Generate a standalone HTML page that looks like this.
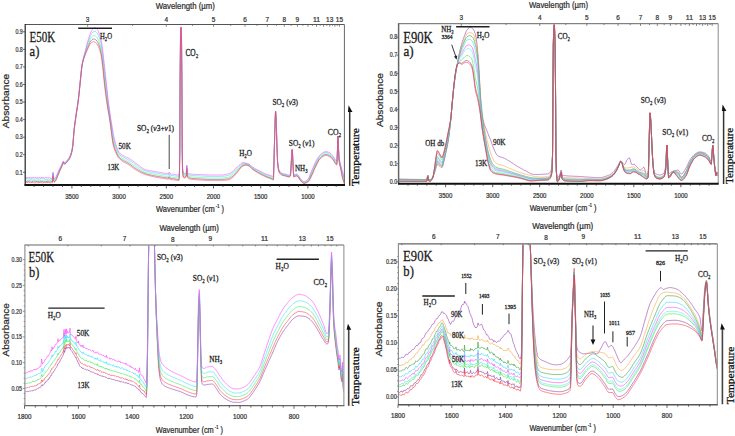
<!DOCTYPE html>
<html><head><meta charset="utf-8"><style>
html,body{margin:0;padding:0;background:#fff;width:735px;height:436px;overflow:hidden}
svg{display:block}
</style></head><body>
<svg width="735" height="436" viewBox="0 0 735 436">
<defs><filter id="soft" x="-5%" y="-5%" width="110%" height="110%"><feGaussianBlur stdDeviation="0.3"/></filter></defs>
<rect width="735" height="436" fill="#fff"/>
<clipPath id="cA"><rect x="25.5" y="25" width="318.5" height="159.5"/></clipPath>
<g clip-path="url(#cA)"><g filter="url(#soft)" fill="none" stroke-linejoin="round" stroke-width="0.75">
<path d="M25 181.4L25.5 181.1 26 181.5 26.5 181.6 27 181.2 27.5 181.3 28 181.3 28.5 181.4 29 181 29.5 181.1 30 181.4 30.5 181.7 31 181.6 31.5 181.9 32 181.7 32.5 181.4 33 181.5 33.5 181 34 181.3 34.5 181.3 35 181.6 35.5 181.7 36 181.4 36.5 181.4 37 181.2 37.5 181.5 38 181.6 38.5 181.7 39 181.4 39.5 182.1 40 181.9 40.5 181.6 41 181.5 41.5 181.5 42 181.7 42.5 181.6 43 181.8 43.5 181.8 44 182 44.5 181.9 45 181.6 45.5 181.7 46 181.5 46.5 181.5 47 182.1 47.5 181.5 48 182.2 48.5 181.6 49 181.7 49.5 181.9 50 181.7 50.5 181.8 51 181.6 51.5 181.6 52 181.6 52.4 181.5 52.5 181.6 53 175.2 53.5 180.1 53.6 180.6 54 181.2 54.5 181.5 55 181.1 55.5 180.3 56 179.5 56.5 178.5 57 177.3 57.5 176.1 58 174.8 58.5 173.6 59 172.4 59.5 171.3 60 170.2 60.5 169 61 167.9 61.5 166.8 62 165.6 62.5 164.4 62.6 164.2 63 163 63.3 162.4 63.5 162.6 64 163.7 64.2 163.9 64.5 163.8 65 163.7 65.5 163.4 66 163.1 66.5 162.5 67 161.8 67.5 161.2 68 160.6 68.5 159.9 69 159.3 69.5 158.4 70 157.4 70.5 156.2 71 154.7 71.2 154.1 71.5 153 72 151 72.5 148.2 72.6 147.6 73 143.9 73.5 137.6 74 131.6 74.1 130.6 74.5 127.1 75 123.3 75.5 119.7 75.7 118.2 76 116.1 76.5 112.7 77 109.5 77.5 106.2 78 102.7 78.4 99.6 78.5 98.8 79 94.3 79.5 89.4 80 84.4 80.5 79.6 81 74.6 81.5 69.7 82 65.8 82.5 63.1 83 60.9 83.5 59.1 84 57.5 84.5 56.1 85 54.8 85.5 53.4 86 52 86.5 50.7 87 49.4 87.5 48.1 88 46.9 88.5 45.7 89 44.5 89.5 43.4 90 42.3 90.5 41.4 91 40.8 91.5 40.3 92 39.8 92.5 39.4 93 39.2 93.5 39 94 39 94.5 39.1 95 39.3 95.3 39.5 95.5 39.6 96 40 96.5 40.5 97 41.1 97.5 41.9 98 42.8 98.5 43.9 99 45 99.5 46.3 100 47.9 100.5 49.8 101 52 101.5 54.7 102 58.2 102.5 62.2 103 66.6 103.5 71.3 104 76.5 104.5 81.3 105 85.6 105.5 89.8 106 93.7 106.4 96.7 106.5 97.5 107 101.1 107.5 104.5 108 107.7 108.2 109 108.5 110.8 109 113.9 109.5 117.1 110 120.3 110.5 123.8 111 127.6 111.5 131.5 112 135.2 112.5 138.7 113 141.7 113.4 143.6 113.5 144 114 145.9 114.5 147.5 115 148.9 115.4 149.9 115.5 150.2 116 151.4 116.5 152.6 117 153.7 117.5 154.8 118 155.7 118.5 156.4 119 157.1 119.5 157.7 119.8 158 120 158.2 120.5 158.6 121 159 121.5 159.4 122 159.8 122.5 160.1 123 160.4 123.5 160.7 124 161 124.5 161.2 125 161.5 125.5 161.7 126 162 126.5 162.2 127 162.5 127.5 162.7 128 163 128.5 163.3 129 163.7 129.5 164 130 164.3 130.5 164.7 131 165.1 131.5 165.4 132 165.8 132.5 166.2 133 166.6 133.5 166.9 134 167.3 134.5 167.7 135 168 135.5 168.3 136 168.7 136.5 169 137 169.3 137.5 169.6 138 169.9 138.5 170.2 139 170.5 139.5 170.8 140 171 140.5 171.3 141 171.6 141.5 171.9 142 172.1 142.5 172.4 143 172.6 143.5 172.8 144 173 144.5 173.2 145 173.4 145.5 173.6 146 173.7 146.5 173.9 147 174 147.5 174.2 148 174.3 148.5 174.5 149 174.6 149.5 174.7 150 174.8 150.5 175 151 175.1 151.5 175.2 152 175.3 152.5 175.4 153 175.5 153.5 175.6 154 175.7 154.5 175.8 155 175.9 155.5 176 156 176.1 156.5 176.2 157 176.3 157.5 176.4 158 176.5 158.5 176.5 159 176.6 159.5 176.7 160 176.8 160.5 176.9 161 176.9 161.5 177 162 177.1 162.5 177.2 163 177.3 163.5 177.3 164 177.4 164.5 177.5 165 177.6 165.5 177.6 166 177.7 166.5 177.8 167 177.9 167.5 178 168 178 168.5 178.1 169 177 169.2 176.8 169.5 177.2 170 178.2 170.5 178.3 171 178.4 171.5 178.5 172 178.6 172.5 178.7 173 178.7 173.5 178.7 174 178.8 174.5 178.8 175 178.9 175.5 179 176 179.1 176.5 179.2 177 179.3 177.5 179.4 178 179.4 178.5 179.5 178.8 179.5 179 178.9 179.4 175 179.5 172.2 179.8 149.6 180 102 180.1 79.6 180.5 37.8 181 27.4 181.5 37.8 181.9 79.6 182 102.3 182.2 149.6 182.5 168.8 182.6 171.2 183 175 183.4 176.5 183.5 176.7 184 177.1 184.5 177.1 185 177 185.5 176.7 186 176.4 186.3 176.1 186.5 173.2 186.8 168.2 187 170.2 187.4 176.1 187.5 176.3 188 176.9 188.5 177.4 189 177.7 189.5 177.9 190 178 190.5 178.1 191 178.2 191.5 178.2 192 178.3 192.5 178.4 193 178.4 193.5 178.5 194 178.5 194.5 178.6 195 178.6 195.5 178.6 196 178.7 196.5 178.7 197 178.7 197.5 178.8 198 178.8 198.5 178.8 199 178.8 199.5 178.9 200 178.9 200.5 178.9 201 179 201.5 179 202 179 202.5 179.1 203 179.1 203.5 179.1 204 179.2 204.5 179.2 205 179.2 205.5 179.3 206 179.3 206.5 179.3 207 179.3 207.5 179.4 208 179.4 208.5 179.4 209 179.4 209.5 179.4 210 179.4 210.5 179.4 211 179.4 211.5 179.4 212 179.4 212.5 179.4 213 179.4 213.5 179.4 214 179.4 214.5 179.4 215 179.4 215.5 179.4 216 179.4 216.5 179.4 217 179.4 217.5 179.4 218 179.4 218.5 179.4 219 179.4 219.5 179.4 220 179.4 220.5 179.4 221 179.4 221.5 179.4 222 179.4 222.5 179.3 223 179.3 223.5 179.3 224 179.2 224.5 179.2 225 179.2 225.5 179.1 226 179.1 226.5 179 227 178.9 227.5 178.9 228 178.8 228.5 178.7 229 178.5 229.5 178.3 230 178.1 230.5 177.8 231 177.5 231.5 177.1 232 176.8 232.5 176.4 233 176 233.5 175.5 234 175 234.5 174.5 235 173.9 235.5 173.3 236 172.8 236.5 172.2 237 171.7 237.5 171 238 170.4 238.5 169.8 239 169.2 239.5 168.6 240 168.1 240.5 167.6 241 167 241.5 166.4 242 165.9 242.5 165.5 243 165.3 243.5 165.1 244 165 244.5 164.9 245 164.8 245.5 164.8 246 164.8 246.1 164.8 246.5 164.8 247 164.9 247.5 165 248 165.2 248.5 165.4 249 165.6 249.5 165.9 250 166.4 250.5 166.9 251 167.5 251.5 168 252 168.5 252.5 168.9 253 169.2 253.5 169.6 254 169.9 254.5 170.2 255 170.5 255.5 170.8 256 171.1 256.5 171.4 257 171.7 257.5 172 258 172.3 258.5 172.6 259 172.9 259.5 173.1 260 173.4 260.5 173.7 261 173.9 261.5 174.2 262 174.5 262.5 174.7 263 175 263.5 175.2 264 175.5 264.5 175.7 265 175.9 265.5 176.2 266 176.4 266.5 176.6 267 176.8 267.5 177 268 177.2 268.5 177.4 269 177.6 269.5 177.8 270 178 270.5 178.1 271 178.3 271.5 178.5 272 178.7 272.5 179 273 179.2 273.4 179.3 273.5 178.6 274 161.5 274.3 149.6 274.5 142.7 275 123.6 275.5 111.8 275.6 111.4 276 117.1 276.5 132 276.6 134.8 277 148.1 277.5 161.6 278 166.5 278.5 169.8 279 171.6 279.5 172.5 280 173.2 280.5 173.7 281 174.1 281.5 174.5 282 174.8 282.5 175 283 175.2 283.5 175.3 284 175.4 284.5 175.5 285 175.6 285.5 175.7 286 175.9 286.5 176 287 176.2 287.5 176.4 288 176.5 288.5 176.6 289 176.6 289.5 176.5 290 176.2 290.5 175.6 291 168.9 291.4 161.2 291.5 159.6 292 151 292.2 149.8 292.5 153.3 293 164.6 293.5 174 293.8 176.6 294 176.6 294.5 176.4 295 176.1 295.5 175.9 296 175.7 296.5 175.6 297 175.8 297.5 176.1 298 176.6 298.5 177.2 299 178 299.5 178.9 300 179.6 300.5 180.2 301 180.8 301.5 181.4 302 181.9 302.5 182.4 303 182.8 303.5 183 304 183.1 304.5 183.1 305 183 305.5 182.8 306 182.6 306.5 182.3 307 182.1 307.5 181.7 308 181.4 308.5 180.9 309 180.2 309.5 179.4 310 178.4 310.5 177.3 311 176.2 311.5 175.1 312 174 312.5 172.9 313 171.8 313.5 170.6 314 169.5 314.5 168.3 315 167.1 315.5 166 316 165 316.5 164 317 163 317.5 162 318 161.1 318.5 160.2 319 159.4 319.5 158.7 320 158.2 320.5 157.7 321 157.3 321.5 156.9 322 156.4 322.5 156.1 323 155.7 323.5 155.4 324 155.1 324.5 154.9 325 154.7 325.5 154.6 325.9 154.6 326 154.6 326.5 154.7 327 154.8 327.5 154.9 328 155.1 328.5 155.4 329 155.6 329.5 155.9 330 156.2 330.5 156.5 331 157 331.5 157.5 332 158 332.5 158.6 333 159.2 333.5 159.9 334 160.7 334.5 161.5 335 162.4 335.5 163.2 336 163.8 336.5 164.1 336.8 164.2 337 162.3 337.5 149.6 338 136 338.5 149.6 339 159 339.2 161.2 339.5 163.1 340 165.2 340.5 167.2 341 169.2 341.5 172 342 174.8 342.5 176.8 343 178.6 343.5 180.2 344 181.7 344.4 182.8" stroke="#8a2a8a" stroke-opacity="0.75"/>
<path d="M25 180.2L25.5 180.1 26 180.4 26.5 180 27 180.3 27.5 180.4 28 180.4 28.5 180 29 180.6 29.5 180.1 30 180.4 30.5 180.1 31 179.8 31.5 180.3 32 180.4 32.5 180.3 33 180.4 33.5 180.1 34 180.1 34.5 180.3 35 180.8 35.5 180.5 36 180.2 36.5 180.5 37 180.2 37.5 180.2 38 180.6 38.5 180.2 39 180 39.5 180.2 40 180.4 40.5 180.4 41 180.7 41.5 180.2 42 180.6 42.5 180.5 43 180.4 43.5 180.6 44 180.6 44.5 180.2 45 180.7 45.5 180.1 46 180.5 46.5 180.5 47 180.6 47.5 180.3 48 180.5 48.5 180.5 49 180.7 49.5 180.3 50 180.5 50.5 180.5 51 180.2 51.5 181.2 52 180.5 52.4 180.2 52.5 180.4 53 174.2 53.5 178.9 53.6 179.5 54 180.2 54.5 180.5 55 180.2 55.5 179.4 56 178.6 56.5 177.6 57 176.5 57.5 175.3 58 174 58.5 172.8 59 171.7 59.5 170.6 60 169.5 60.5 168.4 61 167.3 61.5 166.2 62 165.1 62.5 163.9 62.6 163.7 63 162.5 63.3 162 63.5 162.2 64 163.3 64.2 163.4 64.5 163.4 65 163.2 65.5 163 66 162.6 66.5 162 67 161.4 67.5 160.7 68 160.1 68.5 159.5 69 158.8 69.5 158 70 157 70.5 155.7 71 154.3 71.2 153.6 71.5 152.5 72 150.5 72.5 147.7 72.6 147.1 73 143.4 73.5 137.1 74 131.1 74.1 130.1 74.5 126.6 75 122.8 75.5 119.2 75.7 117.7 76 115.6 76.5 112.2 77 109 77.5 105.7 78 102.2 78.4 99.1 78.5 98.3 79 93.8 79.5 88.9 80 83.9 80.5 79.1 81 74.2 81.5 69.4 82 65.5 82.5 62.8 83 60.5 83.5 58.6 84 56.9 84.5 55.4 85 53.9 85.5 52.4 86 50.8 86.5 49.2 87 47.7 87.5 46.3 88 44.9 88.5 43.6 89 42.3 89.5 41 90 39.8 90.5 38.8 91 38 91.5 37.4 92 36.8 92.5 36.3 93 35.9 93.5 35.7 94 35.6 94.5 35.6 95 35.7 95.3 35.8 95.5 35.9 96 36.2 96.5 36.7 97 37.3 97.5 38.1 98 39 98.5 40.1 99 41.3 99.5 42.6 100 44.2 100.5 46 101 48.2 101.5 50.8 102 54.1 102.5 57.9 103 62.3 103.5 67 104 72 104.5 76.6 105 81 105.5 85.3 106 89.4 106.4 92.7 106.5 93.5 107 97.4 107.5 101.2 108 104.8 108.2 106.2 108.5 108.2 109 111.5 109.5 114.8 110 118.2 110.5 121.6 111 125.2 111.5 128.8 112 132.4 112.5 135.7 113 138.7 113.4 140.7 113.5 141.1 114 143.2 114.5 145 115 146.6 115.4 147.8 115.5 148 116 149.4 116.5 150.7 117 151.9 117.5 153 118 154 118.5 154.8 119 155.6 119.5 156.2 119.8 156.5 120 156.7 120.5 157.2 121 157.6 121.5 157.9 122 158.3 122.5 158.6 123 158.9 123.5 159.2 124 159.4 124.5 159.7 125 159.9 125.5 160.2 126 160.4 126.5 160.7 127 160.9 127.5 161.2 128 161.4 128.5 161.7 129 162 129.5 162.3 130 162.7 130.5 163 131 163.4 131.5 163.7 132 164.1 132.5 164.5 133 164.8 133.5 165.2 134 165.6 134.5 165.9 135 166.3 135.5 166.6 136 167 136.5 167.3 137 167.6 137.5 167.9 138 168.3 138.5 168.6 139 168.9 139.5 169.2 140 169.6 140.5 169.9 141 170.2 141.5 170.5 142 170.8 142.5 171.1 143 171.3 143.5 171.6 144 171.8 144.5 172 145 172.2 145.5 172.4 146 172.5 146.5 172.7 147 172.8 147.5 172.9 148 173.1 148.5 173.2 149 173.3 149.5 173.4 150 173.5 150.5 173.6 151 173.7 151.5 173.8 152 173.9 152.5 174 153 174.1 153.5 174.2 154 174.3 154.5 174.4 155 174.5 155.5 174.6 156 174.7 156.5 174.8 157 174.9 157.5 175 158 175.1 158.5 175.2 159 175.3 159.5 175.3 160 175.4 160.5 175.5 161 175.6 161.5 175.7 162 175.7 162.5 175.8 163 175.9 163.5 176 164 176 164.5 176.1 165 176.2 165.5 176.3 166 176.3 166.5 176.4 167 176.5 167.5 176.6 168 176.6 168.5 176.6 169 175.6 169.2 175.3 169.5 175.7 170 176.7 170.5 176.9 171 177 171.5 177.1 172 177.2 172.5 177.3 173 177.3 173.5 177.4 174 177.4 174.5 177.5 175 177.5 175.5 177.6 176 177.7 176.5 177.8 177 177.9 177.5 178 178 178 178.5 178.1 178.8 178.1 179 177.6 179.4 173.8 179.5 171 179.8 149.1 180 101.5 180.1 79.1 180.5 37.5 181 27.3 181.5 37.5 181.9 79.1 182 101.8 182.2 149.1 182.5 167.9 182.6 170.2 183 173.8 183.4 175.2 183.5 175.4 184 176 184.5 175.9 185 175.8 185.5 175.6 186 175.3 186.3 175 186.5 172.2 186.8 167.2 187 169.1 187.4 175 187.5 175.1 188 175.8 188.5 176.2 189 176.5 189.5 176.6 190 176.8 190.5 176.8 191 176.9 191.5 177 192 177 192.5 177.1 193 177.1 193.5 177.2 194 177.2 194.5 177.2 195 177.3 195.5 177.3 196 177.3 196.5 177.3 197 177.4 197.5 177.4 198 177.4 198.5 177.4 199 177.5 199.5 177.5 200 177.5 200.5 177.6 201 177.6 201.5 177.6 202 177.7 202.5 177.7 203 177.7 203.5 177.8 204 177.8 204.5 177.8 205 177.8 205.5 177.9 206 177.9 206.5 177.9 207 178 207.5 178 208 178 208.5 178 209 178 209.5 178 210 178 210.5 178 211 178 211.5 178 212 178 212.5 178 213 178 213.5 178 214 178 214.5 178 215 178 215.5 178 216 178 216.5 178 217 178 217.5 178 218 178 218.5 178 219 178 219.5 178 220 178 220.5 178 221 178 221.5 178 222 178 222.5 177.9 223 177.9 223.5 177.9 224 177.8 224.5 177.8 225 177.7 225.5 177.7 226 177.6 226.5 177.5 227 177.5 227.5 177.4 228 177.3 228.5 177.2 229 177 229.5 176.8 230 176.6 230.5 176.3 231 176 231.5 175.6 232 175.3 232.5 174.9 233 174.5 233.5 174 234 173.5 234.5 172.9 235 172.4 235.5 171.8 236 171.3 236.5 170.8 237 170.2 237.5 169.7 238 169.1 238.5 168.5 239 168 239.5 167.5 240 167 240.5 166.5 241 165.9 241.5 165.4 242 165 242.5 164.6 243 164.4 243.5 164.3 244 164.2 244.5 164.2 245 164.2 245.5 164.2 246 164.2 246.1 164.2 246.5 164.3 247 164.4 247.5 164.5 248 164.7 248.5 164.9 249 165.1 249.5 165.4 250 165.9 250.5 166.4 251 166.9 251.5 167.4 252 167.9 252.5 168.2 253 168.6 253.5 168.9 254 169.3 254.5 169.6 255 169.9 255.5 170.2 256 170.5 256.5 170.8 257 171 257.5 171.3 258 171.6 258.5 171.9 259 172.1 259.5 172.4 260 172.7 260.5 172.9 261 173.2 261.5 173.4 262 173.7 262.5 174 263 174.2 263.5 174.5 264 174.7 264.5 175 265 175.2 265.5 175.4 266 175.7 266.5 175.9 267 176.1 267.5 176.2 268 176.4 268.5 176.6 269 176.8 269.5 177 270 177.1 270.5 177.3 271 177.5 271.5 177.7 272 177.9 272.5 178.1 273 178.3 273.4 178.4 273.5 177.7 274 160.8 274.3 149.1 274.5 142.3 275 123.4 275.5 111.7 275.6 111.3 276 117 276.5 131.8 276.6 134.6 277 147.7 277.5 161.1 278 166 278.5 169.3 279 171.1 279.5 172 280 172.7 280.5 173.2 281 173.6 281.5 174 282 174.3 282.5 174.5 283 174.7 283.5 174.8 284 174.9 284.5 175 285 175.1 285.5 175.2 286 175.4 286.5 175.5 287 175.7 287.5 175.9 288 176 288.5 176.1 289 176.1 289.5 176 290 175.7 290.5 175.1 291 168.1 291.4 160.2 291.5 158.6 292 150.7 292.2 149.6 292.5 153 293 164.1 293.5 173.5 293.8 176.1 294 176.1 294.5 175.9 295 175.6 295.5 175.4 296 175.2 296.5 175.1 297 175.3 297.5 175.6 298 176.1 298.5 176.7 299 177.5 299.5 178.4 300 179.1 300.5 179.7 301 180.3 301.5 180.9 302 181.4 302.5 181.9 303 182.3 303.5 182.5 304 182.6 304.5 182.6 305 182.4 305.5 182.3 306 182 306.5 181.7 307 181.4 307.5 181 308 180.7 308.5 180.1 309 179.4 309.5 178.4 310 177.4 310.5 176.2 311 175 311.5 173.8 312 172.8 312.5 171.7 313 170.5 313.5 169.3 314 168.1 314.5 167 315 165.8 315.5 164.7 316 163.8 316.5 162.8 317 161.8 317.5 160.9 318 160 318.5 159.1 319 158.4 319.5 157.7 320 157.2 320.5 156.7 321 156.3 321.5 155.9 322 155.5 322.5 155.1 323 154.7 323.5 154.4 324 154.1 324.5 153.9 325 153.8 325.5 153.7 325.9 153.6 326 153.6 326.5 153.7 327 153.8 327.5 154 328 154.2 328.5 154.4 329 154.6 329.5 154.9 330 155.2 330.5 155.5 331 156 331.5 156.5 332 157 332.5 157.6 333 158.2 333.5 158.9 334 159.7 334.5 160.5 335 161.4 335.5 162.2 336 162.8 336.5 163.1 336.8 163.2 337 161.3 337.5 149.1 338 136 338.5 149.1 339 158 339.2 160.2 339.5 162.1 340 164.2 340.5 166.2 341 168.2 341.5 170.8 342 173.3 342.5 175.2 343 176.8 343.5 178.5 344 180.1 344.4 181.3" stroke="#3f5" stroke-opacity="0.75"/>
<path d="M25 178.8L25.5 179 26 178.3 26.5 178.6 27 178.3 27.5 179.1 28 179.1 28.5 178.8 29 179.3 29.5 178.6 30 178.9 30.5 178.9 31 178.6 31.5 178.9 32 179.3 32.5 178.6 33 179.1 33.5 178.8 34 179.3 34.5 179 35 179 35.5 179 36 178.9 36.5 178.5 37 179.2 37.5 178.6 38 179 38.5 179.1 39 178.7 39.5 179 40 179.2 40.5 178.9 41 178.7 41.5 178.2 42 178.7 42.5 178.8 43 178.8 43.5 178.7 44 179.1 44.5 178.9 45 179 45.5 179.2 46 178.8 46.5 179 47 179.6 47.5 179.3 48 178.7 48.5 179.1 49 179.2 49.5 179.4 50 179.2 50.5 179 51 179 51.5 179.3 52 179.2 52.4 179 52.5 178.6 53 173 53.5 177.6 53.6 178.1 54 179 54.5 179.4 55 179.1 55.5 178.4 56 177.6 56.5 176.6 57 175.5 57.5 174.3 58 173.1 58.5 171.9 59 170.8 59.5 169.7 60 168.6 60.5 167.6 61 166.6 61.5 165.5 62 164.4 62.5 163.3 62.6 163.1 63 161.9 63.3 161.4 63.5 161.6 64 162.7 64.2 162.9 64.5 162.9 65 162.7 65.5 162.4 66 162.1 66.5 161.5 67 160.9 67.5 160.2 68 159.6 68.5 159 69 158.3 69.5 157.4 70 156.4 70.5 155.2 71 153.7 71.2 153 71.5 151.9 72 149.8 72.5 147.1 72.6 146.5 73 142.8 73.5 136.5 74 130.5 74.1 129.5 74.5 126 75 122.2 75.5 118.6 75.7 117.1 76 115 76.5 111.6 77 108.4 77.5 105.1 78 101.6 78.4 98.5 78.5 97.7 79 93.2 79.5 88.3 80 83.3 80.5 78.5 81 73.7 81.5 69.1 82 65.2 82.5 62.4 83 60.1 83.5 58 84 56.2 84.5 54.5 85 52.9 85.5 51.1 86 49.3 86.5 47.5 87 45.7 87.5 44.1 88 42.5 88.5 41 89 39.5 89.5 38.1 90 36.8 90.5 35.7 91 34.8 91.5 33.9 92 33.2 92.5 32.5 93 32 93.5 31.7 94 31.5 94.5 31.3 95 31.3 95.3 31.3 95.5 31.4 96 31.7 96.5 32.2 97 32.8 97.5 33.5 98 34.4 98.5 35.5 99 36.8 99.5 38.2 100 39.7 100.5 41.5 101 43.6 101.5 46.1 102 49.1 102.5 52.8 103 57.1 103.5 61.8 104 66.5 104.5 71.1 105 75.5 105.5 79.9 106 84.3 106.4 87.8 106.5 88.6 107 93 107.5 97.2 108 101.3 108.2 102.8 108.5 105 109 108.6 109.5 112.2 110 115.6 110.5 119 111 122.4 111.5 125.7 112 129 112.5 132.1 113 135 113.4 137.1 113.5 137.6 114 139.9 114.5 142 115 143.9 115.4 145.2 115.5 145.5 116 146.9 116.5 148.3 117 149.7 117.5 150.9 118 152 118.5 152.9 119 153.8 119.5 154.4 119.8 154.8 120 155 120.5 155.4 121 155.8 121.5 156.2 122 156.5 122.5 156.8 123 157 123.5 157.3 124 157.5 124.5 157.8 125 158.1 125.5 158.3 126 158.6 126.5 158.8 127 159.1 127.5 159.3 128 159.5 128.5 159.8 129 160.1 129.5 160.4 130 160.7 130.5 161 131 161.3 131.5 161.7 132 162 132.5 162.4 133 162.8 133.5 163.1 134 163.5 134.5 163.9 135 164.2 135.5 164.6 136 165 136.5 165.3 137 165.6 137.5 166 138 166.3 138.5 166.7 139 167.1 139.5 167.4 140 167.8 140.5 168.2 141 168.5 141.5 168.9 142 169.2 142.5 169.5 143 169.8 143.5 170.1 144 170.3 144.5 170.5 145 170.7 145.5 170.9 146 171 146.5 171.2 147 171.3 147.5 171.4 148 171.5 148.5 171.7 149 171.8 149.5 171.9 150 172 150.5 172.1 151 172.2 151.5 172.3 152 172.3 152.5 172.4 153 172.5 153.5 172.6 154 172.7 154.5 172.8 155 172.9 155.5 173 156 173.1 156.5 173.2 157 173.2 157.5 173.3 158 173.4 158.5 173.5 159 173.6 159.5 173.7 160 173.8 160.5 173.9 161 174 161.5 174 162 174.1 162.5 174.2 163 174.3 163.5 174.3 164 174.4 164.5 174.5 165 174.6 165.5 174.6 166 174.7 166.5 174.7 167 174.8 167.5 174.9 168 174.9 168.5 174.9 169 173.8 169.2 173.5 169.5 174 170 175 170.5 175.2 171 175.3 171.5 175.4 172 175.5 172.5 175.6 173 175.7 173.5 175.7 174 175.8 174.5 175.8 175 175.9 175.5 176 176 176 176.5 176.1 177 176.2 177.5 176.3 178 176.4 178.5 176.4 178.8 176.4 179 175.9 179.4 172.2 179.5 169.6 179.8 148.5 180 101 180.1 78.5 180.5 37.2 181 27.1 181.5 37.2 181.9 78.5 182 101.2 182.2 148.5 182.5 166.8 182.6 169 183 172.3 183.4 173.8 183.5 174 184 174.6 184.5 174.6 185 174.5 185.5 174.3 186 173.9 186.3 173.6 186.5 170.9 186.8 166 187 167.9 187.4 173.6 187.5 173.8 188 174.4 188.5 174.8 189 175 189.5 175.2 190 175.2 190.5 175.3 191 175.4 191.5 175.4 192 175.5 192.5 175.5 193 175.5 193.5 175.6 194 175.6 194.5 175.6 195 175.7 195.5 175.7 196 175.7 196.5 175.7 197 175.7 197.5 175.8 198 175.8 198.5 175.8 199 175.8 199.5 175.8 200 175.9 200.5 175.9 201 175.9 201.5 176 202 176 202.5 176 203 176.1 203.5 176.1 204 176.1 204.5 176.2 205 176.2 205.5 176.2 206 176.3 206.5 176.3 207 176.3 207.5 176.3 208 176.3 208.5 176.4 209 176.4 209.5 176.4 210 176.4 210.5 176.4 211 176.4 211.5 176.4 212 176.4 212.5 176.4 213 176.4 213.5 176.4 214 176.4 214.5 176.4 215 176.4 215.5 176.4 216 176.4 216.5 176.4 217 176.4 217.5 176.4 218 176.4 218.5 176.4 219 176.4 219.5 176.4 220 176.4 220.5 176.4 221 176.4 221.5 176.3 222 176.3 222.5 176.3 223 176.2 223.5 176.2 224 176.1 224.5 176.1 225 176 225.5 175.9 226 175.9 226.5 175.8 227 175.7 227.5 175.6 228 175.5 228.5 175.4 229 175.2 229.5 175 230 174.7 230.5 174.5 231 174.2 231.5 173.8 232 173.5 232.5 173.1 233 172.7 233.5 172.2 234 171.7 234.5 171.1 235 170.6 235.5 170 236 169.5 236.5 169 237 168.5 237.5 168 238 167.5 238.5 167 239 166.5 239.5 166.1 240 165.6 240.5 165.2 241 164.7 241.5 164.2 242 163.8 242.5 163.5 243 163.4 243.5 163.3 244 163.3 244.5 163.4 245 163.4 245.5 163.5 246 163.5 246.1 163.6 246.5 163.6 247 163.7 247.5 163.9 248 164.1 248.5 164.3 249 164.5 249.5 164.8 250 165.2 250.5 165.7 251 166.2 251.5 166.7 252 167.1 252.5 167.5 253 167.8 253.5 168.2 254 168.5 254.5 168.8 255 169.1 255.5 169.4 256 169.7 256.5 170 257 170.2 257.5 170.5 258 170.7 258.5 171 259 171.2 259.5 171.5 260 171.8 260.5 172 261 172.3 261.5 172.5 262 172.8 262.5 173.1 263 173.3 263.5 173.6 264 173.8 264.5 174.1 265 174.3 265.5 174.5 266 174.8 266.5 175 267 175.1 267.5 175.3 268 175.5 268.5 175.7 269 175.8 269.5 176 270 176.2 270.5 176.3 271 176.5 271.5 176.7 272 176.8 272.5 177.1 273 177.3 273.4 177.4 273.5 176.7 274 160 274.3 148.5 274.5 141.8 275 123.1 275.5 111.5 275.6 111.1 276 116.8 276.5 131.5 276.6 134.2 277 147.3 277.5 160.5 278 165.4 278.5 168.7 279 170.5 279.5 171.4 280 172.1 280.5 172.6 281 173 281.5 173.4 282 173.7 282.5 173.9 283 174.1 283.5 174.2 284 174.3 284.5 174.4 285 174.5 285.5 174.6 286 174.8 286.5 174.9 287 175.1 287.5 175.3 288 175.4 288.5 175.5 289 175.5 289.5 175.4 290 175.1 290.5 174.5 291 167.1 291.4 159 291.5 157.5 292 150.2 292.2 149.2 292.5 152.6 293 163.5 293.5 172.8 293.8 175.5 294 175.5 294.5 175.3 295 175 295.5 174.8 296 174.6 296.5 174.5 297 174.7 297.5 175 298 175.5 298.5 176.1 299 176.9 299.5 177.8 300 178.5 300.5 179.1 301 179.7 301.5 180.3 302 180.8 302.5 181.3 303 181.7 303.5 181.9 304 182 304.5 182 305 181.8 305.5 181.6 306 181.3 306.5 181 307 180.6 307.5 180.2 308 179.8 308.5 179.2 309 178.3 309.5 177.3 310 176.1 310.5 174.9 311 173.6 311.5 172.4 312 171.2 312.5 170.1 313 169 313.5 167.8 314 166.6 314.5 165.4 315 164.3 315.5 163.2 316 162.2 316.5 161.3 317 160.4 317.5 159.5 318 158.6 318.5 157.9 319 157.1 319.5 156.5 320 156 320.5 155.6 321 155.1 321.5 154.7 322 154.3 322.5 153.9 323 153.5 323.5 153.2 324 153 324.5 152.8 325 152.6 325.5 152.5 325.9 152.5 326 152.5 326.5 152.5 327 152.6 327.5 152.8 328 153 328.5 153.2 329 153.5 329.5 153.7 330 154 330.5 154.3 331 154.8 331.5 155.3 332 155.8 332.5 156.4 333 157 333.5 157.7 334 158.5 334.5 159.3 335 160.2 335.5 161 336 161.6 336.5 161.9 336.8 162 337 160.2 337.5 148.5 338 136 338.5 148.5 339 156.9 339.2 159 339.5 160.8 340 163 340.5 165 341 167 341.5 169.3 342 171.5 342.5 173.2 343 174.8 343.5 176.4 344 178.1 344.4 179.5" stroke="#3cf" stroke-opacity="0.75"/>
<path d="M25 177.6L25.5 178 26 177.7 26.5 177.6 27 177.1 27.5 177.5 28 177.5 28.5 177.6 29 177.5 29.5 177.6 30 177.5 30.5 177.3 31 177.8 31.5 177.8 32 178.1 32.5 177.6 33 177.5 33.5 177.5 34 177.3 34.5 177.9 35 177.4 35.5 177.4 36 177.6 36.5 178 37 177.7 37.5 177.4 38 177.5 38.5 177.9 39 177.7 39.5 177.5 40 177.7 40.5 177.9 41 178.2 41.5 177.4 42 177.6 42.5 177.6 43 177.2 43.5 177.5 44 177.5 44.5 178.1 45 177.8 45.5 177.4 46 178 46.5 177.7 47 177.4 47.5 177.7 48 177.7 48.5 177.7 49 177.9 49.5 177.4 50 177.9 50.5 178.2 51 178.2 51.5 178.3 52 178.3 52.4 178.4 52.5 177.3 53 172 53.5 176.4 53.6 177 54 178 54.5 178.5 55 178.2 55.5 177.5 56 176.7 56.5 175.8 57 174.7 57.5 173.5 58 172.3 58.5 171.1 59 170 59.5 169 60 167.9 60.5 166.9 61 165.9 61.5 164.9 62 163.9 62.5 162.8 62.6 162.6 63 161.5 63.3 161 63.5 161.2 64 162.3 64.2 162.5 64.5 162.5 65 162.3 65.5 162 66 161.6 66.5 161.1 67 160.4 67.5 159.8 68 159.2 68.5 158.6 69 157.8 69.5 157 70 156 70.5 154.7 71 153.2 71.2 152.5 71.5 151.4 72 149.3 72.5 146.6 72.6 146 73 142.3 73.5 136 74 130 74.1 129 74.5 125.5 75 121.7 75.5 118.1 75.7 116.6 76 114.5 76.5 111.1 77 107.9 77.5 104.6 78 101.1 78.4 98 78.5 97.2 79 92.7 79.5 87.8 80 82.8 80.5 78 81 73.3 81.5 68.8 82 65 82.5 62.1 83 59.7 83.5 57.5 84 55.5 84.5 53.8 85 52 85.5 50.1 86 48.1 86.5 46.1 87 44.1 87.5 42.2 88 40.5 88.5 38.9 89 37.3 89.5 35.8 90 34.3 90.5 33.1 91 32 91.5 31 92 30.1 92.5 29.4 93 28.7 93.5 28.3 94 28 94.5 27.8 95 27.6 95.3 27.6 95.5 27.6 96 27.9 96.5 28.4 97 29 97.5 29.7 98 30.6 98.5 31.8 99 33 99.5 34.5 100 36 100.5 37.7 101 39.8 101.5 42.2 102 45 102.5 48.5 103 52.8 103.5 57.4 104 62 104.5 66.4 105 70.9 105.5 75.5 106 80 106.4 83.7 106.5 84.6 107 89.3 107.5 94 108 98.4 108.2 100 108.5 102.4 109 106.2 109.5 110 110 113.5 110.5 116.8 111 120 111.5 123.1 112 126.1 112.5 129.1 113 132 113.4 134.2 113.5 134.7 114 137.2 114.5 139.6 115 141.6 115.4 143 115.5 143.3 116 144.9 116.5 146.4 117 147.8 117.5 149.1 118 150.3 118.5 151.4 119 152.3 119.5 153 119.8 153.3 120 153.5 120.5 153.9 121 154.3 121.5 154.7 122 155 122.5 155.2 123 155.5 123.5 155.7 124 156 124.5 156.2 125 156.5 125.5 156.8 126 157 126.5 157.3 127 157.5 127.5 157.7 128 158 128.5 158.2 129 158.5 129.5 158.7 130 159 130.5 159.3 131 159.6 131.5 160 132 160.3 132.5 160.7 133 161 133.5 161.4 134 161.8 134.5 162.2 135 162.5 135.5 162.9 136 163.3 136.5 163.6 137 164 137.5 164.4 138 164.7 138.5 165.1 139 165.5 139.5 165.9 140 166.3 140.5 166.7 141 167.1 141.5 167.5 142 167.9 142.5 168.2 143 168.5 143.5 168.8 144 169.1 144.5 169.3 145 169.5 145.5 169.7 146 169.8 146.5 169.9 147 170.1 147.5 170.2 148 170.3 148.5 170.4 149 170.5 149.5 170.6 150 170.7 150.5 170.8 151 170.8 151.5 170.9 152 171 152.5 171.1 153 171.2 153.5 171.2 154 171.3 154.5 171.4 155 171.5 155.5 171.6 156 171.7 156.5 171.8 157 171.9 157.5 172 158 172.1 158.5 172.1 159 172.2 159.5 172.3 160 172.4 160.5 172.5 161 172.6 161.5 172.7 162 172.8 162.5 172.8 163 172.9 163.5 173 164 173.1 164.5 173.1 165 173.2 165.5 173.2 166 173.3 166.5 173.4 167 173.4 167.5 173.5 168 173.5 168.5 173.5 169 172.3 169.2 172 169.5 172.5 170 173.6 170.5 173.8 171 173.9 171.5 174.1 172 174.1 172.5 174.2 173 174.3 173.5 174.3 174 174.4 174.5 174.4 175 174.5 175.5 174.6 176 174.7 176.5 174.8 177 174.8 177.5 174.9 178 175 178.5 175 178.8 175 179 174.5 179.4 171 179.5 168.5 179.8 148 180 100.5 180.1 78 180.5 37 181 27 181.5 37 181.9 78 182 100.7 182.2 148 182.5 165.8 182.6 168 183 171.1 183.4 172.5 183.5 172.7 184 173.5 184.5 173.5 185 173.4 185.5 173.1 186 172.8 186.3 172.5 186.5 169.8 186.8 165 187 166.9 187.4 172.5 187.5 172.6 188 173.2 188.5 173.5 189 173.8 189.5 173.9 190 174 190.5 174.1 191 174.1 191.5 174.1 192 174.2 192.5 174.2 193 174.2 193.5 174.3 194 174.3 194.5 174.3 195 174.3 195.5 174.3 196 174.4 196.5 174.4 197 174.4 197.5 174.4 198 174.4 198.5 174.4 199 174.5 199.5 174.5 200 174.5 200.5 174.5 201 174.6 201.5 174.6 202 174.6 202.5 174.6 203 174.7 203.5 174.7 204 174.7 204.5 174.8 205 174.8 205.5 174.8 206 174.9 206.5 174.9 207 174.9 207.5 174.9 208 175 208.5 175 209 175 209.5 175 210 175 210.5 175 211 175 211.5 175 212 175 212.5 175 213 175 213.5 175 214 175 214.5 175 215 175 215.5 175 216 175 216.5 175 217 175 217.5 175 218 175 218.5 175 219 175 219.5 175 220 175 220.5 175 221 175 221.5 175 222 174.9 222.5 174.9 223 174.8 223.5 174.8 224 174.7 224.5 174.6 225 174.6 225.5 174.5 226 174.4 226.5 174.3 227 174.2 227.5 174.1 228 174 228.5 173.9 229 173.7 229.5 173.5 230 173.2 230.5 172.9 231 172.6 231.5 172.3 232 172 232.5 171.6 233 171.2 233.5 170.7 234 170.1 234.5 169.6 235 169 235.5 168.5 236 168 236.5 167.5 237 167.1 237.5 166.6 238 166.2 238.5 165.7 239 165.3 239.5 164.9 240 164.5 240.5 164.1 241 163.6 241.5 163.2 242 162.9 242.5 162.6 243 162.5 243.5 162.5 244 162.6 244.5 162.7 245 162.8 245.5 162.9 246 163 246.1 163 246.5 163.1 247 163.2 247.5 163.4 248 163.6 248.5 163.8 249 164 249.5 164.3 250 164.7 250.5 165.2 251 165.6 251.5 166.1 252 166.5 252.5 166.9 253 167.2 253.5 167.6 254 167.9 254.5 168.2 255 168.5 255.5 168.8 256 169.1 256.5 169.3 257 169.6 257.5 169.8 258 170 258.5 170.3 259 170.5 259.5 170.8 260 171 260.5 171.3 261 171.5 261.5 171.8 262 172 262.5 172.3 263 172.6 263.5 172.8 264 173.1 264.5 173.3 265 173.6 265.5 173.8 266 174 266.5 174.2 267 174.4 267.5 174.6 268 174.7 268.5 174.9 269 175 269.5 175.2 270 175.4 270.5 175.5 271 175.7 271.5 175.8 272 176 272.5 176.2 273 176.4 273.4 176.5 273.5 175.8 274 159.4 274.3 148 274.5 141.3 275 122.9 275.5 111.4 275.6 111 276 116.6 276.5 131.3 276.6 134 277 146.9 277.5 160 278 164.9 278.5 168.2 279 170 279.5 170.9 280 171.6 280.5 172.1 281 172.5 281.5 172.9 282 173.2 282.5 173.4 283 173.6 283.5 173.7 284 173.8 284.5 173.9 285 174 285.5 174.1 286 174.3 286.5 174.4 287 174.6 287.5 174.8 288 174.9 288.5 175 289 175 289.5 174.9 290 174.6 290.5 174 291 166.2 291.4 158 291.5 156.6 292 149.9 292.2 149 292.5 152.3 293 163 293.5 172.3 293.8 175 294 175 294.5 174.8 295 174.5 295.5 174.3 296 174.1 296.5 174 297 174.2 297.5 174.5 298 175 298.5 175.6 299 176.4 299.5 177.3 300 178 300.5 178.6 301 179.2 301.5 179.8 302 180.3 302.5 180.8 303 181.2 303.5 181.4 304 181.5 304.5 181.4 305 181.3 305.5 181.1 306 180.7 306.5 180.4 307 179.9 307.5 179.5 308 179 308.5 178.4 309 177.5 309.5 176.4 310 175.1 310.5 173.8 311 172.5 311.5 171.2 312 170 312.5 168.9 313 167.7 313.5 166.5 314 165.3 314.5 164.1 315 163 315.5 162 316 161 316.5 160.1 317 159.2 317.5 158.4 318 157.5 318.5 156.8 319 156.1 319.5 155.5 320 155 320.5 154.6 321 154.1 321.5 153.7 322 153.3 322.5 152.9 323 152.6 323.5 152.3 324 152 324.5 151.8 325 151.6 325.5 151.5 325.9 151.5 326 151.5 326.5 151.5 327 151.6 327.5 151.8 328 152 328.5 152.2 329 152.5 329.5 152.7 330 153 330.5 153.3 331 153.8 331.5 154.3 332 154.8 332.5 155.4 333 156 333.5 156.7 334 157.5 334.5 158.3 335 159.2 335.5 160 336 160.6 336.5 160.9 336.8 161 337 159.3 337.5 148 338 136 338.5 148 339 156 339.2 158 339.5 159.8 340 162 340.5 164.1 341 166 341.5 168.1 342 170 342.5 171.5 343 173 343.5 174.7 344 176.5 344.4 178" stroke="#f4f" stroke-opacity="0.75"/>
<path d="M25 182.3L25.5 182.3 26 182.8 26.5 181.7 27 182.4 27.5 182.5 28 182.3 28.5 182.7 29 182.6 29.5 182.3 30 182.5 30.5 183.1 31 182.5 31.5 182.5 32 182.4 32.5 182.5 33 182.2 33.5 182.4 34 183.1 34.5 182.8 35 182.7 35.5 182.8 36 183 36.5 182.7 37 183.1 37.5 182.8 38 182.6 38.5 183 39 182 39.5 182.4 40 182.6 40.5 182.4 41 182.5 41.5 182.4 42 182.4 42.5 183.3 43 182.8 43.5 182.6 44 182.9 44.5 182.5 45 182.8 45.5 182.7 46 183 46.5 182.2 47 182.8 47.5 182.6 48 182.3 48.5 182.9 49 182.4 49.5 183 50 182.7 50.5 182.8 51 182.6 51.5 182.8 52 182.1 52.4 182.6 52.5 182 53 176 53.5 181 53.6 181.5 54 182 54.5 182.2 55 181.8 55.5 181 56 180.2 56.5 179.1 57 178 57.5 176.7 58 175.5 58.5 174.2 59 173 59.5 171.9 60 170.7 60.5 169.6 61 168.4 61.5 167.2 62 166.1 62.5 164.8 62.6 164.6 63 163.3 63.3 162.8 63.5 163 64 164 64.2 164.2 64.5 164.2 65 164 65.5 163.8 66 163.4 66.5 162.8 67 162.2 67.5 161.5 68 160.9 68.5 160.3 69 159.6 69.5 158.8 70 157.8 70.5 156.6 71 155.1 71.2 154.5 71.5 153.5 72 151.4 72.5 148.6 72.6 148 73 144.3 73.5 138 74 132 74.1 131 74.5 127.5 75 123.7 75.5 120.1 75.7 118.6 76 116.5 76.5 113.1 77 109.9 77.5 106.6 78 103.1 78.4 100 78.5 99.2 79 94.7 79.5 89.9 80 84.9 80.5 80 81 74.9 81.5 69.9 82 66 82.5 63.4 83 61.3 83.5 59.5 84 58 84.5 56.7 85 55.5 85.5 54.3 86 53 86.5 51.8 87 50.7 87.5 49.6 88 48.5 88.5 47.4 89 46.3 89.5 45.3 90 44.3 90.5 43.5 91 43 91.5 42.6 92 42.3 92.5 42 93 41.8 93.5 41.7 94 41.8 94.5 42 95 42.3 95.3 42.5 95.5 42.6 96 43 96.5 43.5 97 44.1 97.5 44.9 98 45.8 98.5 46.9 99 48 99.5 49.3 100 50.9 100.5 52.8 101 55 101.5 57.9 102 61.5 102.5 65.7 103 70 103.5 74.8 104 80.1 104.5 85 105 89.3 105.5 93.3 106 97.1 106.4 100 106.5 100.7 107 104 107.5 107.1 108 110 108.2 111.2 108.5 112.9 109 115.8 109.5 118.8 110 122 110.5 125.5 111 129.5 111.5 133.5 112 137.5 112.5 141.1 113 144.2 113.4 146 113.5 146.4 114 148.1 114.5 149.5 115 150.7 115.4 151.6 115.5 151.9 116 153 116.5 154.1 117 155.2 117.5 156.2 118 157 118.5 157.7 119 158.3 119.5 158.8 119.8 159.1 120 159.3 120.5 159.8 121 160.2 121.5 160.6 122 161 122.5 161.3 123 161.7 123.5 162 124 162.2 124.5 162.5 125 162.7 125.5 163 126 163.2 126.5 163.5 127 163.7 127.5 164 128 164.3 128.5 164.6 129 165 129.5 165.3 130 165.7 130.5 166 131 166.4 131.5 166.8 132 167.2 132.5 167.6 133 167.9 133.5 168.3 134 168.7 134.5 169 135 169.4 135.5 169.7 136 170 136.5 170.3 137 170.6 137.5 170.9 138 171.1 138.5 171.4 139 171.7 139.5 172 140 172.2 140.5 172.5 141 172.7 141.5 173 142 173.2 142.5 173.4 143 173.6 143.5 173.8 144 174 144.5 174.2 145 174.4 145.5 174.6 146 174.7 146.5 174.9 147 175 147.5 175.2 148 175.3 148.5 175.5 149 175.6 149.5 175.7 150 175.9 150.5 176 151 176.1 151.5 176.2 152 176.4 152.5 176.5 153 176.6 153.5 176.7 154 176.8 154.5 176.9 155 177 155.5 177.1 156 177.2 156.5 177.3 157 177.4 157.5 177.5 158 177.6 158.5 177.6 159 177.7 159.5 177.8 160 177.9 160.5 178 161 178 161.5 178.1 162 178.2 162.5 178.3 163 178.3 163.5 178.4 164 178.5 164.5 178.6 165 178.6 165.5 178.7 166 178.8 166.5 178.9 167 179 167.5 179.1 168 179.2 168.5 179.2 169 178.2 169.2 178 169.5 178.4 170 179.3 170.5 179.4 171 179.6 171.5 179.6 172 179.7 172.5 179.8 173 179.8 173.5 179.8 174 179.9 174.5 179.9 175 180 175.5 180.1 176 180.2 176.5 180.3 177 180.4 177.5 180.5 178 180.6 178.5 180.6 178.8 180.6 179 180.1 179.4 176 179.5 173.1 179.8 150 180 102.4 180.1 80 180.5 38 181 27.5 181.5 38 181.9 80 182 102.7 182.2 150 182.5 169.5 182.6 172 183 175.9 183.4 177.5 183.5 177.6 184 178 184.5 178 185 177.9 185.5 177.6 186 177.3 186.3 177 186.5 174.1 186.8 169 187 171 187.4 177 187.5 177.2 188 177.9 188.5 178.4 189 178.7 189.5 178.9 190 179 190.5 179.1 191 179.2 191.5 179.3 192 179.3 192.5 179.4 193 179.5 193.5 179.5 194 179.6 194.5 179.6 195 179.7 195.5 179.7 196 179.8 196.5 179.8 197 179.8 197.5 179.8 198 179.9 198.5 179.9 199 179.9 199.5 180 200 180 200.5 180 201 180.1 201.5 180.1 202 180.1 202.5 180.2 203 180.2 203.5 180.2 204 180.3 204.5 180.3 205 180.3 205.5 180.4 206 180.4 206.5 180.4 207 180.4 207.5 180.5 208 180.5 208.5 180.5 209 180.5 209.5 180.5 210 180.5 210.5 180.5 211 180.5 211.5 180.5 212 180.5 212.5 180.5 213 180.5 213.5 180.5 214 180.5 214.5 180.5 215 180.5 215.5 180.5 216 180.5 216.5 180.5 217 180.5 217.5 180.5 218 180.5 218.5 180.5 219 180.5 219.5 180.5 220 180.5 220.5 180.5 221 180.5 221.5 180.5 222 180.5 222.5 180.4 223 180.4 223.5 180.4 224 180.4 224.5 180.3 225 180.3 225.5 180.3 226 180.2 226.5 180.2 227 180.1 227.5 180.1 228 180 228.5 179.9 229 179.7 229.5 179.5 230 179.3 230.5 179 231 178.7 231.5 178.3 232 178 232.5 177.6 233 177.2 233.5 176.7 234 176.2 234.5 175.7 235 175.1 235.5 174.6 236 174 236.5 173.4 237 172.8 237.5 172.2 238 171.5 238.5 170.8 239 170.2 239.5 169.6 240 169 240.5 168.4 241 167.8 241.5 167.2 242 166.7 242.5 166.3 243 166 243.5 165.8 244 165.6 244.5 165.5 245 165.3 245.5 165.2 246 165.2 246.1 165.2 246.5 165.2 247 165.3 247.5 165.4 248 165.6 248.5 165.8 249 166 249.5 166.3 250 166.8 250.5 167.4 251 168 251.5 168.5 252 169 252.5 169.4 253 169.7 253.5 170.1 254 170.4 254.5 170.7 255 171 255.5 171.3 256 171.6 256.5 171.9 257 172.3 257.5 172.6 258 172.9 258.5 173.1 259 173.4 259.5 173.7 260 174 260.5 174.3 261 174.5 261.5 174.8 262 175.1 262.5 175.3 263 175.6 263.5 175.8 264 176.1 264.5 176.3 265 176.5 265.5 176.8 266 177 266.5 177.2 267 177.4 267.5 177.6 268 177.8 268.5 178 269 178.2 269.5 178.4 270 178.6 270.5 178.8 271 179 271.5 179.2 272 179.4 272.5 179.7 273 179.9 273.4 180 273.5 179.3 274 162 274.3 150 274.5 143 275 123.8 275.5 111.9 275.6 111.5 276 117.2 276.5 132.2 276.6 135 277 148.4 277.5 162 278 166.9 278.5 170.2 279 172 279.5 172.9 280 173.6 280.5 174.1 281 174.5 281.5 174.9 282 175.2 282.5 175.4 283 175.6 283.5 175.7 284 175.8 284.5 175.9 285 176 285.5 176.1 286 176.3 286.5 176.4 287 176.6 287.5 176.8 288 176.9 288.5 177 289 177 289.5 176.9 290 176.6 290.5 176 291 169.6 291.4 162 291.5 160.3 292 151.3 292.2 150 292.5 153.6 293 165 293.5 174.4 293.8 177 294 177 294.5 176.8 295 176.5 295.5 176.3 296 176.1 296.5 176 297 176.2 297.5 176.5 298 177 298.5 177.6 299 178.4 299.5 179.3 300 180 300.5 180.6 301 181.2 301.5 181.8 302 182.3 302.5 182.8 303 183.2 303.5 183.4 304 183.5 304.5 183.5 305 183.4 305.5 183.2 306 183.1 306.5 182.8 307 182.6 307.5 182.3 308 182 308.5 181.6 309 180.9 309.5 180.1 310 179.2 310.5 178.2 311 177.1 311.5 176 312 175 312.5 174 313 172.9 313.5 171.7 314 170.5 314.5 169.3 315 168.1 315.5 167 316 166 316.5 165 317 164 317.5 163 318 162 318.5 161.1 319 160.2 319.5 159.6 320 159 320.5 158.5 321 158.1 321.5 157.6 322 157.2 322.5 156.8 323 156.5 323.5 156.2 324 155.9 324.5 155.7 325 155.5 325.5 155.4 325.9 155.4 326 155.4 326.5 155.4 327 155.6 327.5 155.7 328 155.9 328.5 156.2 329 156.4 329.5 156.7 330 157 330.5 157.3 331 157.8 331.5 158.3 332 158.8 332.5 159.4 333 160 333.5 160.7 334 161.5 334.5 162.3 335 163.2 335.5 164 336 164.6 336.5 164.9 336.8 165 337 163 337.5 150 338 136 338.5 150 339 159.7 339.2 162 339.5 163.9 340 166 340.5 168 341 170 341.5 173 342 176 342.5 178.2 343 180 343.5 181.6 344 183 344.4 184" stroke="#ff3a4a" stroke-opacity="0.75"/>
</g></g>
<line x1="25" y1="24.5" x2="344.4" y2="24.5" stroke="#555" stroke-width="1"/>
<line x1="344.4" y1="24.5" x2="344.4" y2="185" stroke="#666" stroke-width="1"/>
<line x1="25.2" y1="24" x2="25.2" y2="185.5" stroke="#222" stroke-width="1.2"/>
<line x1="24.5" y1="185" x2="345" y2="185" stroke="#111" stroke-width="2"/>
<line x1="23" y1="172.3" x2="25" y2="172.3" stroke="#444" stroke-width="0.8"/>
<line x1="23" y1="154.7" x2="25" y2="154.7" stroke="#444" stroke-width="0.8"/>
<line x1="23" y1="137.2" x2="25" y2="137.2" stroke="#444" stroke-width="0.8"/>
<line x1="23" y1="119.6" x2="25" y2="119.6" stroke="#444" stroke-width="0.8"/>
<line x1="23" y1="102.1" x2="25" y2="102.1" stroke="#444" stroke-width="0.8"/>
<line x1="23" y1="84.5" x2="25" y2="84.5" stroke="#444" stroke-width="0.8"/>
<line x1="23" y1="66.9" x2="25" y2="66.9" stroke="#444" stroke-width="0.8"/>
<line x1="23" y1="49.4" x2="25" y2="49.4" stroke="#444" stroke-width="0.8"/>
<line x1="23" y1="31.8" x2="25" y2="31.8" stroke="#444" stroke-width="0.8"/>
<line x1="34.1" y1="185" x2="34.1" y2="187" stroke="#333" stroke-width="0.8"/>
<line x1="43.6" y1="185" x2="43.6" y2="187" stroke="#333" stroke-width="0.8"/>
<line x1="53" y1="185" x2="53" y2="187" stroke="#333" stroke-width="0.8"/>
<line x1="62.5" y1="185" x2="62.5" y2="187" stroke="#333" stroke-width="0.8"/>
<line x1="71.9" y1="185" x2="71.9" y2="188.5" stroke="#333" stroke-width="0.8"/>
<line x1="81.3" y1="185" x2="81.3" y2="187" stroke="#333" stroke-width="0.8"/>
<line x1="90.8" y1="185" x2="90.8" y2="187" stroke="#333" stroke-width="0.8"/>
<line x1="100.2" y1="185" x2="100.2" y2="187" stroke="#333" stroke-width="0.8"/>
<line x1="109.7" y1="185" x2="109.7" y2="187" stroke="#333" stroke-width="0.8"/>
<line x1="119.1" y1="185" x2="119.1" y2="188.5" stroke="#333" stroke-width="0.8"/>
<line x1="128.5" y1="185" x2="128.5" y2="187" stroke="#333" stroke-width="0.8"/>
<line x1="138" y1="185" x2="138" y2="187" stroke="#333" stroke-width="0.8"/>
<line x1="147.4" y1="185" x2="147.4" y2="187" stroke="#333" stroke-width="0.8"/>
<line x1="156.9" y1="185" x2="156.9" y2="187" stroke="#333" stroke-width="0.8"/>
<line x1="166.3" y1="185" x2="166.3" y2="188.5" stroke="#333" stroke-width="0.8"/>
<line x1="175.7" y1="185" x2="175.7" y2="187" stroke="#333" stroke-width="0.8"/>
<line x1="185.2" y1="185" x2="185.2" y2="187" stroke="#333" stroke-width="0.8"/>
<line x1="194.6" y1="185" x2="194.6" y2="187" stroke="#333" stroke-width="0.8"/>
<line x1="204.1" y1="185" x2="204.1" y2="187" stroke="#333" stroke-width="0.8"/>
<line x1="213.5" y1="185" x2="213.5" y2="188.5" stroke="#333" stroke-width="0.8"/>
<line x1="222.9" y1="185" x2="222.9" y2="187" stroke="#333" stroke-width="0.8"/>
<line x1="232.4" y1="185" x2="232.4" y2="187" stroke="#333" stroke-width="0.8"/>
<line x1="241.8" y1="185" x2="241.8" y2="187" stroke="#333" stroke-width="0.8"/>
<line x1="251.3" y1="185" x2="251.3" y2="187" stroke="#333" stroke-width="0.8"/>
<line x1="260.7" y1="185" x2="260.7" y2="188.5" stroke="#333" stroke-width="0.8"/>
<line x1="270.1" y1="185" x2="270.1" y2="187" stroke="#333" stroke-width="0.8"/>
<line x1="279.6" y1="185" x2="279.6" y2="187" stroke="#333" stroke-width="0.8"/>
<line x1="289" y1="185" x2="289" y2="187" stroke="#333" stroke-width="0.8"/>
<line x1="298.5" y1="185" x2="298.5" y2="187" stroke="#333" stroke-width="0.8"/>
<line x1="307.9" y1="185" x2="307.9" y2="188.5" stroke="#333" stroke-width="0.8"/>
<line x1="317.3" y1="185" x2="317.3" y2="187" stroke="#333" stroke-width="0.8"/>
<line x1="326.8" y1="185" x2="326.8" y2="187" stroke="#333" stroke-width="0.8"/>
<line x1="336.2" y1="185" x2="336.2" y2="187" stroke="#333" stroke-width="0.8"/>
<line x1="87.6" y1="24.5" x2="87.6" y2="26.7" stroke="#666" stroke-width="0.8"/>
<line x1="132.6" y1="24.5" x2="132.6" y2="25.9" stroke="#666" stroke-width="0.8"/>
<line x1="166.3" y1="24.5" x2="166.3" y2="26.7" stroke="#666" stroke-width="0.8"/>
<line x1="192.5" y1="24.5" x2="192.5" y2="25.9" stroke="#666" stroke-width="0.8"/>
<line x1="213.5" y1="24.5" x2="213.5" y2="26.7" stroke="#666" stroke-width="0.8"/>
<line x1="230.7" y1="24.5" x2="230.7" y2="25.9" stroke="#666" stroke-width="0.8"/>
<line x1="245" y1="24.5" x2="245" y2="26.7" stroke="#666" stroke-width="0.8"/>
<line x1="257.1" y1="24.5" x2="257.1" y2="25.9" stroke="#666" stroke-width="0.8"/>
<line x1="267.4" y1="24.5" x2="267.4" y2="26.7" stroke="#666" stroke-width="0.8"/>
<line x1="276.4" y1="24.5" x2="276.4" y2="25.9" stroke="#666" stroke-width="0.8"/>
<line x1="284.3" y1="24.5" x2="284.3" y2="26.7" stroke="#666" stroke-width="0.8"/>
<line x1="291.2" y1="24.5" x2="291.2" y2="25.9" stroke="#666" stroke-width="0.8"/>
<line x1="297.4" y1="24.5" x2="297.4" y2="26.7" stroke="#666" stroke-width="0.8"/>
<line x1="302.9" y1="24.5" x2="302.9" y2="25.9" stroke="#666" stroke-width="0.8"/>
<line x1="307.9" y1="24.5" x2="307.9" y2="26.7" stroke="#666" stroke-width="0.8"/>
<line x1="312.4" y1="24.5" x2="312.4" y2="25.9" stroke="#666" stroke-width="0.8"/>
<line x1="316.5" y1="24.5" x2="316.5" y2="26.7" stroke="#666" stroke-width="0.8"/>
<line x1="320.2" y1="24.5" x2="320.2" y2="25.9" stroke="#666" stroke-width="0.8"/>
<line x1="323.6" y1="24.5" x2="323.6" y2="26.7" stroke="#666" stroke-width="0.8"/>
<line x1="326.8" y1="24.5" x2="326.8" y2="25.9" stroke="#666" stroke-width="0.8"/>
<line x1="329.7" y1="24.5" x2="329.7" y2="26.7" stroke="#666" stroke-width="0.8"/>
<line x1="332.4" y1="24.5" x2="332.4" y2="25.9" stroke="#666" stroke-width="0.8"/>
<line x1="334.9" y1="24.5" x2="334.9" y2="26.7" stroke="#666" stroke-width="0.8"/>
<line x1="337.2" y1="24.5" x2="337.2" y2="25.9" stroke="#666" stroke-width="0.8"/>
<line x1="339.4" y1="24.5" x2="339.4" y2="26.7" stroke="#666" stroke-width="0.8"/>
<text x="22.8" y="174.6" font-family='"Liberation Sans", sans-serif' font-size="6.3" text-anchor="end" fill="#3a3a3a" stroke="#3a3a3a" stroke-width="0.22" textLength="7.4" lengthAdjust="spacingAndGlyphs">0.1</text>
<text x="22.8" y="157" font-family='"Liberation Sans", sans-serif' font-size="6.3" text-anchor="end" fill="#3a3a3a" stroke="#3a3a3a" stroke-width="0.22" textLength="7.4" lengthAdjust="spacingAndGlyphs">0.2</text>
<text x="22.8" y="139.4" font-family='"Liberation Sans", sans-serif' font-size="6.3" text-anchor="end" fill="#3a3a3a" stroke="#3a3a3a" stroke-width="0.22" textLength="7.4" lengthAdjust="spacingAndGlyphs">0.3</text>
<text x="22.8" y="121.9" font-family='"Liberation Sans", sans-serif' font-size="6.3" text-anchor="end" fill="#3a3a3a" stroke="#3a3a3a" stroke-width="0.22" textLength="7.4" lengthAdjust="spacingAndGlyphs">0.4</text>
<text x="22.8" y="104.3" font-family='"Liberation Sans", sans-serif' font-size="6.3" text-anchor="end" fill="#3a3a3a" stroke="#3a3a3a" stroke-width="0.22" textLength="7.4" lengthAdjust="spacingAndGlyphs">0.5</text>
<text x="22.8" y="86.8" font-family='"Liberation Sans", sans-serif' font-size="6.3" text-anchor="end" fill="#3a3a3a" stroke="#3a3a3a" stroke-width="0.22" textLength="7.4" lengthAdjust="spacingAndGlyphs">0.6</text>
<text x="22.8" y="69.2" font-family='"Liberation Sans", sans-serif' font-size="6.3" text-anchor="end" fill="#3a3a3a" stroke="#3a3a3a" stroke-width="0.22" textLength="7.4" lengthAdjust="spacingAndGlyphs">0.7</text>
<text x="22.8" y="51.6" font-family='"Liberation Sans", sans-serif' font-size="6.3" text-anchor="end" fill="#3a3a3a" stroke="#3a3a3a" stroke-width="0.22" textLength="7.4" lengthAdjust="spacingAndGlyphs">0.8</text>
<text x="22.8" y="34.1" font-family='"Liberation Sans", sans-serif' font-size="6.3" text-anchor="end" fill="#3a3a3a" stroke="#3a3a3a" stroke-width="0.22" textLength="7.4" lengthAdjust="spacingAndGlyphs">0.9</text>
<text x="71.9" y="198.8" font-family='"Liberation Sans", sans-serif' font-size="6.6" text-anchor="middle" fill="#333" stroke="#333" stroke-width="0.22" textLength="13.5" lengthAdjust="spacingAndGlyphs">3500</text>
<text x="119.1" y="198.8" font-family='"Liberation Sans", sans-serif' font-size="6.6" text-anchor="middle" fill="#333" stroke="#333" stroke-width="0.22" textLength="13.5" lengthAdjust="spacingAndGlyphs">3000</text>
<text x="166.3" y="198.8" font-family='"Liberation Sans", sans-serif' font-size="6.6" text-anchor="middle" fill="#333" stroke="#333" stroke-width="0.22" textLength="13.5" lengthAdjust="spacingAndGlyphs">2500</text>
<text x="213.5" y="198.8" font-family='"Liberation Sans", sans-serif' font-size="6.6" text-anchor="middle" fill="#333" stroke="#333" stroke-width="0.22" textLength="13.5" lengthAdjust="spacingAndGlyphs">2000</text>
<text x="260.7" y="198.8" font-family='"Liberation Sans", sans-serif' font-size="6.6" text-anchor="middle" fill="#333" stroke="#333" stroke-width="0.22" textLength="13.5" lengthAdjust="spacingAndGlyphs">1500</text>
<text x="307.9" y="198.8" font-family='"Liberation Sans", sans-serif' font-size="6.6" text-anchor="middle" fill="#333" stroke="#333" stroke-width="0.22" textLength="13.5" lengthAdjust="spacingAndGlyphs">1000</text>
<text x="87.6" y="21.8" font-family='"Liberation Sans", sans-serif' font-size="6.6" text-anchor="middle" fill="#333" stroke="#333" stroke-width="0.22" textLength="3.6" lengthAdjust="spacingAndGlyphs">3</text>
<text x="166.3" y="21.8" font-family='"Liberation Sans", sans-serif' font-size="6.6" text-anchor="middle" fill="#333" stroke="#333" stroke-width="0.22" textLength="3.6" lengthAdjust="spacingAndGlyphs">4</text>
<text x="213.5" y="21.8" font-family='"Liberation Sans", sans-serif' font-size="6.6" text-anchor="middle" fill="#333" stroke="#333" stroke-width="0.22" textLength="3.6" lengthAdjust="spacingAndGlyphs">5</text>
<text x="245" y="21.8" font-family='"Liberation Sans", sans-serif' font-size="6.6" text-anchor="middle" fill="#333" stroke="#333" stroke-width="0.22" textLength="3.6" lengthAdjust="spacingAndGlyphs">6</text>
<text x="267.4" y="21.8" font-family='"Liberation Sans", sans-serif' font-size="6.6" text-anchor="middle" fill="#333" stroke="#333" stroke-width="0.22" textLength="3.6" lengthAdjust="spacingAndGlyphs">7</text>
<text x="284.3" y="21.8" font-family='"Liberation Sans", sans-serif' font-size="6.6" text-anchor="middle" fill="#333" stroke="#333" stroke-width="0.22" textLength="3.6" lengthAdjust="spacingAndGlyphs">8</text>
<text x="297.4" y="21.8" font-family='"Liberation Sans", sans-serif' font-size="6.6" text-anchor="middle" fill="#333" stroke="#333" stroke-width="0.22" textLength="3.6" lengthAdjust="spacingAndGlyphs">9</text>
<text x="316.5" y="21.8" font-family='"Liberation Sans", sans-serif' font-size="6.6" text-anchor="middle" fill="#333" stroke="#333" stroke-width="0.22" textLength="7.2" lengthAdjust="spacingAndGlyphs">11</text>
<text x="329.7" y="21.8" font-family='"Liberation Sans", sans-serif' font-size="6.6" text-anchor="middle" fill="#333" stroke="#333" stroke-width="0.22" textLength="7.2" lengthAdjust="spacingAndGlyphs">13</text>
<text x="339.4" y="21.8" font-family='"Liberation Sans", sans-serif' font-size="6.6" text-anchor="middle" fill="#333" stroke="#333" stroke-width="0.22" textLength="7.2" lengthAdjust="spacingAndGlyphs">15</text>
<text x="155.7" y="8.8" font-family='"Liberation Sans", sans-serif' font-size="8.6" text-anchor="start" fill="#2a2a2a" stroke="#2a2a2a" stroke-width="0.22" textLength="59.2" lengthAdjust="spacingAndGlyphs">Wavelength (<tspan>µ</tspan>m)</text>
<text x="156.1" y="211.6" font-family='"Liberation Sans", sans-serif' font-size="8.6" text-anchor="start" fill="#2a2a2a" stroke="#2a2a2a" stroke-width="0.22" textLength="67.9" lengthAdjust="spacingAndGlyphs">Wavenumber (cm<tspan dy="-3.6" font-size="4.6"> -1</tspan><tspan dy="3.6"> )</tspan></text>
<text transform="translate(5.8 101) rotate(-90)" x="0" y="0" font-family='"Liberation Sans", sans-serif' font-size="8.8" text-anchor="middle" dominant-baseline="central" fill="#2a2a2a" stroke="#2a2a2a" stroke-width="0.22" textLength="54.5" lengthAdjust="spacingAndGlyphs">Absorbance</text>
<text x="29.5" y="42" font-family='"Liberation Serif", serif' font-size="14" text-anchor="start" fill="#1a1a1a" stroke="#1a1a1a" stroke-width="0.28" textLength="25.7" lengthAdjust="spacingAndGlyphs">E50K</text>
<text x="29.6" y="55.6" font-family='"Liberation Serif", serif' font-size="14.5" text-anchor="start" fill="#1a1a1a" stroke="#1a1a1a" stroke-width="0.28" textLength="9.8" lengthAdjust="spacingAndGlyphs">a)</text>
<line x1="78.2" y1="28.2" x2="112" y2="28.2" stroke="#222" stroke-width="1.5"/>
<text x="100" y="38.6" font-family='"Liberation Serif", serif' font-size="9" text-anchor="start" fill="#222" stroke="#222" stroke-width="0.28" textLength="12.1" lengthAdjust="spacingAndGlyphs">H₂O</text>
<text x="185.4" y="56.1" font-family='"Liberation Serif", serif' font-size="10" text-anchor="start" fill="#222" stroke="#222" stroke-width="0.28" textLength="12.9" lengthAdjust="spacingAndGlyphs">CO₂</text>
<text x="136.9" y="131" font-family='"Liberation Serif", serif' font-size="9" text-anchor="start" fill="#222" stroke="#222" stroke-width="0.28" textLength="37.2" lengthAdjust="spacingAndGlyphs">SO₂ (<tspan font-style="italic">v</tspan>3+<tspan font-style="italic">v</tspan>1)</text>
<line x1="169.2" y1="134.8" x2="169.2" y2="169" stroke="#333" stroke-width="0.9"/>
<text x="118.5" y="148.6" font-family='"Liberation Serif", serif' font-size="9" text-anchor="start" fill="#222" stroke="#222" stroke-width="0.28" textLength="12.3" lengthAdjust="spacingAndGlyphs">50K</text>
<text x="107.5" y="169.5" font-family='"Liberation Serif", serif' font-size="9" text-anchor="start" fill="#222" stroke="#222" stroke-width="0.28" textLength="11.8" lengthAdjust="spacingAndGlyphs">13K</text>
<text x="239.2" y="156" font-family='"Liberation Serif", serif' font-size="9" text-anchor="start" fill="#222" stroke="#222" stroke-width="0.28" textLength="12.8" lengthAdjust="spacingAndGlyphs">H₂O</text>
<text x="272.5" y="104.5" font-family='"Liberation Serif", serif' font-size="9" text-anchor="start" fill="#222" stroke="#222" stroke-width="0.28" textLength="25.5" lengthAdjust="spacingAndGlyphs">SO₂ (<tspan font-style="italic">v</tspan>3)</text>
<text x="288.8" y="145.8" font-family='"Liberation Serif", serif' font-size="9" text-anchor="start" fill="#222" stroke="#222" stroke-width="0.28" textLength="25.6" lengthAdjust="spacingAndGlyphs">SO₂ (<tspan font-style="italic">v</tspan>1)</text>
<text x="295" y="170.5" font-family='"Liberation Serif", serif' font-size="9" text-anchor="start" fill="#222" stroke="#222" stroke-width="0.28" textLength="12.6" lengthAdjust="spacingAndGlyphs">NH₃</text>
<text x="327.8" y="135" font-family='"Liberation Serif", serif' font-size="9" text-anchor="start" fill="#222" stroke="#222" stroke-width="0.28" textLength="13.5" lengthAdjust="spacingAndGlyphs">CO₂</text>
<line x1="349.7" y1="111" x2="349.7" y2="185.8" stroke="#333" stroke-width="1.5"/>
<path d="M348.6 105.3 L352.5 112 L347.9 112 Z" fill="#111"/>
<text transform="translate(356.2 157) rotate(-90)" x="0" y="0" font-family='"Liberation Serif", serif' font-size="9.5" text-anchor="middle" dominant-baseline="central" fill="#111" stroke="#111" stroke-width="0.28" textLength="57.8" lengthAdjust="spacingAndGlyphs">Temperature</text>
<clipPath id="cB"><rect x="399.1" y="24.2" width="318.6" height="159"/></clipPath>
<g clip-path="url(#cB)"><g filter="url(#soft)" fill="none" stroke-linejoin="round" stroke-width="0.75">
<path d="M399 179L399.5 179 400 179 400.5 179 401 179.1 401.5 179.1 402 179.1 402.5 179.1 403 179.1 403.5 179.1 404 179.2 404.5 179.2 405 179.2 405.5 179.2 406 179.2 406.5 179.2 407 179.2 407.5 179.2 408 179.3 408.5 179.3 409 179.3 409.5 179.3 410 179.3 410.5 179.3 411 179.3 411.5 179.3 412 179.3 412.5 179.3 413 179.4 413.5 179.4 414 179.4 414.5 179.4 415 179.4 415.5 179.4 416 179.4 416.5 179.4 417 179.4 417.5 179.4 418 179.4 418.5 179.4 419 179.4 419.5 179.5 420 179.5 420.5 179.5 421 179.5 421.5 179.5 422 179.5 422.5 179.5 423 179.5 423.5 179.5 424 179.5 424.5 179.5 425 179.5 425.5 179.5 426 179.5 426.5 179.5 426.8 179.5 427 179 427.5 176 427.8 175 428 175.6 428.5 178.7 428.6 179 429 179.5 429.5 179.9 430 180 430.5 179.8 431 179.4 431.5 178.8 432 178.1 432.5 177.3 432.7 177 433 176.5 433.5 175.5 434 174.3 434.5 173 435 171.4 435.5 169.7 435.7 169 436 167.9 436.5 166 437 164.5 437.4 164 437.5 164 438 164.3 438.5 164.9 439 165.5 439.5 166 440 166.4 440.5 166.9 441 167.3 441.5 167.6 442 167.7 442.5 166.9 443 165 443.5 163 444 161.1 444.5 159 445 156.8 445.4 155 445.5 154.5 446 152.3 446.5 150.1 447 147.7 447.5 145.2 448 142.4 448.4 140 448.5 139.3 449 135.7 449.5 131.4 450 126.8 450.5 122 450.6 121 451 116.8 451.5 111.1 452 105.4 452.5 100 453 95.1 453.5 90.5 454 86.1 454.5 82 455 78.2 455.5 74.6 456 71.2 456.5 68 457 65 457.5 62.2 458 59.4 458.5 56.8 459 54.4 459.5 52.1 460 50 460.5 48.1 461 46.2 461.5 44.5 462 42.9 462.5 41.3 463 39.8 463.5 38.4 464 37 464.5 35.6 465 34.3 465.5 33 466 31.8 466.5 30.8 467 30 467.5 29.4 468 28.8 468.5 28.2 469 27.8 469.5 27.5 470 27.3 470.2 27.3 470.5 27.3 471 27.5 471.5 27.7 472 28.1 472.5 28.5 473 29 473.5 29.6 474 30.6 474.5 31.8 475 33.2 475.5 35 476 37 476.5 39.9 477 44.2 477.5 49.3 478 55 478.5 61.7 479 69.8 479.3 75 479.5 78.8 480 89.6 480.5 100 481 108.9 481.1 110 481.5 113.1 482 116.1 482.5 118.4 483 120.3 483.5 122 484 123.6 484.5 125 485 126.2 485.5 127.4 486 128.5 486.5 129.7 486.6 130 487 131 487.5 132.3 488 133.6 488.5 134.9 489 136.1 489.5 137.4 490 138.7 490.5 140 491 141.3 491.5 142.7 492 144.1 492.5 145.5 493 146.8 493.5 148.1 494 149.3 494.3 150 494.5 150.4 495 151.6 495.5 152.7 496 153.7 496.5 154.5 496.9 155 497 155.1 497.5 155.5 498 155.8 498.5 156.1 499 156.4 499.5 156.6 500 156.8 500.5 157 501 157.2 501.5 157.3 502 157.4 502.5 157.6 503 157.7 503.5 157.9 503.8 158 504 158.1 504.5 158.3 505 158.5 505.5 158.8 506 159.1 506.5 159.4 507 159.6 507.5 160 508 160.3 508.5 160.6 509 160.9 509.5 161.2 510 161.5 510.5 161.8 511 162.1 511.5 162.4 512 162.8 512.5 163.1 513 163.4 513.5 163.8 514 164.1 514.5 164.5 515 164.8 515.5 165.1 516 165.4 516.5 165.8 517 166.1 517.5 166.4 518 166.7 518.5 167 519 167.3 519.5 167.6 520 167.9 520.5 168.1 521 168.4 521.5 168.7 522 169 522.5 169.2 523 169.5 523.5 169.8 524 170 524.5 170.3 525 170.5 525.5 170.7 526 171 526.5 171.3 527 171.6 527.5 171.8 528 172.1 528.5 172.4 529 172.7 529.5 173 530 173.2 530.5 173.5 531 173.7 531.5 173.9 532 174.1 532.5 174.2 533 174.3 533.5 174.4 534 174.5 534.4 174.5 534.5 174.5 535 174.5 535.5 174.5 536 174.5 536.5 174.5 537 174.5 537.5 174.5 538 174.5 538.5 174.5 539 174.4 539.5 174.4 540 174.4 540.5 174.4 541 174.4 541.5 174.3 542 174.3 542.5 174.3 543 174.3 543.5 174.2 544 174.2 544.5 174.1 545 174.1 545.5 174.1 546 174 546.5 174 547 173.9 547.5 173.9 548 173.8 548.5 173.7 549 173.4 549.5 173 550 172.5 550.5 171.8 551 170.7 551.5 168.8 552 166 552.5 154.6 552.6 150 552.9 100 553 83.6 553.3 45 553.5 38.1 554 27.9 554.2 27 554.5 29.3 555 41.5 555.1 45 555.5 86.2 555.6 100 555.9 150 556 157.3 556.3 170 556.5 172.8 557 177.2 557.3 178 557.5 178 558 177.5 558.5 176.8 559 176 559.5 175.1 560 174 560.4 173 560.5 172.7 561 170.4 561.2 170 561.5 171.5 562 175 562.5 175.2 563 175.4 563.5 175.5 564 175.6 564.5 175.7 565 175.7 565.5 175.7 566 175.8 566.5 175.8 567 175.9 567.5 175.9 568 175.9 568.5 176 569 176 569.5 176 570 176.1 570.5 176.1 571 176.1 571.5 176.1 572 176.2 572.5 176.2 573 176.2 573.5 176.2 574 176.2 574.5 176.3 575 176.3 575.5 176.3 576 176.3 576.5 176.3 577 176.3 577.5 176.4 578 176.4 578.5 176.4 579 176.4 579.5 176.5 580 176.5 580.5 176.5 581 176.6 581.5 176.6 582 176.6 582.5 176.7 583 176.7 583.5 176.7 584 176.8 584.5 176.8 585 176.9 585.5 176.9 586 176.9 586.5 177 587 177 587.5 177 588 177.1 588.5 177.1 589 177.1 589.5 177.2 590 177.2 590.5 177.2 591 177.3 591.5 177.3 592 177.3 592.5 177.4 593 177.4 593.5 177.4 594 177.5 594.5 177.5 595 177.5 595.5 177.6 596 177.6 596.5 177.6 597 177.6 597.5 177.6 598 177.7 598.5 177.7 599 177.7 599.5 177.7 600 177.7 600.5 177.7 601 177.6 601.5 177.5 602 177.4 602.5 177.3 603 177.1 603.5 177 604 176.8 604.5 176.7 605 176.5 605.5 176.4 606 176.2 606.5 176 607 175.9 607.5 175.7 608 175.5 608.5 175.3 609 175.1 609.5 174.8 610 174.6 610.5 174.3 611 174 611.5 173.7 612 173.3 612.5 172.9 613 172.5 613.5 172 614 171.4 614.5 170.7 615 170 615.5 169.2 616 168.5 616.5 167.7 617 167 617.5 166.1 618 165.3 618.5 164.5 619 163.5 619.5 162.5 620 161.5 620.5 161 620.7 160.9 621 161 621.5 161.4 622 161.9 622.5 162.5 623 163.1 623.5 163.9 624 164.4 624.4 164.6 624.5 164.6 625 164.1 625.5 163.2 626 162 626.5 160.8 627 160 627.5 159.4 628 158.7 628.5 158.2 629 157.9 629.3 157.8 629.5 157.9 630 159.1 630.5 161 631 163 631.5 164.3 631.8 164.6 632 164.6 632.5 164.5 633 164.4 633.5 164.4 634 164.3 634.1 164.3 634.5 164.4 635 164.8 635.5 165.3 636 165.9 636.5 166.5 637 167 637.5 167.5 638 168 638.5 168.6 639 169.1 639.5 169.5 640 169.7 640.4 169.8 640.5 169.8 641 169.6 641.5 169.2 642 168.7 642.5 168.2 643 167.7 643.5 167.4 643.9 167.3 644 167.3 644.5 168.3 645 170.2 645.5 172.3 646 173.9 646.4 174.4 646.5 174.4 647 174.2 647.5 173.5 648 172.5 648.2 172 648.5 166.8 649 147.5 649.2 140 649.5 127.6 650 112.9 650.5 117 651 125 651.5 135.9 651.9 145 652 146.9 652.5 156 653 163 653.5 167.9 654 171.3 654.2 172 654.5 172.6 655 173.2 655.5 173.7 656 174 656.5 174.2 657 174.4 657.5 174.6 658 174.7 658.5 174.8 659 174.9 659.5 175 660 175 660.5 175 661 174.9 661.5 174.7 662 174.5 662.5 174.2 663 173.9 663.5 173.5 664 173 664.5 171.9 665 169.6 665.5 166.5 665.7 165 666 160.6 666.5 149.5 666.9 145 667 145.5 667.5 156.2 667.8 163 668 166.5 668.5 173.7 668.6 174 669 173.9 669.5 173.4 670 173 670.5 172.7 671 172.3 671.5 171.9 672 171.6 672.5 171.3 673 171.1 673.3 171 673.5 170.9 674 170.8 674.5 170.7 675 170.6 675.5 170.5 676 170.4 676.5 170.3 677 170.2 677.5 170.2 678 170.2 678.5 170.4 679 171 679.5 171.8 680 172.6 680.5 173.3 681 173.9 681.4 174 681.5 174 682 173.8 682.5 173.5 683 172.9 683.5 172.2 684 171.4 684.5 170.6 685 169.7 685.5 168.8 686 168 686.5 167.1 687 166.1 687.5 165.1 688 164 688.5 162.9 689 161.8 689.5 160.8 690 160 690.5 159.2 691 158.5 691.5 157.8 692 157.1 692.5 156.5 693 155.9 693.5 155.3 694 154.8 694.5 154.4 695 154 695.5 153.7 696 153.4 696.5 153 697 152.8 697.5 152.5 698 152.3 698.5 152.1 699 152 699.5 151.9 699.7 151.9 700 151.9 700.5 151.9 701 152 701.5 152.1 702 152.1 702.5 152.2 703 152.4 703.5 152.5 704 152.7 704.5 152.8 705 153 705.5 153.2 706 153.6 706.5 154 707 154.5 707.5 155 708 155.6 708.5 156.3 709 157 709.5 158.1 710 159.6 710.5 161 711 161.9 711.2 162 711.5 159.5 712 152 712.5 146.9 712.8 145.5 713 146.3 713.5 152.2 713.8 156 714 158.2 714.5 163.8 715 168 715.5 170.4 716 172 716.5 173 717 173.8 717.5 174.4 718 174.8 718.2 174.8" stroke="#9e45b8" stroke-opacity="0.85"/>
<path d="M399 179.5L399.5 179.5 400 179.5 400.5 179.5 401 179.5 401.5 179.5 402 179.5 402.5 179.5 403 179.5 403.5 179.5 404 179.5 404.5 179.5 405 179.6 405.5 179.6 406 179.6 406.5 179.6 407 179.6 407.5 179.6 408 179.6 408.5 179.6 409 179.6 409.5 179.6 410 179.6 410.5 179.6 411 179.6 411.5 179.6 412 179.6 412.5 179.6 413 179.6 413.5 179.6 414 179.7 414.5 179.7 415 179.7 415.5 179.7 416 179.7 416.5 179.7 417 179.7 417.5 179.7 418 179.7 418.5 179.7 419 179.7 419.5 179.7 420 179.7 420.5 179.8 421 179.8 421.5 179.8 422 179.8 422.5 179.8 423 179.8 423.5 179.8 424 179.8 424.5 179.8 425 179.8 425.5 179.8 426 179.8 426.5 179.8 426.8 179.8 427 179.4 427.5 176.4 427.8 175.5 428 176.1 428.5 179.3 428.6 179.5 429 179.7 429.5 179.9 430 180 430.5 179.9 431 179.5 431.5 179 432 178.3 432.5 177.6 432.7 177.3 433 176.7 433.5 175.3 434 173.7 434.5 172 435 170.4 435.5 168.7 435.7 168 436 166.9 436.5 164.8 437 163 437.4 162.5 437.5 162.5 438 162.9 438.5 163.6 439 164.4 439.5 165 440 165.5 440.5 166.1 441 166.5 441.5 166.9 442 167 442.5 166.1 443 164.1 443.5 162 444 160.1 444.5 158 445 155.8 445.4 154 445.5 153.5 446 151.3 446.5 149 447 146.7 447.5 144.2 448 141.4 448.4 139 448.5 138.4 449 134.8 449.5 130.9 450 126.5 450.5 121.9 450.6 121 451 116.9 451.5 111.3 452 105.5 452.5 100 453 94.9 453.5 89.8 454 85.1 454.5 81 455 77.5 455.5 74.3 456 71.4 456.5 68.7 457 66 457.5 63.4 458 60.8 458.5 58.4 459 56.1 459.5 54 460 52 460.5 50.2 461 48.5 461.5 46.9 462 45.3 462.5 43.9 463 42.5 463.5 41.2 464 40 464.5 38.8 465 37.6 465.5 36.4 466 35.4 466.5 34.6 467 34 467.5 33.6 468 33.2 468.5 32.9 469 32.7 469.5 32.5 469.8 32.5 470 32.5 470.5 32.6 471 32.7 471.5 33 472 33.3 472.5 33.6 473 34 473.5 34.6 474 35.5 474.5 36.7 475 38.3 475.5 40 476 42 476.5 44.7 477 48.4 477.5 52.9 478 58 478.5 64.5 479 72.4 479.5 80 480 87.1 480.5 94 481 100 481.5 105.2 482 109.9 482.5 114.1 483 118 483.5 121.5 484 124.8 484.5 127.8 484.9 130 485 130.5 485.5 133.1 486 135.5 486.5 137.8 487 139.9 487.5 142 488 144 488.5 145.9 489 147.7 489.5 149.3 489.7 150 490 151 490.5 152.6 491 154.1 491.5 155.5 492 156.9 492.5 158 493 159 493.5 160 494 160.9 494.5 161.6 495 162.2 495.2 162.4 495.5 162.6 496 163 496.5 163.3 497 163.6 497.5 163.9 498 164.1 498.5 164.3 499 164.5 499.5 164.7 500 164.8 500.5 165 501 165.1 501.5 165.2 502 165.3 502.5 165.4 503 165.6 503.5 165.7 503.8 165.8 504 165.9 504.5 166 505 166.2 505.5 166.5 506 166.7 506.5 166.9 507 167.1 507.5 167.4 508 167.6 508.5 167.8 509 168.1 509.5 168.3 510 168.5 510.5 168.7 511 168.9 511.5 169.1 512 169.4 512.5 169.6 513 169.8 513.5 170 514 170.2 514.5 170.4 515 170.6 515.5 170.8 516 171 516.5 171.2 517 171.4 517.5 171.6 518 171.8 518.5 172 519 172.2 519.5 172.3 520 172.5 520.5 172.7 521 172.8 521.5 173 522 173.1 522.5 173.3 523 173.5 523.5 173.6 524 173.7 524.5 173.9 525 174 525.5 174.1 526 174.3 526.5 174.4 527 174.5 527.5 174.7 528 174.8 528.5 174.9 529 175.1 529.5 175.2 530 175.3 530.5 175.5 531 175.6 531.5 175.7 532 175.9 532.5 176 533 176.1 533.5 176.2 534 176.3 534.5 176.4 535 176.5 535.5 176.6 536 176.7 536.5 176.7 537 176.8 537.5 176.9 538 176.9 538.5 176.9 539 177 539.5 177 540 177 540.5 177 541 177 541.5 177 542 177 542.5 177 543 176.9 543.5 176.9 544 176.9 544.5 176.9 545 176.8 545.5 176.8 546 176.7 546.5 176.7 547 176.6 547.5 176.6 548 176.5 548.5 176.3 549 176 549.5 175.6 550 175 550.5 174.2 551 173 551.5 171 552 168 552.5 155.1 552.6 150 552.9 100 553 83.7 553.3 45 553.5 37.5 554 26.5 554.2 25.5 554.5 28 555 41.3 555.1 45 555.5 86.3 555.6 100 555.9 150 556 157.2 556.3 170 556.5 173.1 557 178.1 557.3 179 557.5 179 558 178.7 558.5 178.1 559 177.5 559.5 176.6 560 175.2 560.4 174 560.5 173.6 561 171.4 561.2 171 561.5 172.7 562 176.5 562.5 176.8 563 177.1 563.5 177.3 564 177.4 564.5 177.5 565 177.5 565.5 177.5 566 177.6 566.5 177.6 567 177.6 567.5 177.7 568 177.7 568.5 177.7 569 177.7 569.5 177.7 570 177.7 570.5 177.8 571 177.8 571.5 177.8 572 177.8 572.5 177.8 573 177.8 573.5 177.8 574 177.8 574.5 177.9 575 177.9 575.5 177.9 576 177.9 576.5 177.9 577 177.9 577.5 177.9 578 177.9 578.5 177.9 579 178 579.5 178 580 178 580.5 178 581 178 581.5 178.1 582 178.1 582.5 178.1 583 178.1 583.5 178.2 584 178.2 584.5 178.2 585 178.3 585.5 178.3 586 178.3 586.5 178.3 587 178.4 587.5 178.4 588 178.4 588.5 178.4 589 178.5 589.5 178.5 590 178.5 590.5 178.5 591 178.5 591.5 178.6 592 178.6 592.5 178.6 593 178.6 593.5 178.6 594 178.7 594.5 178.7 595 178.7 595.5 178.7 596 178.7 596.5 178.7 597 178.8 597.5 178.8 598 178.8 598.5 178.8 599 178.8 599.5 178.8 600 178.8 600.5 178.8 601 178.7 601.5 178.7 602 178.6 602.5 178.5 603 178.3 603.5 178.2 604 178.1 604.5 177.9 605 177.8 605.5 177.7 606 177.5 606.5 177.4 607 177.2 607.5 177 608 176.9 608.5 176.7 609 176.5 609.5 176.2 610 176 610.5 175.7 611 175.5 611.5 175.2 612 174.8 612.5 174.4 613 174 613.5 173.5 614 172.9 614.5 172.2 615 171.5 615.5 170.8 616 170 616.5 169.2 617 168.3 617.5 167.4 618 166.4 618.5 165.5 619 164.4 619.5 163.1 620 161.9 620.5 161.3 620.7 161.2 621 161.3 621.5 161.8 622 162.5 622.5 163.5 623 164.9 623.5 166 624 166.9 624.5 167.7 625 168 625.5 168 626 168 626.5 167.9 627 167.9 627.5 167.9 628 167.8 628.5 167.8 629 167.7 629.5 167.6 630 167.6 630.5 167.5 631 167.4 631.5 167.3 632 167.2 632.5 167.1 633 167 633.5 167 633.6 167 634 167 634.5 167.2 635 167.5 635.5 167.8 636 168.3 636.5 168.7 637 169.2 637.5 169.6 638 170.1 638.5 170.4 639 170.7 639.5 170.9 640 171 640.5 171 641 170.9 641.5 170.8 642 170.7 642.5 170.6 643 170.6 643.5 170.5 643.9 170.5 644 170.5 644.5 171 645 172.1 645.5 173.4 646 174.7 646.5 175.6 647 176 647.5 175.6 648 174.6 648.2 174 648.5 168.3 649 147.8 649.2 140 649.5 127.4 650 112.9 650.5 117 651 125 651.5 135.9 651.9 145 652 146.9 652.5 155.9 653 163 653.5 168.3 654 172.2 654.2 173 654.5 173.8 655 174.9 655.5 175.6 656 176 656.5 176.2 657 176.4 657.5 176.6 658 176.7 658.5 176.9 659 176.9 659.5 177 660 177 660.5 177 661 176.9 661.5 176.7 662 176.5 662.5 176.2 663 175.9 663.5 175.5 664 175 664.5 173.9 665 171.7 665.5 168.5 665.7 167 666 162.3 666.5 150 666.9 145 667 145.4 667.5 155.9 667.8 163 668 167 668.5 175.6 668.6 176 669 175.9 669.5 175.5 670 175 670.5 174.5 671 173.8 671.5 173.1 672 172.4 672.5 171.9 673 171.6 673.3 171.5 673.5 171.5 674 171.5 674.5 171.5 675 171.6 675.5 171.6 676 171.7 676.5 171.7 677 171.8 677.5 171.9 678 172 678.5 172.4 679 173.1 679.5 174.2 680 175.2 680.5 176.2 681 176.8 681.4 177 681.5 177 682 176.8 682.5 176.5 683 175.9 683.5 175.3 684 174.5 684.5 173.6 685 172.7 685.5 171.9 686 171 686.5 170.1 687 169 687.5 167.8 688 166.5 688.5 165.3 689 164.1 689.5 163 690 162 690.5 161.1 691 160.3 691.5 159.5 692 158.7 692.5 157.9 693 157.2 693.5 156.5 694 155.9 694.5 155.4 695 155 695.5 154.6 696 154.2 696.5 153.9 697 153.5 697.5 153.2 698 152.9 698.5 152.7 699 152.6 699.5 152.5 699.7 152.5 700 152.5 700.5 152.5 701 152.6 701.5 152.7 702 152.8 702.5 153 703 153.2 703.5 153.4 704 153.6 704.5 153.8 705 154 705.5 154.3 706 154.6 706.5 155 707 155.5 707.5 156 708 156.6 708.5 157.3 709 158 709.5 159.1 710 160.6 710.5 162 711 162.9 711.2 163 711.5 160.6 712 153 712.5 147.1 712.8 145.5 713 146.4 713.5 152.9 713.8 157 714 159.2 714.5 164.7 715 169 715.5 172.2 716 174 716.5 174.6 717 175 717.5 175.3 718 175.5 718.2 175.5" stroke="#f7a845" stroke-opacity="0.85"/>
<path d="M399 179.7L399.5 179.7 400 179.7 400.5 179.7 401 179.7 401.5 179.7 402 179.7 402.5 179.7 403 179.7 403.5 179.7 404 179.7 404.5 179.7 405 179.7 405.5 179.8 406 179.8 406.5 179.8 407 179.8 407.5 179.8 408 179.8 408.5 179.8 409 179.8 409.5 179.8 410 179.8 410.5 179.8 411 179.8 411.5 179.8 412 179.8 412.5 179.8 413 179.8 413.5 179.8 414 179.8 414.5 179.8 415 179.9 415.5 179.9 416 179.9 416.5 179.9 417 179.9 417.5 179.9 418 179.9 418.5 179.9 419 179.9 419.5 179.9 420 179.9 420.5 179.9 421 179.9 421.5 179.9 422 179.9 422.5 179.9 423 180 423.5 180 424 180 424.5 180 425 180 425.5 180 426 180 426.5 180 426.8 180 427 179.5 427.5 176.5 427.8 175.6 428 176.2 428.5 179.4 428.6 179.7 429 179.9 429.5 180.1 430 180.2 430.5 180 431 179.7 431.5 179.1 432 178.5 432.5 177.7 432.7 177.4 433 176.8 433.5 175.3 434 173.4 434.5 171.6 435 169.8 435.5 167.8 435.7 167.1 436 165.9 436.5 163.7 437 161.8 437.4 161.3 437.5 161.3 438 161.7 438.5 162.4 439 163.2 439.5 163.8 440 164.4 440.5 165 441 165.5 441.5 165.9 442 166 442.5 165.2 443 163.2 443.5 161.2 444 159.2 444.5 157.2 445 155 445.4 153.2 445.5 152.7 446 150.5 446.5 148.2 447 145.8 447.5 143.3 448 140.6 448.4 138.2 448.5 137.6 449 134.2 449.5 130.4 450 126.2 450.5 121.8 450.6 120.9 451 116.9 451.5 111.3 452 105.5 452.5 100 453 94.8 453.5 89.8 454 85 454.5 80.9 455 77.3 455.5 74.1 456 71.2 456.5 68.5 457 66 457.5 63.5 458 61.1 458.5 58.9 459 56.8 459.5 54.9 459.9 53.5 460 53.1 460.5 51.5 461 50.1 461.5 48.6 461.6 48.4 462 47.2 462.5 45.9 463 44.6 463.5 43.4 464 42.3 464.5 41.2 465 40.1 465.5 39 466 38.1 466.5 37.3 467 36.8 467.5 36.5 468 36.2 468.5 35.9 469 35.7 469.5 35.7 469.8 35.7 470 35.7 470.5 35.8 471 36.1 471.5 36.4 472 36.7 472.5 37.2 473 37.9 473.5 38.8 474 40 474.5 41.5 475 43.2 475.3 44.4 475.5 45.1 476 47.1 476.5 49.7 477 53.3 477.5 57.6 477.8 60.5 478 62.5 478.5 68.8 479 76.4 479.5 83.8 479.7 86.5 480 90.7 480.5 97.4 481 103.4 481.5 108.7 482 113.6 482.3 116.2 482.5 117.9 483 122 483.5 125.7 484 129.1 484.5 132.3 484.9 134.7 485 135.3 485.5 138.2 485.7 139.3 486 141 486.5 143.7 487 146.3 487.5 148.7 488 150.9 488.5 152.9 489 154.7 489.5 156.4 489.7 157.1 490 158 490.5 159.4 490.9 160.4 491 160.6 491.5 161.7 492 162.7 492.5 163.6 493 164.3 493.5 165 494 165.6 494.5 166.2 495 166.6 495.2 166.8 495.5 166.9 496 167.2 496.5 167.4 497 167.7 497.5 167.9 498 168 498.5 168.2 499 168.3 499.5 168.5 500 168.6 500.5 168.7 501 168.8 501.5 168.9 502 169 502.5 169.1 503 169.2 503.5 169.3 503.8 169.4 504 169.4 504.5 169.6 505 169.7 505.5 169.9 506 170.1 506.5 170.2 507 170.4 507.5 170.6 508 170.8 508.5 170.9 509 171.1 509.5 171.3 510 171.5 510.5 171.6 511 171.8 511.5 172 512 172.1 512.5 172.3 513 172.5 513.5 172.6 514 172.8 514.5 173 515 173.1 515.5 173.3 516 173.5 516.5 173.6 517 173.8 517.5 173.9 518 174.1 518.5 174.2 519 174.4 519.5 174.5 520 174.7 520.5 174.9 521 175 521.5 175.2 522 175.3 522.5 175.4 522.7 175.5 523 175.6 523.5 175.7 524 175.9 524.5 176 525 176.2 525.5 176.3 526 176.4 526.5 176.6 527 176.7 527.5 176.9 528 177 528.5 177.1 529 177.2 529.5 177.4 530 177.5 530.5 177.6 531 177.7 531.5 177.7 532 177.8 532.5 177.9 533 177.9 533.5 178 534 178 534.5 178.1 535 178.1 535.5 178.2 536 178.2 536.5 178.2 537 178.3 537.5 178.3 538 178.3 538.5 178.3 539 178.3 539.5 178.3 540 178.3 540.5 178.3 541 178.3 541.5 178.3 542 178.2 542.5 178.2 543 178.2 543.5 178.2 544 178.2 544.5 178.1 545 178.1 545.5 178.1 546 178 546.5 178 547 177.9 547.5 177.9 548 177.8 548.5 177.7 549 177.4 549.5 176.9 550 176.3 550.5 175.6 551 174.4 551.5 172.5 552 169.5 552.5 155.4 552.6 150 552.9 100 553 83.7 553.3 45 553.5 37.4 554 26.1 554.2 25 554.5 27.6 555 41.2 555.1 45 555.5 86.3 555.6 100 555.9 150 556 157.2 556.3 170 556.5 173.4 557 179.1 557.3 180.1 557.5 180.1 558 179.7 558.5 179.2 559 178.4 559.5 177.3 560 175.7 560.4 174.4 560.5 174 561 171.9 561.2 171.5 561.5 173.3 562 177.4 562.5 177.9 563 178.3 563.5 178.5 564 178.7 564.5 178.8 565 178.8 565.5 178.9 566 178.9 566.5 178.9 567 179 567.5 179 568 179 568.5 179 569 179.1 569.5 179.1 570 179.1 570.5 179.1 571 179.1 571.5 179.1 572 179.2 572.5 179.2 573 179.2 573.5 179.2 574 179.2 574.5 179.2 575 179.2 575.5 179.2 576 179.2 576.5 179.3 577 179.3 577.5 179.3 578 179.3 578.5 179.3 579 179.3 579.5 179.3 580 179.3 580.5 179.3 581 179.3 581.5 179.4 582 179.4 582.5 179.4 583 179.4 583.5 179.4 584 179.3 584.5 179.3 585 179.3 585.5 179.3 586 179.3 586.5 179.3 587 179.3 587.5 179.3 588 179.3 588.5 179.3 589 179.3 589.5 179.3 590 179.3 590.5 179.3 591 179.4 591.5 179.4 592 179.4 592.5 179.4 593 179.4 593.5 179.4 594 179.4 594.5 179.5 595 179.5 595.5 179.5 596 179.5 596.5 179.5 597 179.5 597.5 179.5 598 179.5 598.5 179.6 599 179.6 599.5 179.6 600 179.6 600.5 179.5 601 179.5 601.5 179.4 602 179.3 602.5 179.2 603 179.1 603.5 179 604 178.8 604.5 178.7 605 178.6 605.5 178.4 606 178.3 606.5 178.1 607 177.9 607.5 177.7 608 177.5 608.5 177.3 609 177.1 609.5 176.8 610 176.6 610.5 176.3 611 176 611.5 175.7 612 175.4 612.5 175 613 174.6 613.5 174.1 614 173.5 614.5 172.8 615 172.1 615.5 171.3 616 170.6 616.5 169.7 617 168.8 617.5 167.9 618 166.9 618.5 165.9 619 164.7 619.5 163.3 620 162.1 620.5 161.4 620.7 161.3 621 161.4 621.5 162 622 162.9 622.5 164.1 623 165.8 623.5 167.1 624 168.2 624.5 169.2 625 169.6 625.5 169.7 626 169.8 626.5 169.9 627 169.9 627.5 170 628 170 628.5 170 629 170 629.5 170 630 169.9 630.5 169.8 631 169.7 631.5 169.5 632 169.3 632.5 169.1 633 168.9 633.5 168.9 633.6 168.9 634 168.9 634.5 169 635 169.3 635.5 169.6 636 169.9 636.5 170.3 637 170.7 637.5 171.1 638 171.5 638.5 171.8 639 172.1 639.5 172.4 640 172.5 640.5 172.6 641 172.7 641.5 172.8 642 172.9 642.5 172.9 643 173 643.5 173.2 643.9 173.3 644 173.3 644.5 173.7 645 174.5 645.5 175.4 646 176.2 646.5 176.9 647 177.1 647.5 176.8 648 175.7 648.2 175.1 648.5 169.2 649 148 649.2 140 649.5 127.4 650 112.9 650.5 117 651 125 651.5 135.8 651.9 145 652 146.9 652.5 156.4 653 163.8 653.5 168.9 654 172.7 654.2 173.5 654.5 174.4 655 175.5 655.5 176.3 656 176.8 656.5 177 657 177.2 657.5 177.3 658 177.5 658.5 177.6 659 177.6 659.5 177.7 660 177.7 660.5 177.6 661 177.5 661.5 177.3 662 177.1 662.5 176.8 663 176.4 663.5 176 664 175.5 664.5 174.4 665 172.3 665.5 169.2 665.7 167.7 666 162.8 666.5 150.2 666.9 145 667 145.5 667.5 156.2 667.8 163.4 668 167.4 668.5 176 668.6 176.3 669 176.2 669.5 175.8 670 175.3 670.5 174.7 671 174 671.5 173.3 672 172.6 672.5 172 673 171.6 673.3 171.6 673.5 171.6 674 171.6 674.5 171.7 675 171.8 675.5 171.9 676 172 676.5 172.1 677 172.3 677.5 172.4 678 172.6 678.5 173 679 173.7 679.5 174.7 680 175.7 680.5 176.6 681 177.2 681.4 177.3 681.5 177.3 682 177.2 682.5 176.8 683 176.3 683.5 175.7 684 174.9 684.5 174.1 685 173.2 685.5 172.3 686 171.5 686.5 170.6 687 169.5 687.5 168.3 688 167 688.5 165.7 689 164.5 689.5 163.4 690 162.4 690.5 161.5 691 160.7 691.5 159.8 692 159 692.5 158.2 693 157.5 693.5 156.8 694 156.3 694.5 155.7 695 155.3 695.5 154.9 696 154.5 696.5 154.2 697 153.8 697.5 153.5 698 153.2 698.5 153 699 152.9 699.5 152.8 699.7 152.8 700 152.8 700.5 152.8 701 152.9 701.5 153 702 153.1 702.5 153.3 703 153.5 703.5 153.7 704 153.9 704.5 154.1 705 154.3 705.5 154.6 706 154.9 706.5 155.3 707 155.8 707.5 156.4 708 157 708.5 157.6 709 158.3 709.5 159.4 710 160.8 710.5 162.2 711 163.1 711.2 163.2 711.5 160.8 712 153.2 712.5 147.2 712.8 145.5 713 146.4 713.5 153 713.8 157.1 714 159.3 714.5 164.8 715 169.1 715.5 172.3 716 174.2 716.5 174.5 717 174.7 717.5 175.1 718 175.4 718.2 175.6" stroke="#40a040" stroke-opacity="0.85"/>
<path d="M399 179.9L399.5 179.9 400 179.9 400.5 179.9 401 180 401.5 180 402 180 402.5 180 403 180 403.5 180 404 180 404.5 180 405 180 405.5 180 406 180 406.5 180 407 180 407.5 180 408 180 408.5 180 409 180 409.5 180 410 180 410.5 180 411 180 411.5 180 412 180 412.5 180 413 180 413.5 180.1 414 180.1 414.5 180.1 415 180.1 415.5 180.1 416 180.1 416.5 180.1 417 180.1 417.5 180.1 418 180.1 418.5 180.1 419 180.1 419.5 180.1 420 180.1 420.5 180.1 421 180.1 421.5 180.1 422 180.2 422.5 180.2 423 180.2 423.5 180.2 424 180.2 424.5 180.2 425 180.2 425.5 180.2 426 180.2 426.5 180.2 426.8 180.2 427 179.7 427.5 176.7 427.8 175.7 428 176.3 428.5 179.6 428.6 179.8 429 180.1 429.5 180.3 430 180.3 430.5 180.2 431 179.8 431.5 179.3 432 178.6 432.5 177.8 432.7 177.5 433 176.8 433.5 175.2 434 173.2 434.5 171.1 435 169 435.5 166.8 435.7 166 436 164.7 436.5 162.3 437 160.4 437.4 159.8 437.5 159.9 438 160.2 438.5 161 439 161.8 439.5 162.5 440 163.1 440.5 163.7 441 164.3 441.5 164.7 442 164.9 442.5 164 443 162.1 443.5 160.1 444 158.2 444.5 156.2 445 154 445.4 152.2 445.5 151.8 446 149.5 446.5 147.2 447 144.8 447.5 142.3 448 139.6 448.4 137.2 448.5 136.6 449 133.4 449.5 129.8 450 125.9 450.5 121.7 450.6 120.8 451 116.9 451.5 111.3 452 105.5 452.5 100 453 94.8 453.5 89.7 454 84.9 454.5 80.8 455 77.2 455.5 73.9 456 70.9 456.5 68.3 457 65.9 457.5 63.6 458 61.5 458.5 59.5 459 57.7 459.5 56 459.9 54.8 460 54.5 460.5 53.2 461 51.9 461.5 50.7 461.6 50.5 462 49.5 462.5 48.3 463 47.2 463.5 46.1 464 45.1 464.5 44.1 465 43.1 465.5 42.1 466 41.3 466.5 40.6 467 40.2 467.5 39.9 468 39.7 468.5 39.5 469 39.4 469.5 39.4 469.8 39.5 470 39.5 470.5 39.7 471 40 471.5 40.4 472 40.9 472.5 41.6 473 42.6 473.5 43.8 474 45.3 474.5 47.1 475 49.2 475.3 50.5 475.5 51.2 476 53.3 476.5 55.8 477 59.1 477.5 63.1 477.8 65.8 478 67.7 478.5 73.5 479 80.4 479.5 87.2 479.7 89.8 480 93.7 480.5 100 481 105.8 481.5 111 482 115.7 482.3 118.3 482.5 120 483 123.9 483.5 127.6 484 131 484.5 134.2 484.9 136.6 485 137.2 485.5 140.1 485.7 141.2 486 142.9 486.5 145.7 487 148.4 487.5 150.9 488 153.1 488.5 155.1 489 157 489.5 158.7 489.7 159.3 490 160.2 490.5 161.6 490.9 162.5 491 162.7 491.5 163.7 492 164.6 492.5 165.3 493 166 493.5 166.6 494 167.2 494.5 167.6 495 168 495.2 168.1 495.5 168.3 496 168.5 496.5 168.7 497 168.9 497.5 169.1 498 169.3 498.5 169.4 499 169.5 499.5 169.7 500 169.8 500.5 169.9 501 169.9 501.5 170 502 170.1 502.5 170.2 503 170.3 503.5 170.4 503.8 170.5 504 170.6 504.5 170.7 505 170.8 505.5 171 506 171.1 506.5 171.3 507 171.4 507.5 171.6 508 171.8 508.5 171.9 509 172.1 509.5 172.2 510 172.4 510.5 172.6 511 172.7 511.5 172.9 512 173 512.5 173.2 513 173.3 513.5 173.5 514 173.6 514.5 173.8 515 173.9 515.5 174.1 516 174.2 516.5 174.4 517 174.5 517.5 174.7 518 174.8 518.5 174.9 519 175.1 519.5 175.2 520 175.4 520.5 175.5 521 175.7 521.5 175.8 522 176 522.5 176.1 522.7 176.2 523 176.3 523.5 176.4 524 176.5 524.5 176.7 525 176.8 525.5 177 526 177.1 526.5 177.3 527 177.4 527.5 177.6 528 177.7 528.5 177.8 529 177.9 529.5 178 530 178.1 530.5 178.2 531 178.3 531.5 178.4 532 178.4 532.5 178.5 533 178.5 533.5 178.6 534 178.6 534.5 178.6 535 178.7 535.5 178.7 536 178.7 536.5 178.7 537 178.7 537.5 178.7 538 178.7 538.5 178.7 539 178.7 539.5 178.7 540 178.7 540.5 178.7 541 178.7 541.5 178.7 542 178.6 542.5 178.6 543 178.6 543.5 178.6 544 178.6 544.5 178.5 545 178.5 545.5 178.5 546 178.5 546.5 178.4 547 178.4 547.5 178.3 548 178.2 548.5 178.1 549 177.8 549.5 177.3 550 176.8 550.5 176 551 174.9 551.5 173 552 170 552.5 155.5 552.6 150 552.9 100 553 83.7 553.3 45 553.5 37.3 554 26 554.2 24.9 554.5 27.5 555 41.2 555.1 45 555.5 86.3 555.6 100 555.9 150 556 157.2 556.3 170 556.5 173.5 557 179.4 557.3 180.4 557.5 180.4 558 180.1 558.5 179.5 559 178.8 559.5 177.6 560 175.9 560.4 174.5 560.5 174.1 561 172 561.2 171.7 561.5 173.5 562 177.8 562.5 178.2 563 178.6 563.5 178.9 564 179.1 564.5 179.2 565 179.2 565.5 179.3 566 179.3 566.5 179.4 567 179.4 567.5 179.4 568 179.4 568.5 179.5 569 179.5 569.5 179.5 570 179.5 570.5 179.5 571 179.6 571.5 179.6 572 179.6 572.5 179.6 573 179.6 573.5 179.6 574 179.6 574.5 179.7 575 179.7 575.5 179.7 576 179.7 576.5 179.7 577 179.7 577.5 179.7 578 179.7 578.5 179.7 579 179.7 579.5 179.7 580 179.8 580.5 179.8 581 179.8 581.5 179.8 582 179.8 582.5 179.7 583 179.7 583.5 179.7 584 179.7 584.5 179.7 585 179.7 585.5 179.7 586 179.6 586.5 179.6 587 179.6 587.5 179.6 588 179.6 588.5 179.6 589 179.6 589.5 179.6 590 179.6 590.5 179.6 591 179.6 591.5 179.6 592 179.6 592.5 179.7 593 179.7 593.5 179.7 594 179.7 594.5 179.7 595 179.7 595.5 179.7 596 179.7 596.5 179.8 597 179.8 597.5 179.8 598 179.8 598.5 179.8 599 179.8 599.5 179.8 600 179.8 600.5 179.8 601 179.7 601.5 179.7 602 179.6 602.5 179.5 603 179.3 603.5 179.2 604 179.1 604.5 178.9 605 178.8 605.5 178.7 606 178.5 606.5 178.3 607 178.1 607.5 177.9 608 177.7 608.5 177.5 609 177.3 609.5 177 610 176.8 610.5 176.5 611 176.2 611.5 175.9 612 175.5 612.5 175.2 613 174.8 613.5 174.3 614 173.7 614.5 173 615 172.3 615.5 171.5 616 170.8 616.5 169.9 617 169 617.5 168 618 167 618.5 166 619 164.8 619.5 163.4 620 162.2 620.5 161.4 620.7 161.3 621 161.5 621.5 162.1 622 163 622.5 164.3 623 166 623.5 167.5 624 168.6 624.5 169.6 625 170.2 625.5 170.3 626 170.4 626.5 170.5 627 170.6 627.5 170.6 628 170.7 628.5 170.7 629 170.7 629.5 170.7 630 170.7 630.5 170.6 631 170.4 631.5 170.2 632 169.9 632.5 169.7 633 169.5 633.5 169.5 633.6 169.4 634 169.5 634.5 169.6 635 169.8 635.5 170.1 636 170.4 636.5 170.8 637 171.2 637.5 171.6 638 171.9 638.5 172.3 639 172.6 639.5 172.8 640 173 640.5 173.1 641 173.3 641.5 173.4 642 173.5 642.5 173.7 643 173.8 643.5 174 643.9 174.1 644 174.2 644.5 174.6 645 175.3 645.5 176 646 176.7 646.5 177.3 647 177.5 647.5 177.1 648 176.1 648.2 175.5 648.5 169.5 649 148 649.2 140 649.5 127.4 650 112.9 650.5 117 651 125 651.5 135.8 651.9 145 652 147 652.5 156.6 653 164 653.5 169.2 654 172.9 654.2 173.7 654.5 174.6 655 175.7 655.5 176.6 656 177 656.5 177.2 657 177.4 657.5 177.6 658 177.7 658.5 177.8 659 177.9 659.5 177.9 660 177.9 660.5 177.9 661 177.8 661.5 177.6 662 177.3 662.5 177 663 176.7 663.5 176.3 664 175.8 664.5 174.7 665 172.6 665.5 169.5 665.7 168 666 163.1 666.5 150.3 666.9 145 667 145.5 667.5 156.4 667.8 163.6 668 167.7 668.5 176.2 668.6 176.6 669 176.4 669.5 176 670 175.5 670.5 175 671 174.2 671.5 173.4 672 172.7 672.5 172.1 673 171.7 673.3 171.6 673.5 171.6 674 171.7 674.5 171.8 675 172 675.5 172.2 676 172.4 676.5 172.6 677 172.8 677.5 173 678 173.2 678.5 173.7 679 174.4 679.5 175.3 680 176.2 680.5 177.1 681 177.6 681.4 177.8 681.5 177.8 682 177.6 682.5 177.3 683 176.8 683.5 176.1 684 175.4 684.5 174.6 685 173.8 685.5 172.9 686 172.1 686.5 171.2 687 170.1 687.5 168.9 688 167.6 688.5 166.3 689 165 689.5 163.9 690 162.9 690.5 162 691 161.1 691.5 160.3 692 159.4 692.5 158.6 693 157.9 693.5 157.2 694 156.6 694.5 156.1 695 155.7 695.5 155.3 696 154.9 696.5 154.5 697 154.2 697.5 153.8 698 153.6 698.5 153.4 699 153.2 699.5 153.1 699.7 153.1 700 153.1 700.5 153.2 701 153.2 701.5 153.3 702 153.5 702.5 153.6 703 153.8 703.5 154 704 154.2 704.5 154.4 705 154.7 705.5 154.9 706 155.3 706.5 155.7 707 156.2 707.5 156.7 708 157.3 708.5 158 709 158.7 709.5 159.7 710 161.1 710.5 162.4 711 163.2 711.2 163.3 711.5 161 712 153.4 712.5 147.2 712.8 145.5 713 146.4 713.5 153.1 713.8 157.2 714 159.4 714.5 164.9 715 169.2 715.5 172.5 716 174.4 716.5 174.5 717 174.4 717.5 174.7 718 175.3 718.2 175.6" stroke="#3ad8f8" stroke-opacity="0.85"/>
<path d="M399 180.3L399.5 180.3 400 180.3 400.5 180.3 401 180.3 401.5 180.3 402 180.3 402.5 180.3 403 180.3 403.5 180.3 404 180.3 404.5 180.3 405 180.3 405.5 180.3 406 180.3 406.5 180.3 407 180.3 407.5 180.3 408 180.3 408.5 180.4 409 180.4 409.5 180.4 410 180.4 410.5 180.4 411 180.4 411.5 180.4 412 180.4 412.5 180.4 413 180.4 413.5 180.4 414 180.4 414.5 180.4 415 180.4 415.5 180.4 416 180.4 416.5 180.4 417 180.4 417.5 180.4 418 180.4 418.5 180.4 419 180.4 419.5 180.4 420 180.4 420.5 180.5 421 180.5 421.5 180.5 422 180.5 422.5 180.5 423 180.5 423.5 180.5 424 180.5 424.5 180.5 425 180.5 425.5 180.5 426 180.5 426.5 180.5 426.8 180.5 427 180 427.5 176.9 427.8 175.9 428 176.5 428.5 179.9 428.6 180.1 429 180.3 429.5 180.5 430 180.6 430.5 180.5 431 180.1 431.5 179.5 432 178.8 432.5 177.9 432.7 177.6 433 176.9 433.5 175 434 172.7 434.5 170.4 435 167.9 435.5 165.3 435.7 164.4 436 162.9 436.5 160.3 437 158.3 437.4 157.7 437.5 157.7 438 158.1 438.5 158.8 439 159.7 439.5 160.4 440 161.1 440.5 161.8 441 162.4 441.5 162.9 442 163.1 442.5 162.3 443 160.5 443.5 158.6 444 156.8 444.5 154.7 445 152.6 445.4 150.8 445.5 150.4 446 148.1 446.5 145.7 447 143.3 447.5 140.7 448 138.1 448.4 135.8 448.5 135.2 449 132.2 449.5 128.9 450 125.4 450.5 121.4 450.6 120.6 451 116.8 451.5 111.3 452 105.5 452.5 100 453 94.8 453.5 89.6 454 84.8 454.5 80.6 455 76.9 455.5 73.5 456 70.5 456.5 68 457 65.8 457.5 63.8 458 62 458.5 60.5 459 59 459.5 57.7 459.9 56.8 460 56.5 460.5 55.6 461 54.7 461.5 53.9 461.6 53.7 462 52.9 462.5 52 463 51 463.5 50 464 49.2 464.5 48.4 465 47.6 465.5 46.8 466 46.1 466.5 45.6 467 45.3 467.5 45.1 468 45 468.5 45 469 45 469.5 45.1 469.8 45.2 470 45.3 470.5 45.6 471 46 471.5 46.5 472 47.2 472.5 48.1 473 49.6 473.5 51.3 474 53.3 474.5 55.6 475 58.2 475.3 59.6 475.5 60.4 476 62.5 476.5 64.8 477 67.8 477.5 71.3 477.8 73.7 478 75.3 478.5 80.4 479 86.3 479.5 92.2 479.7 94.4 480 97.8 480.5 103.6 481 109 481.5 113.9 482 118.4 482.3 120.9 482.5 122.5 483 126.3 483.5 129.7 484 133 484.5 136.1 484.9 138.5 485 139.1 485.5 141.9 485.7 143 486 144.7 486.5 147.5 487 150.3 487.5 152.8 488 155 488.5 157 489 158.9 489.5 160.6 489.7 161.2 490 162.1 490.5 163.4 490.9 164.2 491 164.4 491.5 165.3 492 166.1 492.5 166.8 493 167.4 493.5 167.9 494 168.4 494.5 168.8 495 169.2 495.2 169.3 495.5 169.4 496 169.6 496.5 169.8 497 170 497.5 170.2 498 170.3 498.5 170.4 499 170.5 499.5 170.6 500 170.7 500.5 170.8 501 170.9 501.5 171 502 171.1 502.5 171.2 503 171.3 503.5 171.4 503.8 171.4 504 171.5 504.5 171.6 505 171.7 505.5 171.9 506 172 506.5 172.2 507 172.3 507.5 172.5 508 172.6 508.5 172.7 509 172.9 509.5 173 510 173.2 510.5 173.3 511 173.5 511.5 173.6 512 173.7 512.5 173.9 513 174 513.5 174.2 514 174.3 514.5 174.4 515 174.6 515.5 174.7 516 174.8 516.5 175 517 175.1 517.5 175.3 518 175.4 518.5 175.5 519 175.7 519.5 175.8 520 176 520.5 176.1 521 176.3 521.5 176.4 522 176.6 522.5 176.7 522.7 176.7 523 176.8 523.5 177 524 177.1 524.5 177.3 525 177.4 525.5 177.6 526 177.7 526.5 177.8 527 178 527.5 178.1 528 178.3 528.5 178.4 529 178.5 529.5 178.6 530 178.7 530.5 178.8 531 178.8 531.5 178.9 532 178.9 532.5 179 533 179 533.5 179 534 179.1 534.5 179.1 535 179.1 535.5 179.1 536 179.1 536.5 179.1 537 179.1 537.5 179.1 538 179.1 538.5 179.1 539 179.1 539.5 179.1 540 179 540.5 179 541 179 541.5 179 542 179 542.5 179 543 178.9 543.5 178.9 544 178.9 544.5 178.9 545 178.9 545.5 178.8 546 178.8 546.5 178.8 547 178.7 547.5 178.7 548 178.6 548.5 178.4 549 178.1 549.5 177.7 550 177.1 550.5 176.4 551 175.2 551.5 173.3 552 170.4 552.5 155.6 552.6 150 552.9 100 553 83.7 553.3 45 553.5 37.3 554 25.9 554.2 24.8 554.5 27.4 555 41.2 555.1 45 555.5 86.3 555.6 100 555.9 150 556 157.2 556.3 170 556.5 173.6 557 179.6 557.3 180.7 557.5 180.7 558 180.4 558.5 179.8 559 179 559.5 177.8 560 176 560.4 174.6 560.5 174.2 561 172.1 561.2 171.8 561.5 173.7 562 178 562.5 178.5 563 178.9 563.5 179.2 564 179.4 564.5 179.5 565 179.6 565.5 179.6 566 179.7 566.5 179.7 567 179.7 567.5 179.8 568 179.8 568.5 179.8 569 179.8 569.5 179.9 570 179.9 570.5 179.9 571 179.9 571.5 179.9 572 180 572.5 180 573 180 573.5 180 574 180 574.5 180 575 180 575.5 180 576 180 576.5 180 577 180.1 577.5 180.1 578 180.1 578.5 180.1 579 180.1 579.5 180.1 580 180.1 580.5 180.1 581 180.1 581.5 180.1 582 180.1 582.5 180.1 583 180.1 583.5 180 584 180 584.5 180 585 180 585.5 179.9 586 179.9 586.5 179.9 587 179.9 587.5 179.9 588 179.8 588.5 179.8 589 179.8 589.5 179.8 590 179.8 590.5 179.8 591 179.8 591.5 179.8 592 179.9 592.5 179.9 593 179.9 593.5 179.9 594 179.9 594.5 179.9 595 179.9 595.5 179.9 596 180 596.5 180 597 180 597.5 180 598 180 598.5 180 599 180 599.5 180 600 180 600.5 180 601 179.9 601.5 179.9 602 179.8 602.5 179.7 603 179.5 603.5 179.4 604 179.3 604.5 179.1 605 179 605.5 178.9 606 178.7 606.5 178.5 607 178.3 607.5 178.1 608 177.9 608.5 177.7 609 177.4 609.5 177.2 610 176.9 610.5 176.6 611 176.3 611.5 176 612 175.7 612.5 175.3 613 174.9 613.5 174.4 614 173.8 614.5 173.2 615 172.4 615.5 171.7 616 170.9 616.5 170.1 617 169.1 617.5 168.1 618 167.1 618.5 166.1 619 164.9 619.5 163.5 620 162.2 620.5 161.5 620.7 161.4 621 161.5 621.5 162.2 622 163.1 622.5 164.5 623 166.3 623.5 167.8 624 169 624.5 170 625 170.6 625.5 170.8 626 170.9 626.5 171 627 171.1 627.5 171.2 628 171.3 628.5 171.3 629 171.3 629.5 171.3 630 171.3 630.5 171.2 631 171 631.5 170.8 632 170.5 632.5 170.2 633 170 633.5 169.9 633.6 169.9 634 170 634.5 170.1 635 170.3 635.5 170.5 636 170.9 636.5 171.2 637 171.6 637.5 171.9 638 172.3 638.5 172.6 639 172.9 639.5 173.2 640 173.4 640.5 173.6 641 173.7 641.5 173.9 642 174.1 642.5 174.3 643 174.5 643.5 174.7 643.9 174.8 644 174.9 644.5 175.3 645 175.9 645.5 176.5 646 177.2 646.5 177.6 647 177.8 647.5 177.4 648 176.4 648.2 175.8 648.5 169.8 649 148.1 649.2 140 649.5 127.4 650 112.9 650.5 117 651 125 651.5 135.8 651.9 145 652 147 652.5 156.7 653 164.2 653.5 169.3 654 173 654.2 173.8 654.5 174.7 655 175.9 655.5 176.8 656 177.2 656.5 177.4 657 177.6 657.5 177.8 658 177.9 658.5 178 659 178.1 659.5 178.1 660 178.1 660.5 178.1 661 178 661.5 177.8 662 177.6 662.5 177.3 663 176.9 663.5 176.5 664 176 664.5 175 665 172.9 665.5 169.9 665.7 168.5 666 163.5 666.5 150.4 666.9 145 667 145.5 667.5 156.6 667.8 163.9 668 168 668.5 176.5 668.6 176.9 669 176.8 669.5 176.3 670 175.9 670.5 175.3 671 174.5 671.5 173.7 672 172.8 672.5 172.2 673 171.8 673.3 171.7 673.5 171.7 674 171.9 674.5 172.1 675 172.4 675.5 172.7 676 173 676.5 173.3 677 173.6 677.5 173.9 678 174.2 678.5 174.7 679 175.4 679.5 176.3 680 177.1 680.5 177.8 681 178.3 681.4 178.4 681.5 178.4 682 178.3 682.5 177.9 683 177.5 683.5 176.9 684 176.2 684.5 175.4 685 174.6 685.5 173.8 686 173 686.5 172.1 687 171 687.5 169.8 688 168.4 688.5 167.1 689 165.8 689.5 164.6 690 163.6 690.5 162.7 691 161.8 691.5 160.9 692 160.1 692.5 159.3 693 158.5 693.5 157.8 694 157.2 694.5 156.6 695 156.2 695.5 155.8 696 155.4 696.5 155 697 154.7 697.5 154.4 698 154.1 698.5 153.9 699 153.7 699.5 153.6 699.7 153.6 700 153.6 700.5 153.7 701 153.7 701.5 153.9 702 154 702.5 154.1 703 154.3 703.5 154.5 704 154.7 704.5 155 705 155.2 705.5 155.5 706 155.8 706.5 156.3 707 156.8 707.5 157.3 708 157.9 708.5 158.5 709 159.2 709.5 160.2 710 161.5 710.5 162.8 711 163.5 711.2 163.6 711.5 161.3 712 153.8 712.5 147.3 712.8 145.5 713 146.4 713.5 153.2 713.8 157.4 714 159.6 714.5 165 715 169.4 715.5 172.9 716 174.8 716.5 174.4 717 173.8 717.5 174.3 718 175.2 718.2 175.7" stroke="#f84cf4" stroke-opacity="0.85"/>
<path d="M399 180.5L399.5 180.5 400 180.5 400.5 180.5 401 180.5 401.5 180.5 402 180.6 402.5 180.6 403 180.6 403.5 180.6 404 180.6 404.5 180.6 405 180.6 405.5 180.6 406 180.6 406.5 180.6 407 180.6 407.5 180.6 408 180.6 408.5 180.6 409 180.6 409.5 180.6 410 180.6 410.5 180.6 411 180.6 411.5 180.6 412 180.6 412.5 180.6 413 180.6 413.5 180.6 414 180.6 414.5 180.6 415 180.6 415.5 180.6 416 180.6 416.5 180.6 417 180.6 417.5 180.6 418 180.6 418.5 180.6 419 180.7 419.5 180.7 420 180.7 420.5 180.7 421 180.7 421.5 180.7 422 180.7 422.5 180.7 423 180.7 423.5 180.7 424 180.7 424.5 180.7 425 180.7 425.5 180.7 426 180.7 426.5 180.7 426.8 180.7 427 180.2 427.5 177 427.8 176 428 176.7 428.5 180 428.6 180.3 429 180.5 429.5 180.7 430 180.8 430.5 180.6 431 180.3 431.5 179.7 432 178.9 432.5 178 432.7 177.7 433 176.9 433.5 174.9 434 172.5 434.5 169.9 435 167.2 435.5 164.3 435.7 163.3 436 161.8 436.5 159 437 156.9 437.4 156.2 437.5 156.2 438 156.6 438.5 157.4 439 158.3 439.5 159 440 159.7 440.5 160.5 441 161.2 441.5 161.7 442 162 442.5 161.2 443 159.5 443.5 157.6 444 155.8 444.5 153.8 445 151.6 445.4 149.8 445.5 149.4 446 147.1 446.5 144.7 447 142.3 447.5 139.7 448 137.1 448.4 134.8 448.5 134.3 449 131.4 449.5 128.3 450 125 450.5 121.3 450.6 120.5 451 116.8 451.5 111.3 452 105.5 452.5 100 453 94.8 453.5 89.6 454 84.7 454.5 80.5 455 76.7 455.5 73.3 456 70.2 456.5 67.8 457 65.8 457.5 63.9 458 62.4 458.5 61.1 459 59.9 459.5 58.8 459.9 58.1 460 57.9 460.5 57.2 461 56.6 461.5 56 461.6 55.8 462 55.2 462.5 54.4 463 53.5 463.5 52.7 464 52 464.5 51.3 465 50.6 465.5 49.9 466 49.4 466.5 48.9 467 48.7 467.5 48.6 468 48.6 468.5 48.6 469 48.7 469.5 48.9 469.8 49 470 49.1 470.5 49.5 471 50 471.5 50.6 472 51.3 472.5 52.5 473 54.2 473.5 56.4 474 58.6 474.5 61.3 475 64.2 475.3 65.7 475.5 66.6 476 68.6 476.5 70.9 477 73.6 477.5 76.8 477.8 79 478 80.5 478.5 85 479 90.3 479.5 95.5 479.7 97.6 480 100.7 480.5 106.1 481 111.2 481.5 116 482 120.4 482.3 122.9 482.5 124.4 483 128.1 483.5 131.5 484 134.7 484.5 137.8 484.9 140.1 485 140.7 485.5 143.6 485.7 144.7 486 146.4 486.5 149.3 487 152.1 487.5 154.6 488 156.9 488.5 158.9 489 160.7 489.5 162.4 489.7 163 490 163.9 490.5 165.2 490.9 166 491 166.1 491.5 166.9 492 167.6 492.5 168.2 493 168.8 493.5 169.3 494 169.7 494.5 170 495 170.3 495.2 170.4 495.5 170.5 496 170.7 496.5 170.9 497 171.1 497.5 171.2 498 171.3 498.5 171.4 499 171.5 499.5 171.6 500 171.7 500.5 171.8 501 171.9 501.5 172 502 172 502.5 172.1 503 172.2 503.5 172.3 503.8 172.4 504 172.4 504.5 172.5 505 172.7 505.5 172.8 506 172.9 506.5 173 507 173.2 507.5 173.3 508 173.4 508.5 173.6 509 173.7 509.5 173.8 510 174 510.5 174.1 511 174.2 511.5 174.3 512 174.5 512.5 174.6 513 174.7 513.5 174.8 514 175 514.5 175.1 515 175.2 515.5 175.4 516 175.5 516.5 175.6 517 175.7 517.5 175.9 518 176 518.5 176.1 519 176.3 519.5 176.4 520 176.6 520.5 176.7 521 176.8 521.5 177 522 177.1 522.5 177.3 522.7 177.3 523 177.4 523.5 177.5 524 177.7 524.5 177.8 525 178 525.5 178.1 526 178.3 526.5 178.4 527 178.6 527.5 178.7 528 178.8 528.5 179 529 179.1 529.5 179.2 530 179.3 530.5 179.3 531 179.4 531.5 179.4 532 179.4 532.5 179.5 533 179.5 533.5 179.5 534 179.5 534.5 179.5 535 179.5 535.5 179.5 536 179.5 536.5 179.5 537 179.5 537.5 179.5 538 179.5 538.5 179.4 539 179.4 539.5 179.4 540 179.4 540.5 179.4 541 179.3 541.5 179.3 542 179.3 542.5 179.3 543 179.3 543.5 179.3 544 179.2 544.5 179.2 545 179.2 545.5 179.2 546 179.1 546.5 179.1 547 179.1 547.5 179 548 178.9 548.5 178.8 549 178.5 549.5 178 550 177.4 550.5 176.7 551 175.6 551.5 173.7 552 170.8 552.5 155.7 552.6 150 552.9 100 553 83.7 553.3 45 553.5 37.3 554 25.7 554.2 24.7 554.5 27.3 555 41.1 555.1 45 555.5 86.3 555.6 100 555.9 150 556 157.2 556.3 170 556.5 173.7 557 179.9 557.3 181 557.5 181 558 180.6 558.5 180 559 179.2 559.5 178 560 176.1 560.4 174.7 560.5 174.3 561 172.3 561.2 172 561.5 173.9 562 178.2 562.5 178.8 563 179.2 563.5 179.5 564 179.8 564.5 179.9 565 179.9 565.5 180 566 180 566.5 180.1 567 180.1 567.5 180.1 568 180.1 568.5 180.2 569 180.2 569.5 180.2 570 180.2 570.5 180.3 571 180.3 571.5 180.3 572 180.3 572.5 180.3 573 180.3 573.5 180.3 574 180.4 574.5 180.4 575 180.4 575.5 180.4 576 180.4 576.5 180.4 577 180.4 577.5 180.4 578 180.4 578.5 180.4 579 180.4 579.5 180.4 580 180.4 580.5 180.5 581 180.4 581.5 180.4 582 180.4 582.5 180.4 583 180.4 583.5 180.3 584 180.3 584.5 180.3 585 180.2 585.5 180.2 586 180.2 586.5 180.1 587 180.1 587.5 180.1 588 180.1 588.5 180.1 589 180 589.5 180 590 180 590.5 180 591 180.1 591.5 180.1 592 180.1 592.5 180.1 593 180.1 593.5 180.1 594 180.1 594.5 180.1 595 180.1 595.5 180.1 596 180.2 596.5 180.2 597 180.2 597.5 180.2 598 180.2 598.5 180.2 599 180.2 599.5 180.2 600 180.2 600.5 180.2 601 180.1 601.5 180.1 602 180 602.5 179.9 603 179.7 603.5 179.6 604 179.5 604.5 179.3 605 179.2 605.5 179.1 606 178.9 606.5 178.7 607 178.5 607.5 178.3 608 178.1 608.5 177.8 609 177.6 609.5 177.3 610 177.1 610.5 176.8 611 176.5 611.5 176.2 612 175.8 612.5 175.5 613 175.1 613.5 174.6 614 174 614.5 173.3 615 172.6 615.5 171.8 616 171.1 616.5 170.2 617 169.3 617.5 168.3 618 167.2 618.5 166.2 619 165 619.5 163.5 620 162.2 620.5 161.5 620.7 161.4 621 161.5 621.5 162.2 622 163.2 622.5 164.6 623 166.5 623.5 168.1 624 169.3 624.5 170.4 625 171 625.5 171.2 626 171.4 626.5 171.5 627 171.7 627.5 171.8 628 171.8 628.5 171.9 629 171.9 629.5 171.9 630 171.9 630.5 171.8 631 171.6 631.5 171.3 632 171 632.5 170.8 633 170.5 633.5 170.4 633.6 170.4 634 170.5 634.5 170.6 635 170.8 635.5 171 636 171.3 636.5 171.6 637 172 637.5 172.3 638 172.7 638.5 173 639 173.3 639.5 173.6 640 173.8 640.5 174 641 174.2 641.5 174.4 642 174.7 642.5 174.9 643 175.1 643.5 175.4 643.9 175.6 644 175.6 644.5 176 645 176.5 645.5 177.1 646 177.6 646.5 178 647 178.1 647.5 177.7 648 176.7 648.2 176.1 648.5 170 649 148.1 649.2 140 649.5 127.3 650 112.9 650.5 117 651 125 651.5 135.8 651.9 145 652 147 652.5 156.8 653 164.4 653.5 169.5 654 173.1 654.2 174 654.5 174.9 655 176.1 655.5 176.9 656 177.4 656.5 177.6 657 177.8 657.5 178 658 178.1 658.5 178.2 659 178.3 659.5 178.3 660 178.3 660.5 178.3 661 178.2 661.5 178 662 177.8 662.5 177.5 663 177.2 663.5 176.7 664 176.2 664.5 175.2 665 173.2 665.5 170.2 665.7 168.8 666 163.8 666.5 150.5 666.9 145 667 145.5 667.5 156.7 667.8 164.1 668 168.2 668.5 176.8 668.6 177.1 669 177 669.5 176.6 670 176.1 670.5 175.5 671 174.7 671.5 173.8 672 173 672.5 172.3 673 171.8 673.3 171.8 673.5 171.8 674 172 674.5 172.3 675 172.6 675.5 173 676 173.4 676.5 173.7 677 174.1 677.5 174.5 678 174.9 678.5 175.4 679 176.1 679.5 176.9 680 177.6 680.5 178.3 681 178.7 681.4 178.8 681.5 178.8 682 178.7 682.5 178.4 683 177.9 683.5 177.4 684 176.7 684.5 175.9 685 175.2 685.5 174.4 686 173.6 686.5 172.7 687 171.6 687.5 170.3 688 169 688.5 167.6 689 166.3 689.5 165.1 690 164.1 690.5 163.2 691 162.2 691.5 161.3 692 160.5 692.5 159.7 693 158.9 693.5 158.2 694 157.6 694.5 157 695 156.6 695.5 156.2 696 155.8 696.5 155.4 697 155 697.5 154.7 698 154.4 698.5 154.2 699 154 699.5 154 699.7 154 700 154 700.5 154 701 154.1 701.5 154.2 702 154.3 702.5 154.5 703 154.7 703.5 154.9 704 155.1 704.5 155.3 705 155.6 705.5 155.8 706 156.2 706.5 156.6 707 157.1 707.5 157.7 708 158.3 708.5 158.9 709 159.6 709.5 160.5 710 161.8 710.5 163 711 163.7 711.2 163.8 711.5 161.5 712 154 712.5 147.4 712.8 145.5 713 146.4 713.5 153.3 713.8 157.5 714 159.7 714.5 165.1 715 169.5 715.5 173.1 716 175 716.5 174.3 717 173.5 717.5 173.9 718 175.1 718.2 175.8" stroke="#4cf0ea" stroke-opacity="0.85"/>
<path d="M399 181L399.5 181 400 181 400.5 181 401 181 401.5 181 402 181 402.5 181 403 181 403.5 181 404 181 404.5 181 405 181 405.5 181 406 181 406.5 181 407 181 407.5 181 408 181 408.5 181 409 181 409.5 181 410 181 410.5 181 411 181 411.5 181 412 181 412.5 181.1 413 181.1 413.5 181.1 414 181.1 414.5 181.1 415 181.1 415.5 181.1 416 181.1 416.5 181.1 417 181.1 417.5 181.1 418 181.1 418.5 181.1 419 181.1 419.5 181.1 420 181.1 420.5 181.1 421 181.1 421.5 181.1 422 181.1 422.5 181.1 423 181.1 423.5 181.1 424 181.1 424.5 181.1 425 181.1 425.5 181.1 426 181.1 426.5 181.1 426.8 181.1 427 180.6 427.5 177.3 427.8 176.3 428 176.9 428.5 180.4 428.6 180.6 429 180.9 429.5 181.1 430 181.1 430.5 181 431 180.6 431.5 180 432 179.2 432.5 178.2 432.7 177.8 433 177 433.5 174.7 434 171.9 434.5 169 435 165.7 435.5 162.3 435.7 161.2 436 159.4 436.5 156.4 437 154 437.4 153.3 437.5 153.3 438 153.7 438.5 154.5 439 155.4 439.5 156.3 440 157 440.5 157.9 441 158.8 441.5 159.4 442 159.6 442.5 158.9 443 157.3 443.5 155.5 444 153.8 444.5 151.8 445 149.7 445.4 147.9 445.5 147.5 446 145.2 446.5 142.8 447 140.2 447.5 137.7 448 135 448.4 132.9 448.5 132.4 449 129.8 449.5 127.2 450 124.3 450.5 121 450.6 120.2 451 116.7 451.5 111.4 452 105.5 452.5 100 453 94.8 453.5 89.5 454 84.6 454.5 80.2 455 76.4 455.5 72.8 456 69.7 456.5 67.4 457 65.6 457.5 64.1 458 63.1 458.5 62.3 459 61.7 459.5 61.1 459.9 60.7 460 60.6 460.5 60.4 461 60.3 461.5 60.2 461.6 60.1 462 59.8 462.5 59.2 463 58.6 463.5 58 464 57.5 464.5 57 465 56.6 465.5 56.2 466 55.8 466.5 55.6 467 55.5 467.5 55.5 468 55.7 468.5 55.9 469 56.1 469.5 56.4 469.8 56.6 470 56.8 470.5 57.3 471 57.9 471.5 58.7 472 59.7 472.5 61.2 473 63.6 473.5 66.4 474 69.3 474.5 72.6 475 76.1 475.3 77.8 475.5 78.8 476 80.9 476.5 83 477 85.2 477.5 87.7 477.8 89.5 478 90.7 478.5 94.2 479 98.1 479.5 102.2 479.7 103.8 480 106.4 480.5 110.9 481 115.5 481.5 120 482 124.2 482.3 126.4 482.5 127.9 483 131.3 483.5 134.5 484 137.6 484.5 140.5 484.9 142.8 485 143.4 485.5 146.2 485.7 147.3 486 149.1 486.5 152 487 154.8 487.5 157.5 488 159.7 488.5 161.7 489 163.5 489.5 165.2 489.7 165.8 490 166.7 490.5 167.9 490.9 168.6 491 168.7 491.5 169.4 492 169.9 492.5 170.4 493 170.9 493.5 171.2 494 171.6 494.5 171.8 495 172.1 495.2 172.1 495.5 172.2 496 172.4 496.5 172.5 497 172.7 497.5 172.8 498 172.9 498.5 173 499 173.1 499.5 173.1 500 173.2 500.5 173.3 501 173.4 501.5 173.4 502 173.5 502.5 173.6 503 173.6 503.5 173.7 503.8 173.8 504 173.8 504.5 173.9 505 174 505.5 174.1 506 174.2 506.5 174.4 507 174.5 507.5 174.6 508 174.7 508.5 174.8 509 174.9 509.5 175 510 175.1 510.5 175.2 511 175.3 511.5 175.5 512 175.6 512.5 175.7 513 175.8 513.5 175.9 514 176 514.5 176.1 515 176.2 515.5 176.3 516 176.4 516.5 176.5 517 176.7 517.5 176.8 518 176.9 518.5 177 519 177.2 519.5 177.3 520 177.4 520.5 177.6 521 177.7 521.5 177.8 522 178 522.5 178.1 522.7 178.2 523 178.2 523.5 178.4 524 178.5 524.5 178.7 525 178.8 525.5 179 526 179.1 526.5 179.3 527 179.4 527.5 179.6 528 179.7 528.5 179.8 529 179.9 529.5 180 530 180.1 530.5 180.2 531 180.2 531.5 180.2 532 180.2 532.5 180.2 533 180.2 533.5 180.2 534 180.2 534.5 180.2 535 180.2 535.5 180.1 536 180.1 536.5 180.1 537 180.1 537.5 180 538 180 538.5 180 539 179.9 539.5 179.9 540 179.9 540.5 179.9 541 179.8 541.5 179.8 542 179.8 542.5 179.8 543 179.8 543.5 179.8 544 179.8 544.5 179.7 545 179.7 545.5 179.7 546 179.7 546.5 179.6 547 179.6 547.5 179.5 548 179.5 548.5 179.3 549 179 549.5 178.5 550 178 550.5 177.3 551 176.1 551.5 174.3 552 171.4 552.5 155.9 552.6 150 552.9 100 553 83.7 553.3 45 553.5 37.2 554 25.6 554.2 24.5 554.5 27.1 555 41.1 555.1 45 555.5 86.3 555.6 100 555.9 150 556 157.2 556.3 170 556.5 173.8 557 180.3 557.3 181.5 557.5 181.4 558 181.1 558.5 180.4 559 179.6 559.5 178.3 560 176.3 560.4 174.8 560.5 174.5 561 172.5 561.2 172.2 561.5 174.1 562 178.6 562.5 179.2 563 179.7 563.5 180 564 180.3 564.5 180.4 565 180.5 565.5 180.5 566 180.5 566.5 180.6 567 180.6 567.5 180.6 568 180.7 568.5 180.7 569 180.7 569.5 180.8 570 180.8 570.5 180.8 571 180.8 571.5 180.8 572 180.8 572.5 180.9 573 180.9 573.5 180.9 574 180.9 574.5 180.9 575 180.9 575.5 180.9 576 180.9 576.5 180.9 577 180.9 577.5 181 578 181 578.5 181 579 181 579.5 181 580 181 580.5 181 581 181 581.5 180.9 582 180.9 582.5 180.9 583 180.8 583.5 180.8 584 180.8 584.5 180.7 585 180.7 585.5 180.6 586 180.6 586.5 180.5 587 180.5 587.5 180.5 588 180.4 588.5 180.4 589 180.4 589.5 180.4 590 180.4 590.5 180.4 591 180.4 591.5 180.4 592 180.4 592.5 180.4 593 180.4 593.5 180.4 594 180.4 594.5 180.4 595 180.4 595.5 180.5 596 180.5 596.5 180.5 597 180.5 597.5 180.5 598 180.5 598.5 180.5 599 180.5 599.5 180.5 600 180.5 600.5 180.5 601 180.4 601.5 180.4 602 180.3 602.5 180.2 603 180.1 603.5 179.9 604 179.8 604.5 179.6 605 179.5 605.5 179.4 606 179.2 606.5 179 607 178.8 607.5 178.6 608 178.3 608.5 178.1 609 177.8 609.5 177.5 610 177.3 610.5 177 611 176.7 611.5 176.4 612 176.1 612.5 175.7 613 175.3 613.5 174.8 614 174.2 614.5 173.5 615 172.8 615.5 172.1 616 171.3 616.5 170.4 617 169.5 617.5 168.5 618 167.4 618.5 166.3 619 165.1 619.5 163.6 620 162.3 620.5 161.5 620.7 161.5 621 161.6 621.5 162.3 622 163.3 622.5 164.9 623 166.9 623.5 168.6 624 169.9 624.5 171 625 171.7 625.5 171.9 626 172.1 626.5 172.3 627 172.5 627.5 172.6 628 172.7 628.5 172.8 629 172.8 629.5 172.9 630 172.9 630.5 172.8 631 172.5 631.5 172.2 632 171.9 632.5 171.5 633 171.3 633.5 171.2 633.6 171.2 634 171.2 634.5 171.3 635 171.5 635.5 171.7 636 171.9 636.5 172.2 637 172.6 637.5 172.9 638 173.2 638.5 173.6 639 173.9 639.5 174.2 640 174.4 640.5 174.6 641 174.9 641.5 175.2 642 175.5 642.5 175.8 643 176.1 643.5 176.4 643.9 176.7 644 176.7 644.5 177.1 645 177.5 645.5 177.9 646 178.2 646.5 178.5 647 178.6 647.5 178.2 648 177.2 648.2 176.6 648.5 170.4 649 148.2 649.2 140 649.5 127.3 650 112.9 650.5 117 651 125 651.5 135.8 651.9 145 652 147 652.5 157 653 164.7 653.5 169.7 654 173.3 654.2 174.2 654.5 175.1 655 176.4 655.5 177.2 656 177.7 656.5 177.9 657 178.1 657.5 178.3 658 178.4 658.5 178.5 659 178.6 659.5 178.7 660 178.7 660.5 178.6 661 178.5 661.5 178.4 662 178.1 662.5 177.9 663 177.5 663.5 177.1 664 176.6 664.5 175.6 665 173.7 665.5 170.8 665.7 169.4 666 164.4 666.5 150.7 666.9 145 667 145.5 667.5 157 667.8 164.6 668 168.7 668.5 177.2 668.6 177.6 669 177.4 669.5 177 670 176.5 670.5 175.9 671 175.1 671.5 174.1 672 173.2 672.5 172.4 673 172 673.3 171.9 673.5 171.9 674 172.2 674.5 172.6 675 173.1 675.5 173.7 676 174.2 676.5 174.7 677 175.2 677.5 175.7 678 176.2 678.5 176.8 679 177.5 679.5 178.1 680 178.8 680.5 179.3 681 179.6 681.4 179.7 681.5 179.7 682 179.5 682.5 179.3 683 178.8 683.5 178.3 684 177.7 684.5 177 685 176.3 685.5 175.5 686 174.8 686.5 173.9 687 172.8 687.5 171.5 688 170.1 688.5 168.7 689 167.4 689.5 166.1 690 165 690.5 164.1 691 163.1 691.5 162.2 692 161.3 692.5 160.5 693 159.7 693.5 159 694 158.3 694.5 157.7 695 157.3 695.5 156.9 696 156.5 696.5 156.1 697 155.7 697.5 155.4 698 155.1 698.5 154.9 699 154.7 699.5 154.6 699.7 154.6 700 154.6 700.5 154.7 701 154.8 701.5 154.9 702 155 702.5 155.2 703 155.4 703.5 155.6 704 155.8 704.5 156 705 156.3 705.5 156.6 706 156.9 706.5 157.4 707 157.9 707.5 158.4 708 159 708.5 159.6 709 160.3 709.5 161.2 710 162.3 710.5 163.4 711 164.1 711.2 164.1 711.5 161.9 712 154.5 712.5 147.5 712.8 145.5 713 146.4 713.5 153.5 713.8 157.8 714 160 714.5 165.4 715 169.8 715.5 173.5 716 175.5 716.5 174.1 717 172.7 717.5 173.3 718 174.9 718.2 175.9" stroke="#48e448" stroke-opacity="0.85"/>
<path d="M399 181.4L399.5 181.4 400 181.4 400.5 181.4 401 181.4 401.5 181.4 402 181.4 402.5 181.4 403 181.4 403.5 181.4 404 181.4 404.5 181.4 405 181.4 405.5 181.4 406 181.4 406.5 181.4 407 181.4 407.5 181.4 408 181.4 408.5 181.4 409 181.4 409.5 181.4 410 181.4 410.5 181.4 411 181.4 411.5 181.4 412 181.4 412.5 181.4 413 181.4 413.5 181.4 414 181.4 414.5 181.4 415 181.4 415.5 181.4 416 181.4 416.5 181.4 417 181.4 417.5 181.4 418 181.4 418.5 181.4 419 181.4 419.5 181.4 420 181.4 420.5 181.4 421 181.4 421.5 181.4 422 181.4 422.5 181.4 423 181.4 423.5 181.4 424 181.4 424.5 181.4 425 181.4 425.5 181.4 426 181.4 426.5 181.4 426.8 181.4 427 180.9 427.5 177.5 427.8 176.4 428 177.1 428.5 180.7 428.6 180.9 429 181.2 429.5 181.3 430 181.4 430.5 181.3 431 180.8 431.5 180.2 432 179.4 432.5 178.4 432.7 178 433 177 433.5 174.6 434 171.5 434.5 168.2 435 164.6 435.5 160.8 435.7 159.5 436 157.6 436.5 154.4 437 151.9 437.4 151.1 437.5 151.1 438 151.6 438.5 152.4 439 153.3 439.5 154.2 440 155 440.5 156 441 156.9 441.5 157.6 442 157.9 442.5 157.2 443 155.7 443.5 154 444 152.3 444.5 150.3 445 148.2 445.4 146.5 445.5 146 446 143.7 446.5 141.3 447 138.7 447.5 136.1 448 133.5 448.4 131.5 448.5 131 449 128.6 449.5 126.3 450 123.8 450.5 120.7 450.6 120.1 451 116.7 451.5 111.4 452 105.5 452.5 100 453 94.7 453.5 89.4 454 84.4 454.5 80.1 455 76.1 455.5 72.4 456 69.3 456.5 67.1 457 65.6 457.5 64.3 458 63.6 458.5 63.3 459 63 459.5 62.8 459.9 62.6 460 62.6 460.5 62.8 461 63.2 461.5 63.3 461.6 63.3 462 63.2 462.5 62.8 463 62.4 463.5 62 464 61.6 464.5 61.3 465 61.1 465.5 60.8 466 60.6 466.5 60.5 467 60.6 467.5 60.7 468 61 468.5 61.3 469 61.6 469.5 62 469.8 62.3 470 62.5 470.5 63.1 471 63.9 471.5 64.8 472 65.9 472.5 67.8 473 70.6 473.5 73.9 474 77.3 474.5 81.1 475 85.1 475.3 87 475.5 88 476 90.2 476.5 92.1 477 93.9 477.5 96 477.8 97.4 478 98.4 478.5 101 479 104 479.5 107.1 479.7 108.4 480 110.5 480.5 114.5 481 118.7 481.5 122.9 482 126.9 482.3 129 482.5 130.4 483 133.6 483.5 136.7 484 139.6 484.5 142.5 484.9 144.7 485 145.3 485.5 148.1 485.7 149.2 486 150.9 486.5 153.8 487 156.7 487.5 159.3 488 161.6 488.5 163.5 489 165.4 489.5 167.1 489.7 167.7 490 168.6 490.5 169.7 490.9 170.3 491 170.4 491.5 171 492 171.5 492.5 171.9 493 172.3 493.5 172.6 494 172.8 494.5 173 495 173.2 495.2 173.3 495.5 173.4 496 173.5 496.5 173.6 497 173.7 497.5 173.8 498 173.9 498.5 174 499 174.1 499.5 174.1 500 174.2 500.5 174.3 501 174.3 501.5 174.4 502 174.5 502.5 174.5 503 174.6 503.5 174.7 503.8 174.7 504 174.8 504.5 174.9 505 174.9 505.5 175 506 175.1 506.5 175.2 507 175.3 507.5 175.4 508 175.5 508.5 175.6 509 175.7 509.5 175.8 510 175.9 510.5 176 511 176.1 511.5 176.2 512 176.3 512.5 176.4 513 176.5 513.5 176.6 514 176.7 514.5 176.8 515 176.9 515.5 177 516 177.1 516.5 177.2 517 177.3 517.5 177.4 518 177.5 518.5 177.6 519 177.7 519.5 177.9 520 178 520.5 178.1 521 178.3 521.5 178.4 522 178.5 522.5 178.7 522.7 178.7 523 178.8 523.5 178.9 524 179.1 524.5 179.2 525 179.4 525.5 179.5 526 179.7 526.5 179.9 527 180 527.5 180.2 528 180.3 528.5 180.4 529 180.5 529.5 180.6 530 180.7 530.5 180.7 531 180.7 531.5 180.7 532 180.7 532.5 180.7 533 180.7 533.5 180.7 534 180.7 534.5 180.6 535 180.6 535.5 180.6 536 180.5 536.5 180.5 537 180.4 537.5 180.4 538 180.4 538.5 180.3 539 180.3 539.5 180.3 540 180.2 540.5 180.2 541 180.2 541.5 180.2 542 180.1 542.5 180.1 543 180.1 543.5 180.1 544 180.1 544.5 180.1 545 180 545.5 180 546 180 546.5 180 547 179.9 547.5 179.9 548 179.8 548.5 179.7 549 179.4 549.5 178.9 550 178.3 550.5 177.6 551 176.5 551.5 174.7 552 171.8 552.5 156 552.6 150 552.9 100 553 83.7 553.3 45 553.5 37.2 554 25.5 554.2 24.4 554.5 27 555 41.1 555.1 45 555.5 86.3 555.6 100 555.9 150 556 157.2 556.3 170 556.5 173.9 557 180.5 557.3 181.8 557.5 181.7 558 181.4 558.5 180.7 559 179.9 559.5 178.5 560 176.5 560.4 174.9 560.5 174.6 561 172.6 561.2 172.3 561.5 174.3 562 178.9 562.5 179.5 563 180 563.5 180.4 564 180.6 564.5 180.8 565 180.8 565.5 180.9 566 180.9 566.5 180.9 567 181 567.5 181 568 181 568.5 181.1 569 181.1 569.5 181.1 570 181.1 570.5 181.1 571 181.2 571.5 181.2 572 181.2 572.5 181.2 573 181.2 573.5 181.2 574 181.3 574.5 181.3 575 181.3 575.5 181.3 576 181.3 576.5 181.3 577 181.3 577.5 181.3 578 181.3 578.5 181.3 579 181.3 579.5 181.3 580 181.3 580.5 181.3 581 181.3 581.5 181.3 582 181.3 582.5 181.2 583 181.2 583.5 181.1 584 181.1 584.5 181 585 181 585.5 180.9 586 180.8 586.5 180.8 587 180.7 587.5 180.7 588 180.7 588.5 180.6 589 180.6 589.5 180.6 590 180.6 590.5 180.6 591 180.6 591.5 180.6 592 180.6 592.5 180.6 593 180.6 593.5 180.6 594 180.6 594.5 180.6 595 180.6 595.5 180.7 596 180.7 596.5 180.7 597 180.7 597.5 180.7 598 180.7 598.5 180.7 599 180.7 599.5 180.7 600 180.7 600.5 180.7 601 180.6 601.5 180.6 602 180.5 602.5 180.4 603 180.3 603.5 180.1 604 180 604.5 179.8 605 179.7 605.5 179.5 606 179.4 606.5 179.2 607 179 607.5 178.7 608 178.5 608.5 178.2 609 178 609.5 177.7 610 177.4 610.5 177.1 611 176.9 611.5 176.6 612 176.2 612.5 175.8 613 175.4 613.5 174.9 614 174.3 614.5 173.7 615 173 615.5 172.2 616 171.4 616.5 170.6 617 169.6 617.5 168.6 618 167.5 618.5 166.4 619 165.2 619.5 163.7 620 162.4 620.5 161.6 620.7 161.5 621 161.6 621.5 162.4 622 163.4 622.5 165 623 167.1 623.5 168.8 624 170.2 624.5 171.4 625 172.1 625.5 172.4 626 172.6 626.5 172.8 627 173 627.5 173.2 628 173.3 628.5 173.4 629 173.4 629.5 173.5 630 173.5 630.5 173.4 631 173.1 631.5 172.8 632 172.4 632.5 172.1 633 171.8 633.5 171.7 633.6 171.7 634 171.7 634.5 171.8 635 171.9 635.5 172.1 636 172.4 636.5 172.6 637 173 637.5 173.3 638 173.6 638.5 173.9 639 174.2 639.5 174.5 640 174.8 640.5 175.1 641 175.4 641.5 175.7 642 176 642.5 176.4 643 176.8 643.5 177.1 643.9 177.4 644 177.4 644.5 177.8 645 178.1 645.5 178.4 646 178.6 646.5 178.8 647 178.8 647.5 178.5 648 177.5 648.2 176.8 648.5 170.6 649 148.2 649.2 140 649.5 127.3 650 112.9 650.5 117 651 125 651.5 135.7 651.9 145 652 147 652.5 157.1 653 164.9 653.5 169.9 654 173.5 654.2 174.3 654.5 175.3 655 176.5 655.5 177.4 656 177.9 656.5 178.1 657 178.3 657.5 178.5 658 178.6 658.5 178.8 659 178.8 659.5 178.9 660 178.9 660.5 178.9 661 178.8 661.5 178.6 662 178.4 662.5 178.1 663 177.8 663.5 177.4 664 176.9 664.5 175.9 665 174 665.5 171.2 665.7 169.8 666 164.7 666.5 150.8 666.9 145 667 145.5 667.5 157.2 667.8 164.9 668 169 668.5 177.5 668.6 177.9 669 177.8 669.5 177.4 670 176.9 670.5 176.2 671 175.4 671.5 174.3 672 173.4 672.5 172.6 673 172.1 673.3 172 673.5 172 674 172.3 674.5 172.9 675 173.5 675.5 174.2 676 174.8 676.5 175.3 677 175.9 677.5 176.6 678 177.2 678.5 177.9 679 178.5 679.5 179.1 680 179.6 680.5 180 681 180.2 681.4 180.3 681.5 180.3 682 180.2 682.5 179.9 683 179.5 683.5 179 684 178.5 684.5 177.8 685 177.1 685.5 176.4 686 175.7 686.5 174.8 687 173.7 687.5 172.4 688 171 688.5 169.5 689 168.1 689.5 166.9 690 165.8 690.5 164.8 691 163.8 691.5 162.9 692 162 692.5 161.1 693 160.3 693.5 159.5 694 158.9 694.5 158.3 695 157.8 695.5 157.4 696 157 696.5 156.6 697 156.2 697.5 155.9 698 155.6 698.5 155.4 699 155.2 699.5 155.1 699.7 155.1 700 155.1 700.5 155.2 701 155.3 701.5 155.4 702 155.5 702.5 155.7 703 155.9 703.5 156.1 704 156.3 704.5 156.6 705 156.8 705.5 157.1 706 157.5 706.5 157.9 707 158.4 707.5 159 708 159.6 708.5 160.2 709 160.8 709.5 161.7 710 162.7 710.5 163.7 711 164.3 711.2 164.4 711.5 162.2 712 154.9 712.5 147.6 712.8 145.5 713 146.4 713.5 153.6 713.8 157.9 714 160.2 714.5 165.5 715 169.9 715.5 173.8 716 175.9 716.5 174 717 172.2 717.5 172.8 718 174.7 718.2 176" stroke="#9040a0" stroke-opacity="0.85"/>
<path d="M399 181.5L399.5 181.5 400 181.5 400.5 181.5 401 181.5 401.5 181.5 402 181.5 402.5 181.5 403 181.5 403.5 181.5 404 181.5 404.5 181.5 405 181.5 405.5 181.5 406 181.5 406.5 181.5 407 181.5 407.5 181.5 408 181.5 408.5 181.5 409 181.5 409.5 181.5 410 181.5 410.5 181.5 411 181.5 411.5 181.5 412 181.5 412.5 181.5 413 181.5 413.5 181.5 414 181.5 414.5 181.5 415 181.5 415.5 181.5 416 181.5 416.5 181.5 417 181.5 417.5 181.5 418 181.5 418.5 181.5 419 181.5 419.5 181.5 420 181.5 420.5 181.5 421 181.5 421.5 181.5 422 181.5 422.5 181.5 423 181.5 423.5 181.5 424 181.5 424.5 181.5 425 181.5 425.5 181.5 426 181.5 426.5 181.5 426.8 181.5 427 181 427.5 177.6 427.8 176.5 428 177.2 428.5 180.8 428.6 181 429 181.2 429.5 181.4 430 181.5 430.5 181.3 431 180.9 431.5 180.3 432 179.4 432.5 178.4 432.7 178 433 177.1 433.5 174.6 434 171.3 434.5 168 435 164.3 435.5 160.3 435.7 159 436 157 436.5 153.7 437 151.2 437.4 150.4 437.5 150.4 438 150.8 438.5 151.6 439 152.6 439.5 153.5 440 154.4 440.5 155.4 441 156.3 441.5 157 442 157.3 442.5 156.7 443 155.2 443.5 153.5 444 151.8 444.5 149.9 445 147.7 445.4 146 445.5 145.6 446 143.2 446.5 140.8 447 138.2 447.5 135.6 448 133 448.4 131 448.5 130.5 449 128.2 449.5 126 450 123.6 450.5 120.7 450.6 120 451 116.7 451.5 111.4 452 105.5 452.5 100 453 94.7 453.5 89.4 454 84.4 454.5 80 455 76 455.5 72.3 456 69.2 456.5 67 457 65.5 457.5 64.4 458 63.8 458.5 63.6 459 63.4 459.5 63.3 459.9 63.3 460 63.3 460.5 63.6 461 64.1 461.5 64.4 461.6 64.4 462 64.3 462.5 64 463 63.7 463.5 63.3 464 63 464.5 62.8 465 62.6 465.5 62.4 466 62.3 466.5 62.2 467 62.3 467.5 62.5 468 62.8 468.5 63.1 469 63.5 469.5 63.9 469.8 64.2 470 64.4 470.5 65.1 471 65.9 471.5 66.9 472 68 472.5 69.9 473 72.9 473.5 76.4 474 80 474.5 83.9 475 88 475.3 90 475.5 91 476 93.2 476.5 95.1 477 96.8 477.5 98.7 477.8 100 478 100.9 478.5 103.3 479 105.9 479.5 108.8 479.7 110 480 112 480.5 115.7 481 119.8 481.5 124 482 127.9 482.3 130 482.5 131.3 483 134.5 483.5 137.5 484 140.5 484.5 143.3 484.9 145.5 485 146.1 485.5 148.9 485.7 150 486 151.7 486.5 154.7 487 157.6 487.5 160.3 488 162.5 488.5 164.4 489 166.3 489.5 168 489.7 168.6 490 169.5 490.5 170.6 490.9 171.2 491 171.3 491.5 171.8 492 172.2 492.5 172.6 493 172.9 493.5 173.2 494 173.5 494.5 173.6 495 173.8 495.2 173.9 495.5 173.9 496 174 496.5 174.2 497 174.3 497.5 174.3 498 174.4 498.5 174.5 499 174.6 499.5 174.6 500 174.7 500.5 174.8 501 174.8 501.5 174.9 502 174.9 502.5 175 503 175.1 503.5 175.2 503.8 175.2 504 175.2 504.5 175.3 505 175.4 505.5 175.5 506 175.6 506.5 175.7 507 175.8 507.5 175.8 508 175.9 508.5 176 509 176.1 509.5 176.2 510 176.3 510.5 176.4 511 176.5 511.5 176.6 512 176.7 512.5 176.7 513 176.8 513.5 176.9 514 177 514.5 177.1 515 177.2 515.5 177.3 516 177.4 516.5 177.5 517 177.6 517.5 177.7 518 177.8 518.5 177.9 519 178 519.5 178.2 520 178.3 520.5 178.4 521 178.6 521.5 178.7 522 178.8 522.5 178.9 522.7 179 523 179.1 523.5 179.2 524 179.4 524.5 179.5 525 179.7 525.5 179.8 526 180 526.5 180.2 527 180.3 527.5 180.4 528 180.6 528.5 180.7 529 180.8 529.5 180.9 530 180.9 530.5 181 531 181 531.5 181 532 181 532.5 181 533 180.9 533.5 180.9 534 180.9 534.5 180.8 535 180.8 535.5 180.8 536 180.7 536.5 180.7 537 180.6 537.5 180.6 538 180.5 538.5 180.5 539 180.5 539.5 180.4 540 180.4 540.5 180.4 541 180.4 541.5 180.3 542 180.3 542.5 180.3 543 180.3 543.5 180.3 544 180.3 544.5 180.2 545 180.2 545.5 180.2 546 180.2 546.5 180.1 547 180.1 547.5 180.1 548 180 548.5 179.8 549 179.5 549.5 179.1 550 178.5 550.5 177.8 551 176.7 551.5 174.9 552 172 552.5 156 552.6 150 552.9 100 553 83.7 553.3 45 553.5 37.1 554 25.4 554.2 24.3 554.5 27 555 41.1 555.1 45 555.5 86.3 555.6 100 555.9 150 556 157.2 556.3 170 556.5 173.9 557 180.7 557.3 181.9 557.5 181.9 558 181.5 558.5 180.8 559 180 559.5 178.6 560 176.5 560.4 175 560.5 174.6 561 172.7 561.2 172.4 561.5 174.4 562 179 562.5 179.7 563 180.2 563.5 180.5 564 180.8 564.5 180.9 565 181 565.5 181 566 181.1 566.5 181.1 567 181.1 567.5 181.2 568 181.2 568.5 181.2 569 181.3 569.5 181.3 570 181.3 570.5 181.3 571 181.3 571.5 181.4 572 181.4 572.5 181.4 573 181.4 573.5 181.4 574 181.4 574.5 181.4 575 181.5 575.5 181.5 576 181.5 576.5 181.5 577 181.5 577.5 181.5 578 181.5 578.5 181.5 579 181.5 579.5 181.5 580 181.5 580.5 181.5 581 181.5 581.5 181.5 582 181.4 582.5 181.4 583 181.3 583.5 181.3 584 181.2 584.5 181.2 585 181.1 585.5 181 586 181 586.5 180.9 587 180.9 587.5 180.8 588 180.8 588.5 180.7 589 180.7 589.5 180.7 590 180.7 590.5 180.7 591 180.7 591.5 180.7 592 180.7 592.5 180.7 593 180.7 593.5 180.7 594 180.7 594.5 180.7 595 180.8 595.5 180.8 596 180.8 596.5 180.8 597 180.8 597.5 180.8 598 180.8 598.5 180.8 599 180.8 599.5 180.8 600 180.8 600.5 180.8 601 180.7 601.5 180.7 602 180.6 602.5 180.5 603 180.4 603.5 180.2 604 180.1 604.5 179.9 605 179.8 605.5 179.6 606 179.5 606.5 179.3 607 179.1 607.5 178.8 608 178.6 608.5 178.3 609 178 609.5 177.8 610 177.5 610.5 177.2 611 176.9 611.5 176.6 612 176.3 612.5 175.9 613 175.5 613.5 175 614 174.4 614.5 173.8 615 173.1 615.5 172.3 616 171.5 616.5 170.6 617 169.7 617.5 168.6 618 167.6 618.5 166.5 619 165.2 619.5 163.7 620 162.4 620.5 161.6 620.7 161.5 621 161.7 621.5 162.4 622 163.5 622.5 165.1 623 167.2 623.5 169 624 170.4 624.5 171.6 625 172.3 625.5 172.6 626 172.8 626.5 173.1 627 173.3 627.5 173.4 628 173.6 628.5 173.7 629 173.7 629.5 173.8 630 173.8 630.5 173.7 631 173.4 631.5 173.1 632 172.7 632.5 172.3 633 172 633.5 171.9 633.6 171.9 634 171.9 634.5 172 635 172.2 635.5 172.3 636 172.6 636.5 172.9 637 173.2 637.5 173.5 638 173.8 638.5 174.1 639 174.4 639.5 174.7 640 175 640.5 175.3 641 175.6 641.5 176 642 176.3 642.5 176.7 643 177.1 643.5 177.5 643.9 177.7 644 177.8 644.5 178.1 645 178.4 645.5 178.7 646 178.8 646.5 179 647 179 647.5 178.6 648 177.6 648.2 177 648.5 170.8 649 148.3 649.2 140 649.5 127.3 650 112.9 650.5 117 651 125 651.5 135.7 651.9 145 652 147 652.5 157.2 653 165 653.5 170 654 173.5 654.2 174.4 654.5 175.3 655 176.6 655.5 177.5 656 178 656.5 178.2 657 178.4 657.5 178.6 658 178.7 658.5 178.9 659 178.9 659.5 179 660 179 660.5 179 661 178.9 661.5 178.7 662 178.5 662.5 178.2 663 177.9 663.5 177.5 664 177 664.5 176 665 174.1 665.5 171.4 665.7 170 666 164.9 666.5 150.8 666.9 145 667 145.5 667.5 157.3 667.8 165 668 169.1 668.5 177.6 668.6 178 669 177.9 669.5 177.5 670 177 670.5 176.4 671 175.5 671.5 174.4 672 173.4 672.5 172.6 673 172.1 673.3 172 673.5 172 674 172.4 674.5 172.9 675 173.6 675.5 174.4 676 175 676.5 175.6 677 176.2 677.5 176.9 678 177.6 678.5 178.2 679 178.8 679.5 179.4 680 179.9 680.5 180.2 681 180.4 681.4 180.5 681.5 180.5 682 180.4 682.5 180.1 683 179.8 683.5 179.3 684 178.7 684.5 178.1 685 177.4 685.5 176.7 686 176 686.5 175.1 687 174 687.5 172.7 688 171.3 688.5 169.8 689 168.4 689.5 167.1 690 166 690.5 165 691 164 691.5 163.1 692 162.2 692.5 161.3 693 160.5 693.5 159.7 694 159.1 694.5 158.5 695 158 695.5 157.6 696 157.2 696.5 156.8 697 156.4 697.5 156.1 698 155.8 698.5 155.5 699 155.4 699.5 155.3 699.7 155.3 700 155.3 700.5 155.4 701 155.4 701.5 155.6 702 155.7 702.5 155.9 703 156.1 703.5 156.3 704 156.5 704.5 156.8 705 157 705.5 157.3 706 157.7 706.5 158.1 707 158.6 707.5 159.2 708 159.8 708.5 160.4 709 161 709.5 161.8 710 162.9 710.5 163.9 711 164.4 711.2 164.5 711.5 162.3 712 155 712.5 147.7 712.8 145.5 713 146.4 713.5 153.7 713.8 158 714 160.2 714.5 165.6 715 170 715.5 173.9 716 176 716.5 174 717 172 717.5 172.6 718 174.7 718.2 176" stroke="#ff3a48" stroke-opacity="0.85"/>
</g></g>
<line x1="398.6" y1="23.7" x2="718.2" y2="23.7" stroke="#666" stroke-width="1"/>
<line x1="718.2" y1="23.7" x2="718.2" y2="183.7" stroke="#888" stroke-width="1"/>
<line x1="398.6" y1="23.2" x2="398.6" y2="184.2" stroke="#666" stroke-width="1.5"/>
<line x1="398" y1="183.7" x2="718.7" y2="183.7" stroke="#111" stroke-width="2"/>
<line x1="396.6" y1="181.8" x2="398.6" y2="181.8" stroke="#555" stroke-width="0.8"/>
<line x1="396.6" y1="163.7" x2="398.6" y2="163.7" stroke="#555" stroke-width="0.8"/>
<line x1="396.6" y1="145.6" x2="398.6" y2="145.6" stroke="#555" stroke-width="0.8"/>
<line x1="396.6" y1="127.5" x2="398.6" y2="127.5" stroke="#555" stroke-width="0.8"/>
<line x1="396.6" y1="109.4" x2="398.6" y2="109.4" stroke="#555" stroke-width="0.8"/>
<line x1="396.6" y1="91.4" x2="398.6" y2="91.4" stroke="#555" stroke-width="0.8"/>
<line x1="396.6" y1="73.3" x2="398.6" y2="73.3" stroke="#555" stroke-width="0.8"/>
<line x1="396.6" y1="55.2" x2="398.6" y2="55.2" stroke="#555" stroke-width="0.8"/>
<line x1="396.6" y1="37.1" x2="398.6" y2="37.1" stroke="#555" stroke-width="0.8"/>
<line x1="408" y1="183.7" x2="408" y2="185.7" stroke="#333" stroke-width="0.8"/>
<line x1="417.4" y1="183.7" x2="417.4" y2="185.7" stroke="#333" stroke-width="0.8"/>
<line x1="426.8" y1="183.7" x2="426.8" y2="185.7" stroke="#333" stroke-width="0.8"/>
<line x1="436.2" y1="183.7" x2="436.2" y2="185.7" stroke="#333" stroke-width="0.8"/>
<line x1="445.6" y1="183.7" x2="445.6" y2="187.2" stroke="#333" stroke-width="0.8"/>
<line x1="455" y1="183.7" x2="455" y2="185.7" stroke="#333" stroke-width="0.8"/>
<line x1="464.4" y1="183.7" x2="464.4" y2="185.7" stroke="#333" stroke-width="0.8"/>
<line x1="473.8" y1="183.7" x2="473.8" y2="185.7" stroke="#333" stroke-width="0.8"/>
<line x1="483.2" y1="183.7" x2="483.2" y2="185.7" stroke="#333" stroke-width="0.8"/>
<line x1="492.7" y1="183.7" x2="492.7" y2="187.2" stroke="#333" stroke-width="0.8"/>
<line x1="502.1" y1="183.7" x2="502.1" y2="185.7" stroke="#333" stroke-width="0.8"/>
<line x1="511.5" y1="183.7" x2="511.5" y2="185.7" stroke="#333" stroke-width="0.8"/>
<line x1="520.9" y1="183.7" x2="520.9" y2="185.7" stroke="#333" stroke-width="0.8"/>
<line x1="530.3" y1="183.7" x2="530.3" y2="185.7" stroke="#333" stroke-width="0.8"/>
<line x1="539.7" y1="183.7" x2="539.7" y2="187.2" stroke="#333" stroke-width="0.8"/>
<line x1="549.1" y1="183.7" x2="549.1" y2="185.7" stroke="#333" stroke-width="0.8"/>
<line x1="558.5" y1="183.7" x2="558.5" y2="185.7" stroke="#333" stroke-width="0.8"/>
<line x1="567.9" y1="183.7" x2="567.9" y2="185.7" stroke="#333" stroke-width="0.8"/>
<line x1="577.3" y1="183.7" x2="577.3" y2="185.7" stroke="#333" stroke-width="0.8"/>
<line x1="586.8" y1="183.7" x2="586.8" y2="187.2" stroke="#333" stroke-width="0.8"/>
<line x1="596.2" y1="183.7" x2="596.2" y2="185.7" stroke="#333" stroke-width="0.8"/>
<line x1="605.6" y1="183.7" x2="605.6" y2="185.7" stroke="#333" stroke-width="0.8"/>
<line x1="615" y1="183.7" x2="615" y2="185.7" stroke="#333" stroke-width="0.8"/>
<line x1="624.4" y1="183.7" x2="624.4" y2="185.7" stroke="#333" stroke-width="0.8"/>
<line x1="633.8" y1="183.7" x2="633.8" y2="187.2" stroke="#333" stroke-width="0.8"/>
<line x1="643.2" y1="183.7" x2="643.2" y2="185.7" stroke="#333" stroke-width="0.8"/>
<line x1="652.6" y1="183.7" x2="652.6" y2="185.7" stroke="#333" stroke-width="0.8"/>
<line x1="662" y1="183.7" x2="662" y2="185.7" stroke="#333" stroke-width="0.8"/>
<line x1="671.4" y1="183.7" x2="671.4" y2="185.7" stroke="#333" stroke-width="0.8"/>
<line x1="680.9" y1="183.7" x2="680.9" y2="187.2" stroke="#333" stroke-width="0.8"/>
<line x1="690.3" y1="183.7" x2="690.3" y2="185.7" stroke="#333" stroke-width="0.8"/>
<line x1="699.7" y1="183.7" x2="699.7" y2="185.7" stroke="#333" stroke-width="0.8"/>
<line x1="709.1" y1="183.7" x2="709.1" y2="185.7" stroke="#333" stroke-width="0.8"/>
<line x1="461.3" y1="23.7" x2="461.3" y2="25.9" stroke="#666" stroke-width="0.8"/>
<line x1="506.1" y1="23.7" x2="506.1" y2="25.1" stroke="#666" stroke-width="0.8"/>
<line x1="539.7" y1="23.7" x2="539.7" y2="25.9" stroke="#666" stroke-width="0.8"/>
<line x1="565.8" y1="23.7" x2="565.8" y2="25.1" stroke="#666" stroke-width="0.8"/>
<line x1="586.8" y1="23.7" x2="586.8" y2="25.9" stroke="#666" stroke-width="0.8"/>
<line x1="603.9" y1="23.7" x2="603.9" y2="25.1" stroke="#666" stroke-width="0.8"/>
<line x1="618.1" y1="23.7" x2="618.1" y2="25.9" stroke="#666" stroke-width="0.8"/>
<line x1="630.2" y1="23.7" x2="630.2" y2="25.1" stroke="#666" stroke-width="0.8"/>
<line x1="640.5" y1="23.7" x2="640.5" y2="25.9" stroke="#666" stroke-width="0.8"/>
<line x1="649.5" y1="23.7" x2="649.5" y2="25.1" stroke="#666" stroke-width="0.8"/>
<line x1="657.3" y1="23.7" x2="657.3" y2="25.9" stroke="#666" stroke-width="0.8"/>
<line x1="664.2" y1="23.7" x2="664.2" y2="25.1" stroke="#666" stroke-width="0.8"/>
<line x1="670.4" y1="23.7" x2="670.4" y2="25.9" stroke="#666" stroke-width="0.8"/>
<line x1="675.9" y1="23.7" x2="675.9" y2="25.1" stroke="#666" stroke-width="0.8"/>
<line x1="680.9" y1="23.7" x2="680.9" y2="25.9" stroke="#666" stroke-width="0.8"/>
<line x1="685.3" y1="23.7" x2="685.3" y2="25.1" stroke="#666" stroke-width="0.8"/>
<line x1="689.4" y1="23.7" x2="689.4" y2="25.9" stroke="#666" stroke-width="0.8"/>
<line x1="693.1" y1="23.7" x2="693.1" y2="25.1" stroke="#666" stroke-width="0.8"/>
<line x1="696.5" y1="23.7" x2="696.5" y2="25.9" stroke="#666" stroke-width="0.8"/>
<line x1="699.7" y1="23.7" x2="699.7" y2="25.1" stroke="#666" stroke-width="0.8"/>
<line x1="702.6" y1="23.7" x2="702.6" y2="25.9" stroke="#666" stroke-width="0.8"/>
<line x1="705.2" y1="23.7" x2="705.2" y2="25.1" stroke="#666" stroke-width="0.8"/>
<line x1="707.7" y1="23.7" x2="707.7" y2="25.9" stroke="#666" stroke-width="0.8"/>
<line x1="710.1" y1="23.7" x2="710.1" y2="25.1" stroke="#666" stroke-width="0.8"/>
<line x1="712.2" y1="23.7" x2="712.2" y2="25.9" stroke="#666" stroke-width="0.8"/>
<text x="397.2" y="184.1" font-family='"Liberation Sans", sans-serif' font-size="6.3" text-anchor="end" fill="#3a3a3a" stroke="#3a3a3a" stroke-width="0.22" textLength="7.4" lengthAdjust="spacingAndGlyphs">0.0</text>
<text x="397.2" y="166" font-family='"Liberation Sans", sans-serif' font-size="6.3" text-anchor="end" fill="#3a3a3a" stroke="#3a3a3a" stroke-width="0.22" textLength="7.4" lengthAdjust="spacingAndGlyphs">0.1</text>
<text x="397.2" y="147.9" font-family='"Liberation Sans", sans-serif' font-size="6.3" text-anchor="end" fill="#3a3a3a" stroke="#3a3a3a" stroke-width="0.22" textLength="7.4" lengthAdjust="spacingAndGlyphs">0.2</text>
<text x="397.2" y="129.8" font-family='"Liberation Sans", sans-serif' font-size="6.3" text-anchor="end" fill="#3a3a3a" stroke="#3a3a3a" stroke-width="0.22" textLength="7.4" lengthAdjust="spacingAndGlyphs">0.3</text>
<text x="397.2" y="111.7" font-family='"Liberation Sans", sans-serif' font-size="6.3" text-anchor="end" fill="#3a3a3a" stroke="#3a3a3a" stroke-width="0.22" textLength="7.4" lengthAdjust="spacingAndGlyphs">0.4</text>
<text x="397.2" y="93.6" font-family='"Liberation Sans", sans-serif' font-size="6.3" text-anchor="end" fill="#3a3a3a" stroke="#3a3a3a" stroke-width="0.22" textLength="7.4" lengthAdjust="spacingAndGlyphs">0.5</text>
<text x="397.2" y="75.5" font-family='"Liberation Sans", sans-serif' font-size="6.3" text-anchor="end" fill="#3a3a3a" stroke="#3a3a3a" stroke-width="0.22" textLength="7.4" lengthAdjust="spacingAndGlyphs">0.6</text>
<text x="397.2" y="57.4" font-family='"Liberation Sans", sans-serif' font-size="6.3" text-anchor="end" fill="#3a3a3a" stroke="#3a3a3a" stroke-width="0.22" textLength="7.4" lengthAdjust="spacingAndGlyphs">0.7</text>
<text x="397.2" y="39.3" font-family='"Liberation Sans", sans-serif' font-size="6.3" text-anchor="end" fill="#3a3a3a" stroke="#3a3a3a" stroke-width="0.22" textLength="7.4" lengthAdjust="spacingAndGlyphs">0.8</text>
<text x="445.6" y="197.7" font-family='"Liberation Sans", sans-serif' font-size="6.6" text-anchor="middle" fill="#333" stroke="#333" stroke-width="0.22" textLength="13.5" lengthAdjust="spacingAndGlyphs">3500</text>
<text x="492.7" y="197.7" font-family='"Liberation Sans", sans-serif' font-size="6.6" text-anchor="middle" fill="#333" stroke="#333" stroke-width="0.22" textLength="13.5" lengthAdjust="spacingAndGlyphs">3000</text>
<text x="539.7" y="197.7" font-family='"Liberation Sans", sans-serif' font-size="6.6" text-anchor="middle" fill="#333" stroke="#333" stroke-width="0.22" textLength="13.5" lengthAdjust="spacingAndGlyphs">2500</text>
<text x="586.8" y="197.7" font-family='"Liberation Sans", sans-serif' font-size="6.6" text-anchor="middle" fill="#333" stroke="#333" stroke-width="0.22" textLength="13.5" lengthAdjust="spacingAndGlyphs">2000</text>
<text x="633.8" y="197.7" font-family='"Liberation Sans", sans-serif' font-size="6.6" text-anchor="middle" fill="#333" stroke="#333" stroke-width="0.22" textLength="13.5" lengthAdjust="spacingAndGlyphs">1500</text>
<text x="680.9" y="197.7" font-family='"Liberation Sans", sans-serif' font-size="6.6" text-anchor="middle" fill="#333" stroke="#333" stroke-width="0.22" textLength="13.5" lengthAdjust="spacingAndGlyphs">1000</text>
<text x="461.3" y="20.3" font-family='"Liberation Sans", sans-serif' font-size="6.6" text-anchor="middle" fill="#333" stroke="#333" stroke-width="0.22" textLength="3.6" lengthAdjust="spacingAndGlyphs">3</text>
<text x="539.7" y="20.3" font-family='"Liberation Sans", sans-serif' font-size="6.6" text-anchor="middle" fill="#333" stroke="#333" stroke-width="0.22" textLength="3.6" lengthAdjust="spacingAndGlyphs">4</text>
<text x="586.8" y="20.3" font-family='"Liberation Sans", sans-serif' font-size="6.6" text-anchor="middle" fill="#333" stroke="#333" stroke-width="0.22" textLength="3.6" lengthAdjust="spacingAndGlyphs">5</text>
<text x="618.1" y="20.3" font-family='"Liberation Sans", sans-serif' font-size="6.6" text-anchor="middle" fill="#333" stroke="#333" stroke-width="0.22" textLength="3.6" lengthAdjust="spacingAndGlyphs">6</text>
<text x="640.5" y="20.3" font-family='"Liberation Sans", sans-serif' font-size="6.6" text-anchor="middle" fill="#333" stroke="#333" stroke-width="0.22" textLength="3.6" lengthAdjust="spacingAndGlyphs">7</text>
<text x="657.3" y="20.3" font-family='"Liberation Sans", sans-serif' font-size="6.6" text-anchor="middle" fill="#333" stroke="#333" stroke-width="0.22" textLength="3.6" lengthAdjust="spacingAndGlyphs">8</text>
<text x="670.4" y="20.3" font-family='"Liberation Sans", sans-serif' font-size="6.6" text-anchor="middle" fill="#333" stroke="#333" stroke-width="0.22" textLength="3.6" lengthAdjust="spacingAndGlyphs">9</text>
<text x="689.4" y="20.3" font-family='"Liberation Sans", sans-serif' font-size="6.6" text-anchor="middle" fill="#333" stroke="#333" stroke-width="0.22" textLength="7.2" lengthAdjust="spacingAndGlyphs">11</text>
<text x="702.6" y="20.3" font-family='"Liberation Sans", sans-serif' font-size="6.6" text-anchor="middle" fill="#333" stroke="#333" stroke-width="0.22" textLength="7.2" lengthAdjust="spacingAndGlyphs">13</text>
<text x="712.2" y="20.3" font-family='"Liberation Sans", sans-serif' font-size="6.6" text-anchor="middle" fill="#333" stroke="#333" stroke-width="0.22" textLength="7.2" lengthAdjust="spacingAndGlyphs">15</text>
<text x="529" y="8.3" font-family='"Liberation Sans", sans-serif' font-size="8.6" text-anchor="start" fill="#2a2a2a" stroke="#2a2a2a" stroke-width="0.22" textLength="59.1" lengthAdjust="spacingAndGlyphs">Wavelength (µm)</text>
<text x="529.7" y="210.5" font-family='"Liberation Sans", sans-serif' font-size="8.6" text-anchor="start" fill="#2a2a2a" stroke="#2a2a2a" stroke-width="0.22" textLength="66.8" lengthAdjust="spacingAndGlyphs">Wavenumber (cm<tspan dy="-3.6" font-size="4.6"> -1</tspan><tspan dy="3.6"> )</tspan></text>
<text transform="translate(380.1 100.1) rotate(-90)" x="0" y="0" font-family='"Liberation Sans", sans-serif' font-size="8.8" text-anchor="middle" dominant-baseline="central" fill="#2a2a2a" stroke="#2a2a2a" stroke-width="0.22" textLength="53.8" lengthAdjust="spacingAndGlyphs">Absorbance</text>
<text x="403.2" y="43.1" font-family='"Liberation Serif", serif' font-size="16.5" text-anchor="start" fill="#1a1a1a" stroke="#1a1a1a" stroke-width="0.28" textLength="29.4" lengthAdjust="spacingAndGlyphs">E90K</text>
<text x="403.5" y="56.2" font-family='"Liberation Serif", serif' font-size="15" text-anchor="start" fill="#1a1a1a" stroke="#1a1a1a" stroke-width="0.28" textLength="10.2" lengthAdjust="spacingAndGlyphs">a)</text>
<text x="441.3" y="31.5" font-family='"Liberation Serif", serif' font-size="8" text-anchor="start" fill="#222" stroke="#222" stroke-width="0.28" textLength="12.4" lengthAdjust="spacingAndGlyphs">NH₃</text>
<text x="441.5" y="39.4" font-family='"Liberation Serif", serif' font-size="6" text-anchor="start" fill="#222" stroke="#222" stroke-width="0.28" textLength="11" lengthAdjust="spacingAndGlyphs">3364</text>
<line x1="451.7" y1="44.7" x2="455.8" y2="56.5" stroke="#222" stroke-width="0.9"/>
<path d="M454 56.5 L456.6 59.8 L457.3 55.6 Z" fill="#222"/>
<line x1="456.1" y1="26.8" x2="489.5" y2="26.8" stroke="#222" stroke-width="1.4"/>
<text x="476.7" y="37.5" font-family='"Liberation Serif", serif' font-size="8.5" text-anchor="start" fill="#222" stroke="#222" stroke-width="0.28" textLength="12.8" lengthAdjust="spacingAndGlyphs">H₂O</text>
<text x="557.7" y="39" font-family='"Liberation Serif", serif' font-size="8" text-anchor="start" fill="#222" stroke="#222" stroke-width="0.28" textLength="12.3" lengthAdjust="spacingAndGlyphs">CO₂</text>
<text x="425.2" y="145.9" font-family='"Liberation Serif", serif' font-size="8.5" text-anchor="start" fill="#222" stroke="#222" stroke-width="0.28" textLength="19" lengthAdjust="spacingAndGlyphs">OH db</text>
<text x="493" y="144.8" font-family='"Liberation Serif", serif' font-size="8.5" text-anchor="start" fill="#222" stroke="#222" stroke-width="0.28" textLength="12.5" lengthAdjust="spacingAndGlyphs">90K</text>
<text x="474.9" y="166.2" font-family='"Liberation Serif", serif' font-size="8.5" text-anchor="start" fill="#222" stroke="#222" stroke-width="0.28" textLength="12.3" lengthAdjust="spacingAndGlyphs">13K</text>
<text x="640.8" y="103.3" font-family='"Liberation Serif", serif' font-size="9" text-anchor="start" fill="#222" stroke="#222" stroke-width="0.28" textLength="25.2" lengthAdjust="spacingAndGlyphs">SO₂ (<tspan font-style="italic">v</tspan>3)</text>
<text x="662.3" y="135" font-family='"Liberation Serif", serif' font-size="9" text-anchor="start" fill="#222" stroke="#222" stroke-width="0.28" textLength="25.9" lengthAdjust="spacingAndGlyphs">SO₂ (<tspan font-style="italic">v</tspan>1)</text>
<text x="702" y="141.1" font-family='"Liberation Serif", serif' font-size="9" text-anchor="start" fill="#222" stroke="#222" stroke-width="0.28" textLength="12.6" lengthAdjust="spacingAndGlyphs">CO₂</text>
<line x1="723.6" y1="110" x2="723.6" y2="184" stroke="#333" stroke-width="1.5"/>
<path d="M722.6 104.6 L726.4 111 L721.9 111 Z" fill="#111"/>
<text transform="translate(730.4 155.9) rotate(-90)" x="0" y="0" font-family='"Liberation Serif", serif' font-size="9.5" text-anchor="middle" dominant-baseline="central" fill="#111" stroke="#111" stroke-width="0.28" textLength="56.2" lengthAdjust="spacingAndGlyphs">Temperature</text>
<clipPath id="cC"><rect x="25.3" y="245.5" width="318.2" height="159.6"/></clipPath>
<g clip-path="url(#cC)"><g filter="url(#soft)" fill="none" stroke-linejoin="round" stroke-width="0.75">
<path d="M25 391.8L25.5 391.7 26 391.7 26.5 391.6 27 391.5 27.5 391.4 28 391.4 28.5 391.5 29 391.4 29.5 391 30 390.9 30.5 391.2 31 390.8 31.5 390.9 32 390.4 32.5 390.8 33 390.6 33.5 390.4 34 390 34.5 390 35 389.9 35.5 389.8 36 389.5 36.5 389.3 37 389.1 37.5 388.8 38 388.2 38.5 388.1 39 387.8 39.5 387.6 40 387.2 40.5 387.3 41 386.9 41.5 385.1 42 384.6 42.5 385.8 43 385.3 43.5 384.8 44 384 44.5 383.7 45 382.4 45.5 382.7 46 381.3 46.5 381.3 47 380.6 47.5 380.3 48 379.4 48.5 379.4 49 378.1 49.5 378.1 50 377 50.5 376.2 51 375.1 51.5 375.2 52 373.5 52.5 372.8 53 372.8 53.5 371.9 54 370.8 54.5 370.5 55 369.4 55.5 368.6 56 368 56.5 367 57 366.4 57.5 365.1 58 363.6 58.5 363.6 59 362.8 59.5 362.3 60 361 60.5 359.9 61 359.2 61.5 358.1 62 357.3 62.5 356.5 63 355.5 63.5 354.5 64 350.4 64.5 352.4 65 351.2 65.5 348.4 66 349 66.5 346.8 67 348.3 67.5 347.6 68 347.5 68.5 347.7 69 347.8 69.5 348.3 70 346.8 70.5 349.6 71 350.3 71.5 350.8 72 351.3 72.5 352.3 73 353.1 73.5 354 74 354.7 74.5 355.7 75 356.5 75.5 357.5 76 357.1 76.5 359.3 77 359.9 77.5 361 78 362.5 78.5 362.8 79 364.1 79.5 365.7 80 366.4 80.5 367 80.6 366.9 81 367.3 81.5 367.5 82 367.7 82.5 368.5 83 367.8 83.5 368.5 84 368.8 84.5 369.4 85 369.4 85.5 369.3 86 369.5 86.5 369.9 87 370.1 87.5 369.7 88 370.4 88.5 370.4 89 370.5 89.5 370.4 90 371.2 90.5 371.6 91 371.5 91.5 371.8 92 371.8 92.5 372.2 93 372.3 93.5 372.3 94 372.8 94.5 373.2 95 373 95.5 373.5 96 373.9 96.5 373.7 97 374.2 97.5 373.7 98 374.9 98.5 374.6 99 375.3 99.5 375.4 100 375.7 100.5 375.4 101 375.9 101.5 376.2 102 375.9 102.5 376.1 103 376.4 103.5 376.4 104 377.1 104.5 376.7 105 377.2 105.5 377.1 106 377.2 106.5 377.6 107 377.9 107.5 378.4 108 378.4 108.4 378.1 108.5 378 109 378.9 109.5 378.2 110 378.5 110.5 379.1 111 379.1 111.5 379.1 112 379.3 112.5 379.5 113 379.6 113.5 379.6 114 379.8 114.5 379.9 115 380.3 115.5 380.3 116 380.6 116.5 380.5 117 380.7 117.5 380.6 118 381.3 118.5 380.7 119 381.3 119.5 381.2 120 381.6 120.5 381.8 121 381.4 121.5 381.9 122 381.7 122.5 382.2 123 382.2 123.5 382.1 124 382.4 124.5 382.9 125 383.1 125.5 383.1 126 382.3 126.5 383.1 127 383.6 127.5 383.3 128 383.5 128.5 383.5 129 383.6 129.5 384.1 130 384.3 130.5 384.5 131 384.7 131.1 384.8 131.5 385 132 385 132.5 385.1 133 385.2 133.5 385.9 134 385.9 134.5 386 135 386.5 135.5 386.6 136 387.4 136.5 387.8 137 387.9 137.5 388.3 138 388.9 138.5 389.3 139 390.2 139.5 389.7 140 391.3 140.5 391.5 141 392 141.5 392.9 142 392.9 142.5 393.7 143 394.1 143.5 394.4 144 394.8 144.5 395.5 145 395.8 145.5 396.7 146 397.4 146.2 397.5 146.5 395.2 147 385 147.5 356.2 148 307.7 148.5 259.8 148.8 240 149 230.3 149.5 206.4 150 184.5 150.5 166.6 151 154.5 151.5 150 152 154.8 152.5 167.6 153 185.8 153.5 206.8 154 228.1 154.3 240 154.5 248.1 155 271 155.5 292 156 308.1 156.5 322 157 334.6 157.5 345.9 157.6 348 158 356.5 158.5 365 159 370.6 159.5 375 160 378 160.5 379.9 161 381.5 161.5 382.6 162 383.5 162.5 384.1 163 384.7 163.5 385.2 164 385.5 164.5 385.9 165 386.2 165.5 386.5 166 386.7 166.5 387 167 387.2 167.5 387.4 168 387.6 168.5 387.8 169 387.9 169.5 388.1 170 388.3 170.5 388.5 171 388.7 171.5 388.8 172 389 172.5 389.2 173 389.3 173.5 389.5 174 389.6 174.5 389.8 175 389.9 175.5 390.1 176 390.2 176.5 390.4 177 390.5 177.5 390.7 178 390.9 178.5 391 179 391.2 179.5 391.4 180 391.5 180.5 391.7 181 391.9 181.3 392 181.5 392.1 182 392.3 182.5 392.5 183 392.7 183.5 393 184 393.2 184.5 393.5 185 393.7 185.5 394 186 394.2 186.5 394.4 187 394.6 187.5 394.8 188 395 188.5 395.2 189 395.3 189.5 395.5 190 395.7 190.5 395.9 191 396 191.5 396.2 192 396.4 192.5 396.5 193 396.6 193.5 396.7 194 396.8 194.5 396.9 195 397 195.5 397 195.8 397 196 396.9 196.5 395.5 196.8 394 197 389.8 197.5 364.9 197.6 360 198 338.2 198.5 315 199 302.8 199.3 300 199.5 302.5 200 320 200.5 345.6 200.8 360 201 367.3 201.5 380 202 383.5 202.2 384 202.5 384.3 203 384.7 203.5 384.9 204 385 204.5 385 205 384.9 205.5 384.8 206 384.7 206.5 384.6 207 384.5 207.5 384.4 208 384.4 208.5 384.3 209 384.2 209.5 384.2 210 384.1 210.5 384.1 211 384 211.5 384 212 384 212.3 384 212.5 384 213 384.2 213.5 384.7 214 385.2 214.5 385.9 215 386.6 215.5 387.3 216 388 216.5 388.7 217 389.4 217.5 390.2 218 391.1 218.5 391.9 219 392.7 219.5 393.4 220 394 220.5 394.6 221 395.1 221.5 395.6 222 396.1 222.5 396.5 223 397 223.5 397.4 224 397.8 224.5 398.2 225 398.5 225.5 398.8 226 399.2 226.5 399.5 227 399.8 227.5 400 228 400.3 228.5 400.6 229 400.8 229.5 401 230 401.2 230.5 401.4 231 401.6 231.5 401.7 232 401.9 232.5 402.1 233 402.2 233.5 402.3 234 402.3 234.5 402.3 235 402.3 235.5 402.3 236 402.4 236.5 402.4 237 402.4 237.5 402.4 238 402.4 238.5 402.4 239 402.4 239.5 402.4 240 402.3 240.5 402.2 241 402 241.5 401.9 242 401.7 242.5 401.5 243 401.3 243.5 401.1 244 400.9 244.5 400.7 245 400.5 245.5 400.2 246 400 246.5 399.7 247 399.4 247.5 399.1 247.9 398.8 248 398.7 248.5 398.3 249 397.8 249.5 397.3 250 396.6 250.5 396 251 395.3 251.5 394.7 252 394 252.5 393.3 253 392.6 253.5 391.9 254 391.1 254.5 390.4 255 389.6 255.5 388.8 256 388 256.5 387.2 257 386.4 257.5 385.6 258 384.8 258.5 384 259 383.2 259.5 382.3 259.9 381.5 260 381.3 260.5 380.3 261 379.2 261.5 378 262 376.8 262.5 375.6 263 374.4 263.5 373.2 264 372 264.5 370.9 265 369.7 265.5 368.6 266 367.5 266.5 366.4 267 365.3 267.5 364.2 267.8 363.5 268 363.1 268.5 361.9 268.8 361.3 269 360.8 269.5 359.7 270 358.6 270.5 357.5 271 356.4 271.5 355.3 271.8 354.6 272 354.1 272.5 353 273 351.8 273.5 350.7 274 349.5 274.5 348.3 275 347.1 275.5 346 276 344.8 276.5 343.7 277 342.6 277.5 341.6 277.8 341 278 340.6 278.5 339.6 279 338.7 279.5 337.8 280 336.8 280.5 335.9 281 335.1 281.5 334.2 282 333.4 282.5 332.6 283 331.8 283.5 331 283.7 330.7 284 330.3 284.5 329.5 285 328.9 285.5 328.2 286 327.5 286.5 326.9 286.7 326.7 287 326.3 287.5 325.6 288 325 288.5 324.3 289 323.7 289.5 323 290 322.4 290.5 321.7 291 321.1 291.5 320.5 292 320 292.5 319.5 293 319 293.5 318.6 294 318.2 294.5 317.8 295 317.5 295.5 317.2 296 316.9 296.5 316.6 297 316.3 297.5 316.1 298 315.9 298.5 315.8 298.7 315.8 299 315.8 299.5 315.8 300 315.8 300.5 315.9 301 315.9 301.5 316 302 316 302.5 316.1 303 316.1 303.5 316.2 304 316.3 304.5 316.4 305 316.5 305.5 316.7 306 316.9 306.5 317.2 307 317.4 307.5 317.7 308 318 308.5 318.3 309 318.7 309.5 319.1 310 319.5 310.5 320 311 320.5 311.5 321 312 321.5 312.5 322.1 313 322.7 313.5 323.3 314 324 314.5 324.7 315 325.5 315.5 326.2 316 327 316.5 327.8 317 328.6 317.5 329.5 318 330.4 318.5 331.3 319 332.2 319.5 333.1 320 334 320.5 334.8 321 335.7 321.5 336.6 322 337.4 322.5 338.2 323 339 323.5 339.8 324 340.5 324.5 341.3 325 342.1 325.5 342.9 326 343.6 326.5 344 327 344.2 327.5 343.9 328 343.2 328.5 342 329 335.9 329.5 323.7 330 310 330.5 291.9 331 271.6 331.5 262 332 270 332.5 285 333 303.3 333.5 320 334 328.7 334.5 335 335 339.9 335.5 344 336 348 336.5 352.2 337 356 337.5 359 338 362 338.5 366.9 339 370 339.5 368 340 366 340.5 371.2 341 378 341.5 380.8 342 382 342.5 374.6 342.6 374 343 383.6 343.2 388 343.5 390.3 344 392" stroke="#9535a5" stroke-opacity="0.8"/>
<path d="M25 388.1L25.5 388 26 387.9 26.5 387.8 27 387.7 27.5 387.6 28 387.5 28.5 386.9 29 387.5 29.5 387.2 30 386.9 30.5 386.8 31 386.7 31.5 386.5 32 386.6 32.5 386.4 33 386.7 33.5 386.4 34 385.9 34.5 385.9 35 386.1 35.5 385.8 36 385.5 36.5 385.4 37 385.4 37.5 384 38 384.3 38.5 383.8 39 384.1 39.5 383.6 40 383.2 40.5 382.9 41 382.9 41.5 379.9 42 380 42.5 381.8 43 380.6 43.5 380 44 380.3 44.5 378.9 45 377.7 45.5 377.6 46 377.2 46.5 376.9 47 376.3 47.5 375.4 48 374.9 48.5 373.9 49 373.7 49.5 373.3 50 372.4 50.5 371.4 51 370 51.5 369.8 52 367.9 52.5 368.2 53 367.7 53.5 367.1 54 366.3 54.5 365.8 55 365.3 55.5 364 56 363.2 56.5 362.3 57 361.5 57.5 360.4 58 358.9 58.5 359.4 59 358.5 59.5 357.7 60 356.8 60.5 356 61 355 61.5 354.8 62 353.7 62.5 352.5 63 351.7 63.5 350.9 64 346.2 64.5 349.3 65 348.1 65.5 345.2 66 346.3 66.5 344.4 67 345.3 67.5 344.2 68 344.7 68.5 344.4 69 345.1 69.5 346 70 342.9 70.5 346.3 71 347.3 71.5 347.7 72 348.2 72.5 349.3 73 349.9 73.5 350.7 74 351.1 74.5 352.2 75 352.9 75.5 353.9 76 352.7 76.5 355.6 77 356.2 77.5 357.3 78 357.9 78.5 358.9 79 360.4 79.5 361.1 80 361.8 80.5 362.5 80.6 362.3 81 363 81.5 363.3 82 363.3 82.5 363.9 83 363.9 83.5 364.6 84 364.8 84.5 364.8 85 364.9 85.5 365.1 86 365.3 86.5 366.1 87 366 87.5 366.2 88 366.4 88.5 365.8 89 366.3 89.5 366.2 90 367.1 90.5 367.4 91 367.1 91.5 367.5 92 367.9 92.5 367.8 93 367.7 93.5 368.2 94 368.9 94.5 368.7 95 369.4 95.5 369.4 96 369.8 96.5 370.2 97 369.9 97.5 369.3 98 370.6 98.5 370.4 99 370.7 99.5 371.1 100 371.3 100.5 370.7 101 371.6 101.5 372 102 372.4 102.5 371.8 103 372.7 103.5 372.4 104 372.5 104.5 372.6 105 373.2 105.5 373.2 106 373.5 106.5 373.3 107 373.7 107.5 374 108 374.2 108.4 374.5 108.5 374.7 109 374.9 109.5 374.3 110 374.7 110.5 375.5 111 375.2 111.5 375.3 112 375.1 112.5 375.7 113 375.4 113.5 375.4 114 375.6 114.5 375.9 115 376.2 115.5 375.9 116 376.2 116.5 376.6 117 376.4 117.5 376.6 118 376.8 118.5 376.6 119 377.5 119.5 377.2 120 377.8 120.5 378 121 377.6 121.5 378 122 378.1 122.5 377.6 123 378.4 123.5 378.5 124 378.9 124.5 379.1 125 378.7 125.5 379.1 126 378.7 126.5 379.7 127 379 127.5 380.1 128 379.9 128.5 380.5 129 380.2 129.5 379.9 130 380.6 130.5 381.1 131 381 131.1 380.5 131.5 381.3 132 381.1 132.5 381.4 133 381.6 133.5 381.7 134 382.2 134.5 382.5 135 382.9 135.5 383 136 383.7 136.5 383.7 137 384.5 137.5 385.2 138 385.7 138.5 386.1 139 386.8 139.5 385.1 140 388.1 140.5 388.7 141 388.6 141.5 389.1 142 390 142.5 390.5 143 391 143.5 390.5 144 391.7 144.5 391.5 145 393.1 145.5 393.8 146 394.5 146.2 394.6 146.5 392.3 147 382 147.5 353.7 148 306.3 148.5 259.5 148.8 240 149 230.3 149.5 206.5 150 184.6 150.5 166.7 151 154.5 151.5 150 152 154.8 152.5 167.6 153 185.8 153.5 206.8 154 228.2 154.3 240 154.5 248.1 155 270.9 155.5 291.6 156 307.3 156.5 320.6 157 332.3 157.5 342.8 157.6 344.8 158 352.9 158.5 361.2 159 366.7 159.5 371.1 160 374 160.5 375.9 161 377.5 161.5 378.6 162 379.5 162.5 380.2 163 380.7 163.5 381.2 164 381.6 164.5 382 165 382.3 165.5 382.6 166 382.9 166.5 383.2 167 383.4 167.5 383.7 168 383.9 168.5 384.1 169 384.3 169.5 384.5 170 384.7 170.5 384.9 171 385.1 171.5 385.3 172 385.5 172.5 385.7 173 385.9 173.5 386.1 174 386.2 174.5 386.4 175 386.6 175.5 386.7 176 386.9 176.5 387.1 177 387.2 177.5 387.4 178 387.6 178.5 387.8 179 387.9 179.5 388.1 180 388.3 180.5 388.5 181 388.7 181.3 388.8 181.5 388.9 182 389.1 182.5 389.3 183 389.6 183.5 389.8 184 390.1 184.5 390.3 185 390.6 185.5 390.8 186 391 186.5 391.3 187 391.5 187.5 391.7 188 391.9 188.5 392 189 392.2 189.5 392.4 190 392.6 190.5 392.8 191 393 191.5 393.1 192 393.3 192.5 393.5 193 393.6 193.5 393.7 194 393.8 194.5 393.9 195 394 195.5 394 195.8 394 196 393.9 196.5 392.6 196.8 391.2 197 387.1 197.5 362.9 197.6 358 198 335.7 198.5 312 199 300.5 199.3 297.9 199.5 300.4 200 318 200.5 343.8 200.8 358 201 365 201.5 377 202 380.2 202.2 380.7 202.5 381 203 381.4 203.5 381.6 204 381.7 204.5 381.7 205 381.5 205.5 381.4 206 381.2 206.5 381.1 207 381 207.5 380.9 208 380.9 208.5 380.8 209 380.7 209.5 380.7 210 380.6 210.5 380.6 211 380.5 211.5 380.5 212 380.5 212.3 380.5 212.5 380.5 213 380.7 213.5 381.1 214 381.7 214.5 382.3 215 383 215.5 383.7 216 384.4 216.5 385.1 217 385.8 217.5 386.6 218 387.4 218.5 388.2 219 389 219.5 389.8 220 390.4 220.5 391 221 391.5 221.5 392.1 222 392.6 222.5 393.1 223 393.6 223.5 394.1 224 394.5 224.5 394.9 225 395.3 225.5 395.7 226 396 226.5 396.4 227 396.7 227.5 397 228 397.4 228.5 397.6 229 397.9 229.5 398.1 230 398.4 230.5 398.6 231 398.8 231.5 399 232 399.2 232.5 399.3 233 399.5 233.5 399.5 234 399.6 234.5 399.6 235 399.6 235.5 399.7 236 399.7 236.5 399.7 237 399.7 237.5 399.7 238 399.7 238.5 399.7 239 399.7 239.5 399.6 240 399.6 240.5 399.4 241 399.3 241.5 399.1 242 398.9 242.5 398.7 243 398.5 243.5 398.4 244 398.2 244.5 397.9 245 397.7 245.5 397.4 246 397.2 246.5 396.9 247 396.6 247.5 396.2 247.9 395.9 248 395.9 248.5 395.4 249 394.9 249.5 394.3 250 393.7 250.5 393 251 392.4 251.5 391.7 252 391 252.5 390.3 253 389.6 253.5 388.9 254 388.1 254.5 387.4 255 386.6 255.5 385.8 256 385 256.5 384.2 257 383.4 257.5 382.7 258 381.9 258.5 381.1 259 380.2 259.5 379.3 259.9 378.5 260 378.3 260.5 377.3 261 376.1 261.5 374.8 262 373.6 262.5 372.2 263 370.9 263.5 369.6 264 368.4 264.5 367.2 265 366 265.5 364.8 266 363.6 266.5 362.4 267 361.2 267.5 360 267.8 359.3 268 358.8 268.5 357.7 268.8 357 269 356.5 269.5 355.3 270 354.1 270.5 352.9 271 351.8 271.5 350.6 271.8 349.9 272 349.4 272.5 348.2 273 347.1 273.5 345.9 274 344.8 274.5 343.6 275 342.5 275.5 341.4 276 340.3 276.5 339.2 277 338.2 277.5 337.2 277.8 336.6 278 336.2 278.5 335.2 279 334.2 279.5 333.3 280 332.3 280.5 331.4 281 330.5 281.5 329.6 282 328.8 282.5 328 283 327.2 283.5 326.4 283.7 326.1 284 325.7 284.5 325 285 324.3 285.5 323.6 286 323 286.5 322.4 286.7 322.1 287 321.7 287.5 321.1 288 320.5 288.5 319.8 289 319.2 289.5 318.5 290 317.9 290.5 317.3 291 316.7 291.5 316.1 292 315.6 292.5 315.2 293 314.7 293.5 314.3 294 313.9 294.5 313.5 295 313.2 295.5 312.9 296 312.6 296.5 312.3 297 312 297.5 311.8 298 311.6 298.5 311.5 298.7 311.5 299 311.5 299.5 311.5 300 311.5 300.5 311.6 301 311.6 301.5 311.7 302 311.8 302.5 311.8 303 311.9 303.5 312 304 312.1 304.5 312.2 305 312.3 305.5 312.5 306 312.8 306.5 313 307 313.3 307.5 313.6 308 313.9 308.5 314.2 309 314.5 309.5 314.9 310 315.4 310.5 315.8 311 316.3 311.5 316.9 312 317.4 312.5 318 313 318.6 313.5 319.3 314 320 314.5 320.7 315 321.5 315.5 322.3 316 323.1 316.5 323.9 317 324.8 317.5 325.7 318 326.6 318.5 327.6 319 328.5 319.5 329.5 320 330.4 320.5 331.3 321 332.2 321.5 333.2 322 334.1 322.5 335 323 335.9 323.5 336.8 324 337.6 324.5 338.5 325 339.5 325.5 340.5 326 341.3 326.5 341.9 327 342.1 327.5 341.8 328 341.1 328.5 340 329 334 329.5 321.7 330 308 330.5 289.9 331 269.6 331.5 260 332 267.6 332.5 282 333 300.8 333.5 318 334 326.8 334.5 333 335 337.7 335.5 341.5 336 345.4 336.5 349.8 337 353.8 337.5 356.7 338 359.6 338.5 364.7 339 368 339.5 365.9 340 363.8 340.5 369.1 341 376 341.5 378.8 342 380 342.5 372.2 342.6 371.6 343 381.4 343.2 386 343.5 388.5 344 390.5" stroke="#ff3a4a" stroke-opacity="0.8"/>
<path d="M25 383.9L25.5 383.8 26 383.7 26.5 383.5 27 383.4 27.5 383.3 28 383.2 28.5 382.8 29 382.6 29.5 382.9 30 382.7 30.5 383.1 31 382.3 31.5 382.2 32 381.7 32.5 381.4 33 381.2 33.5 381.8 34 381.1 34.5 381.7 35 381.6 35.5 380.9 36 381.3 36.5 380.6 37 380.7 37.5 379.5 38 380.1 38.5 379.3 39 379.5 39.5 378.9 40 378.6 40.5 378.5 41 378 41.5 374.4 42 374.6 42.5 376.8 43 375.5 43.5 375.4 44 374.7 44.5 373.5 45 372.8 45.5 372.1 46 372.3 46.5 371.2 47 370.7 47.5 370.2 48 369.4 48.5 368.9 49 367.7 49.5 367.2 50 366.2 50.5 365.8 51 364.3 51.5 364.5 52 362.8 52.5 362.6 53 362 53.5 361.4 54 361 54.5 360.2 55 359.3 55.5 358.3 56 357.8 56.5 357.1 57 356.8 57.5 355.2 58 353.3 58.5 354.7 59 353.5 59.5 352.9 60 351.8 60.5 351.9 61 349.9 61.5 349.5 62 348.7 62.5 349 63 347.8 63.5 346.9 64 340.7 64.5 345.4 65 344.2 65.5 340.2 66 342.1 66.5 338.5 67 341.8 67.5 340.9 68 341.3 68.5 341.4 69 341.2 69.5 342.2 70 339 70.5 343 71 343.6 71.5 343.9 72 344.4 72.5 345.4 73 346.1 73.5 346.4 74 346.4 74.5 348 75 349 75.5 349.9 76 348.4 76.5 350.9 77 351.7 77.5 352.9 78 353.2 78.5 353.7 79 355.2 79.5 356.4 80 356.6 80.5 357.7 80.6 357.5 81 357.9 81.5 358.5 82 359 82.5 358.4 83 358.4 83.5 359.6 84 359.6 84.5 360.3 85 360.1 85.5 360.7 86 360.1 86.5 360.4 87 361.2 87.5 361.7 88 361.4 88.5 361.6 89 361.4 89.5 360.9 90 361.9 90.5 362.7 91 361.9 91.5 362.5 92 362.3 92.5 363.2 93 363.2 93.5 363.2 94 363.7 94.5 364.5 95 364.3 95.5 364.1 96 364.3 96.5 364.3 97 365.4 97.5 363.8 98 366 98.5 366.1 99 365.9 99.5 366.1 100 366.7 100.5 365.9 101 367 101.5 366.6 102 367.5 102.5 367.2 103 366.9 103.5 367 104 368.1 104.5 368.8 105 368.3 105.5 368.2 106 369.4 106.5 368.3 107 369 107.5 368.9 108 369.1 108.4 370 108.5 369.5 109 369.6 109.5 369.3 110 370.6 110.5 370.1 111 370.6 111.5 370.6 112 370.8 112.5 370.6 113 371.2 113.5 371.1 114 371.3 114.5 371.2 115 371.2 115.5 371.8 116 371.8 116.5 372 117 372.2 117.5 371.9 118 372.7 118.5 372.5 119 372.8 119.5 373 120 373.4 120.5 373.3 121 373.2 121.5 374 122 373.6 122.5 373.1 123 373.6 123.5 374.2 124 374.1 124.5 374.4 125 374.8 125.5 374.9 126 374.4 126.5 375.3 127 375.3 127.5 375.5 128 375.6 128.5 376.1 129 376.1 129.5 375.8 130 376.8 130.5 376.8 131 376.8 131.1 376.5 131.5 377.2 132 377.5 132.5 377.7 133 377.8 133.5 377.9 134 378.4 134.5 378.8 135 379 135.5 378.7 136 379.6 136.5 380.2 137 380.5 137.5 380.7 138 381.6 138.5 382.2 139 382.8 139.5 380.2 140 383.6 140.5 383.8 141 384.9 141.5 384.5 142 385.5 142.5 386 143 387 143.5 387.3 144 387.7 144.5 388.3 145 389.2 145.5 390.4 146 391.2 146.2 391.3 146.5 388.9 147 378.6 147.5 350.9 148 304.8 148.5 259.2 148.8 240 149 230.4 149.5 206.6 150 184.8 150.5 166.8 151 154.5 151.5 150 152 154.8 152.5 167.7 153 185.9 153.5 206.9 154 228.2 154.3 240 154.5 248 155 270.8 155.5 291.1 156 306.3 156.5 319 157 329.7 157.5 339.3 157.6 341.1 158 348.8 158.5 356.8 159 362.2 159.5 366.5 160 369.4 160.5 371.3 161 372.8 161.5 374 162 374.9 162.5 375.6 163 376.2 163.5 376.7 164 377.1 164.5 377.5 165 377.9 165.5 378.2 166 378.5 166.5 378.8 167 379.1 167.5 379.4 168 379.7 168.5 379.9 169 380.2 169.5 380.4 170 380.6 170.5 380.9 171 381.1 171.5 381.3 172 381.5 172.5 381.7 173 381.9 173.5 382.1 174 382.3 174.5 382.5 175 382.7 175.5 382.9 176 383.1 176.5 383.3 177 383.4 177.5 383.6 178 383.8 178.5 384 179 384.2 179.5 384.4 180 384.6 180.5 384.8 181 385 181.3 385.1 181.5 385.2 182 385.4 182.5 385.7 183 385.9 183.5 386.2 184 386.4 184.5 386.7 185 386.9 185.5 387.2 186 387.4 186.5 387.6 187 387.9 187.5 388.1 188 388.2 188.5 388.4 189 388.6 189.5 388.8 190 389 190.5 389.2 191 389.4 191.5 389.6 192 389.8 192.5 390 193 390.1 193.5 390.2 194 390.4 194.5 390.4 195 390.5 195.5 390.5 195.8 390.6 196 390.4 196.5 389.3 196.8 388 197 384.1 197.5 360.5 197.6 355.7 198 332.9 198.5 308.6 199 297.9 199.3 295.5 199.5 298 200 315.7 200.5 341.7 200.8 355.7 201 362.3 201.5 373.6 202 376.5 202.2 376.9 202.5 377.2 203 377.6 203.5 377.8 204 377.9 204.5 377.8 205 377.7 205.5 377.5 206 377.3 206.5 377.1 207 377 207.5 376.9 208 376.8 208.5 376.8 209 376.7 209.5 376.6 210 376.6 210.5 376.6 211 376.5 211.5 376.5 212 376.5 212.3 376.5 212.5 376.5 213 376.7 213.5 377.1 214 377.6 214.5 378.3 215 378.9 215.5 379.6 216 380.3 216.5 380.9 217 381.6 217.5 382.4 218 383.2 218.5 384.1 219 384.8 219.5 385.6 220 386.3 220.5 386.9 221 387.5 221.5 388.1 222 388.6 222.5 389.2 223 389.7 223.5 390.2 224 390.7 224.5 391.2 225 391.6 225.5 392 226 392.4 226.5 392.8 227 393.2 227.5 393.6 228 393.9 228.5 394.3 229 394.6 229.5 394.8 230 395.1 230.5 395.3 231 395.6 231.5 395.8 232 396 232.5 396.2 233 396.3 233.5 396.4 234 396.5 234.5 396.5 235 396.6 235.5 396.6 236 396.6 236.5 396.6 237 396.6 237.5 396.6 238 396.6 238.5 396.6 239 396.6 239.5 396.5 240 396.4 240.5 396.3 241 396.1 241.5 396 242 395.8 242.5 395.6 243 395.4 243.5 395.2 244 395 244.5 394.7 245 394.5 245.5 394.2 246 393.9 246.5 393.6 247 393.3 247.5 393 247.9 392.7 248 392.6 248.5 392.1 249 391.6 249.5 391 250 390.3 250.5 389.6 251 388.9 251.5 388.2 252 387.6 252.5 386.9 253 386.1 253.5 385.4 254 384.7 254.5 383.9 255 383.1 255.5 382.3 256 381.6 256.5 380.8 257 380 257.5 379.2 258 378.5 258.5 377.6 259 376.8 259.5 375.9 259.9 375.1 260 374.9 260.5 373.8 261 372.5 261.5 371.2 262 369.8 262.5 368.4 263 367 263.5 365.6 264 364.3 264.5 363 265 361.7 265.5 360.4 266 359.1 266.5 357.8 267 356.5 267.5 355.3 267.8 354.5 268 354 268.5 352.8 268.8 352 269 351.5 269.5 350.2 270 349 270.5 347.7 271 346.4 271.5 345.2 271.8 344.5 272 344 272.5 342.8 273 341.6 273.5 340.4 274 339.3 274.5 338.2 275 337.2 275.5 336.1 276 335.1 276.5 334 277 333 277.5 332 277.8 331.5 278 331.1 278.5 330.1 279 329.1 279.5 328.1 280 327.1 280.5 326.2 281 325.3 281.5 324.4 282 323.5 282.5 322.7 283 321.9 283.5 321.2 283.7 320.9 284 320.5 284.5 319.7 285 319.1 285.5 318.4 286 317.8 286.5 317.1 286.7 316.9 287 316.5 287.5 315.9 288 315.2 288.5 314.6 289 314 289.5 313.3 290 312.7 290.5 312.1 291 311.6 291.5 311.1 292 310.6 292.5 310.1 293 309.7 293.5 309.3 294 308.9 294.5 308.6 295 308.3 295.5 308 296 307.6 296.5 307.3 297 307.1 297.5 306.8 298 306.7 298.5 306.6 298.7 306.6 299 306.6 299.5 306.6 300 306.6 300.5 306.7 301 306.7 301.5 306.8 302 306.9 302.5 306.9 303 307 303.5 307.1 304 307.2 304.5 307.4 305 307.5 305.5 307.7 306 308 306.5 308.2 307 308.5 307.5 308.8 308 309.1 308.5 309.4 309 309.8 309.5 310.2 310 310.6 310.5 311.1 311 311.6 311.5 312.1 312 312.7 312.5 313.3 313 313.9 313.5 314.6 314 315.4 314.5 316.2 315 317 315.5 317.8 316 318.6 316.5 319.5 317 320.4 317.5 321.3 318 322.3 318.5 323.3 319 324.3 319.5 325.3 320 326.3 320.5 327.2 321 328.3 321.5 329.3 322 330.3 322.5 331.3 323 332.3 323.5 333.3 324 334.3 324.5 335.3 325 336.5 325.5 337.7 326 338.7 326.5 339.4 327 339.7 327.5 339.4 328 338.8 328.5 337.7 329 331.7 329.5 319.4 330 305.7 330.5 287.6 331 267.3 331.5 257.7 332 264.8 332.5 278.6 333 297.8 333.5 315.7 334 324.5 334.5 330.6 335 335.1 335.5 338.7 336 342.4 336.5 347 337 351.3 337.5 354.1 338 356.8 338.5 362.1 339 365.7 339.5 363.5 340 361.3 340.5 366.7 341 373.7 341.5 376.5 342 377.7 342.5 369.5 342.6 368.8 343 378.9 343.2 383.7 343.5 386.5 344 388.8" stroke="#3e5" stroke-opacity="0.8"/>
<path d="M25 379L25.5 378.8 26 378.7 26.5 378.5 27 378.3 27.5 378.2 28 378 28.5 377.5 29 377.2 29.5 377.7 30 377.3 30.5 376.6 31 377.5 31.5 377.2 32 376.6 32.5 376.5 33 376.4 33.5 376 34 375.6 34.5 376 35 375.2 35.5 375.6 36 374.7 36.5 375 37 374.8 37.5 374.4 38 373.9 38.5 373.5 39 373.5 39.5 373.1 40 372.9 40.5 372.9 41 372.7 41.5 368.7 42 368.1 42.5 371.7 43 370.8 43.5 369.2 44 367.6 44.5 367.6 45 366 45.5 365.4 46 365.6 46.5 364.9 47 364 47.5 363.6 48 363.3 48.5 362.1 49 361.7 49.5 360.6 50 359.8 50.5 359.4 51 357.6 51.5 357.7 52 354.9 52.5 356.7 53 355.1 53.5 355.1 54 354.9 54.5 353.6 55 352.4 55.5 351.1 56 351.9 56.5 350.8 57 350.4 57.5 349.4 58 346.1 58.5 348.1 59 347.2 59.5 345.8 60 345.7 60.5 345.7 61 345.1 61.5 344.7 62 343.7 62.5 343.5 63 343.2 63.5 341.9 64 332.5 64.5 340.2 65 340.3 65.5 335.5 66 338.7 66.5 334.5 67 338.1 67.5 336.3 68 337.7 68.5 337 69 337.9 69.5 338.2 70 334 70.5 339.4 71 339.1 71.5 340.1 72 340.2 72.5 340.9 73 342 73.5 341.7 74 342.1 74.5 343.3 75 344.3 75.5 344.5 76 341.8 76.5 346.2 77 345.7 77.5 347.2 78 347.7 78.5 348.5 79 349.6 79.5 350.3 80 351.2 80.5 351.3 80.6 351.9 81 352 81.5 352.4 82 352.6 82.5 353.5 83 351.9 83.5 353.9 84 354.1 84.5 353.8 85 354.6 85.5 354.7 86 354.6 86.5 354.8 87 354.9 87.5 355.6 88 356.3 88.5 355.4 89 356.1 89.5 355.5 90 356.6 90.5 356.7 91 357.2 91.5 355.9 92 357 92.5 357.1 93 357.2 93.5 357.6 94 357.9 94.5 358.6 95 359.3 95.5 357.8 96 358.9 96.5 359.4 97 359.5 97.5 357.7 98 359.4 98.5 359.8 99 360.6 99.5 361 100 360.8 100.5 359.7 101 361.3 101.5 361.3 102 361.8 102.5 361.9 103 361.8 103.5 361.8 104 362 104.5 362.9 105 363.3 105.5 362.6 106 363.4 106.5 361.7 107 364 107.5 364.1 108 363.9 108.4 364.5 108.5 364 109 364.1 109.5 363.8 110 364.6 110.5 364.7 111 365 111.5 364.9 112 365.6 112.5 365.8 113 365.4 113.5 364.7 114 366.2 114.5 366.5 115 366.2 115.5 365.9 116 366.6 116.5 367.3 117 366.1 117.5 367.2 118 367.1 118.5 366.8 119 367.7 119.5 367.2 120 368 120.5 368.5 121 368.3 121.5 368.1 122 367.9 122.5 367.6 123 368.2 123.5 369.7 124 369.2 124.5 369.1 125 369.2 125.5 369.4 126 369 126.5 369.7 127 371 127.5 370.3 128 370.5 128.5 371.2 129 371.8 129.5 371.5 130 371.5 130.5 372 131 372.2 131.1 372.4 131.5 372.4 132 372.3 132.5 372.4 133 373.2 133.5 373 134 374.2 134.5 374 135 374 135.5 373.5 136 374.8 136.5 375.3 137 376.1 137.5 375.6 138 376 138.5 377.3 139 377.7 139.5 374.2 140 379 140.5 379.3 141 380.2 141.5 380 142 380.9 142.5 381.2 143 381.7 143.5 383 144 383.9 144.5 383.8 145 384.9 145.5 386.5 146 387.2 146.2 387.4 146.5 385 147 374.5 147.5 347.5 148 302.9 148.5 258.8 148.8 240 149 230.5 149.5 206.8 150 185 150.5 166.9 151 154.5 151.5 150 152 154.9 152.5 167.7 153 186 153.5 207 154 228.2 154.3 240 154.5 248 155 270.6 155.5 290.6 156 305.2 156.5 317.1 157 326.7 157.5 335.1 157.6 336.8 158 344 158.5 351.7 159 356.9 159.5 361.1 160 364 160.5 365.9 161 367.4 161.5 368.6 162 369.5 162.5 370.2 163 370.8 163.5 371.3 164 371.8 164.5 372.2 165 372.6 165.5 373 166 373.4 166.5 373.7 167 374.1 167.5 374.4 168 374.7 168.5 375 169 375.3 169.5 375.6 170 375.8 170.5 376.1 171 376.4 171.5 376.6 172 376.8 172.5 377.1 173 377.3 173.5 377.5 174 377.7 174.5 378 175 378.2 175.5 378.4 176 378.6 176.5 378.8 177 379 177.5 379.2 178 379.4 178.5 379.6 179 379.8 179.5 380 180 380.2 180.5 380.4 181 380.7 181.3 380.8 181.5 380.9 182 381.1 182.5 381.4 183 381.6 183.5 381.9 184 382.1 184.5 382.4 185 382.6 185.5 382.9 186 383.1 186.5 383.4 187 383.6 187.5 383.8 188 384 188.5 384.2 189 384.4 189.5 384.6 190 384.8 190.5 385.1 191 385.3 191.5 385.5 192 385.7 192.5 385.8 193 386 193.5 386.2 194 386.3 194.5 386.4 195 386.5 195.5 386.5 195.8 386.5 196 386.4 196.5 385.4 196.8 384.2 197 380.5 197.5 357.7 197.6 353 198 329.5 198.5 304.5 199 294.8 199.3 292.6 199.5 295.2 200 313 200.5 339.2 200.8 353 201 359.2 201.5 369.5 202 372 202.2 372.4 202.5 372.8 203 373.1 203.5 373.4 204 373.4 204.5 373.4 205 373.2 205.5 372.9 206 372.6 206.5 372.4 207 372.2 207.5 372.2 208 372.1 208.5 372 209 372 209.5 371.9 210 371.9 210.5 371.8 211 371.8 211.5 371.8 212 371.8 212.3 371.8 212.5 371.8 213 372 213.5 372.3 214 372.9 214.5 373.5 215 374.1 215.5 374.8 216 375.4 216.5 376 217 376.8 217.5 377.5 218 378.3 218.5 379.1 219 379.9 219.5 380.7 220 381.4 220.5 382.1 221 382.7 221.5 383.3 222 384 222.5 384.6 223 385.2 223.5 385.7 224 386.3 224.5 386.8 225 387.3 225.5 387.8 226 388.2 226.5 388.7 227 389.1 227.5 389.5 228 389.9 228.5 390.3 229 390.7 229.5 391 230 391.3 230.5 391.5 231 391.8 231.5 392 232 392.3 232.5 392.5 233 392.7 233.5 392.8 234 392.9 234.5 392.9 235 392.9 235.5 393 236 393 236.5 393 237 393 237.5 393 238 393 238.5 393 239 392.9 239.5 392.8 240 392.7 240.5 392.6 241 392.4 241.5 392.3 242 392.1 242.5 391.9 243 391.7 243.5 391.5 244 391.2 244.5 391 245 390.7 245.5 390.4 246 390.2 246.5 389.8 247 389.5 247.5 389.1 247.9 388.8 248 388.7 248.5 388.2 249 387.7 249.5 387 250 386.4 250.5 385.7 251 384.9 251.5 384.2 252 383.5 252.5 382.8 253 382.1 253.5 381.3 254 380.6 254.5 379.8 255 379.1 255.5 378.3 256 377.5 256.5 376.7 257 376 257.5 375.2 258 374.5 258.5 373.6 259 372.8 259.5 371.9 259.9 371.1 260 370.9 260.5 369.7 261 368.4 261.5 367 262 365.5 262.5 363.9 263 362.4 263.5 360.8 264 359.4 264.5 358 265 356.6 265.5 355.2 266 353.8 266.5 352.4 267 351.1 267.5 349.7 267.8 348.9 268 348.3 268.5 347 268.8 346.2 269 345.6 269.5 344.3 270 342.9 270.5 341.5 271 340.2 271.5 338.9 271.8 338.1 272 337.6 272.5 336.3 273 335.2 273.5 334 274 332.9 274.5 331.9 275 330.9 275.5 329.9 276 328.9 276.5 328 277 327 277.5 326 277.8 325.5 278 325.1 278.5 324.1 279 323.1 279.5 322.1 280 321.1 280.5 320.1 281 319.1 281.5 318.2 282 317.4 282.5 316.6 283 315.8 283.5 315 283.7 314.7 284 314.3 284.5 313.6 285 312.9 285.5 312.3 286 311.6 286.5 311 286.7 310.7 287 310.3 287.5 309.7 288 309.1 288.5 308.5 289 307.9 289.5 307.3 290 306.7 290.5 306.1 291 305.6 291.5 305.1 292 304.7 292.5 304.3 293 303.8 293.5 303.5 294 303.1 294.5 302.8 295 302.4 295.5 302.1 296 301.8 296.5 301.5 297 301.3 297.5 301 298 300.8 298.5 300.8 298.7 300.8 299 300.8 299.5 300.8 300 300.8 300.5 300.9 301 300.9 301.5 301 302 301.1 302.5 301.2 303 301.3 303.5 301.4 304 301.5 304.5 301.7 305 301.8 305.5 302.1 306 302.3 306.5 302.6 307 302.9 307.5 303.2 308 303.5 308.5 303.8 309 304.2 309.5 304.6 310 305.1 310.5 305.6 311 306.1 311.5 306.6 312 307.1 312.5 307.8 313 308.4 313.5 309.2 314 309.9 314.5 310.8 315 311.6 315.5 312.5 316 313.4 316.5 314.3 317 315.2 317.5 316.2 318 317.2 318.5 318.2 319 319.3 319.5 320.3 320 321.4 320.5 322.5 321 323.6 321.5 324.7 322 325.8 322.5 327 323 328.1 323.5 329.2 324 330.4 324.5 331.6 325 333 325.5 334.4 326 335.7 326.5 336.5 327 336.8 327.5 336.6 328 336 328.5 335 329 329 329.5 316.7 330 303 330.5 284.9 331 264.6 331.5 255 332 261.5 332.5 274.5 333 294.3 333.5 313 334 321.9 334.5 327.9 335 332 335.5 335.3 336 338.9 336.5 343.8 337 348.3 337.5 350.9 338 353.6 338.5 359.1 339 363 339.5 360.6 340 358.3 340.5 363.9 341 371 341.5 373.8 342 375 342.5 366.3 342.6 365.6 343 376 343.2 381 343.5 384.2 344 386.8" stroke="#3df" stroke-opacity="0.8"/>
<path d="M25 373.5L25.5 373.3 26 373.1 26.5 372.9 27 372.7 27.5 372.5 28 372.3 28.5 371.4 29 372.1 29.5 371.7 30 372 30.5 371.1 31 370.3 31.5 370.9 32 371.5 32.5 370.4 33 369.9 33.5 369.7 34 369.5 34.5 369.7 35 369.1 35.5 370.1 36 369 36.5 369 37 369.4 37.5 368.4 38 368.1 38.5 368.1 39 368 39.5 367.3 40 366.2 40.5 366.9 41 366.5 41.5 358.9 42 360.8 42.5 364.2 43 363.2 43.5 362.5 44 362.3 44.5 361.5 45 359.3 45.5 359.5 46 358.9 46.5 357.9 47 357.1 47.5 355.8 48 355.8 48.5 356.1 49 354.8 49.5 353.5 50 352.7 50.5 351.8 51 349.8 51.5 350.9 52 346.7 52.5 349.5 53 348.3 53.5 348.4 54 347.1 54.5 347.1 55 345.5 55.5 344.3 56 344.6 56.5 344.3 57 343.5 57.5 341.6 58 338.7 58.5 341.6 59 340.8 59.5 340.2 60 340.8 60.5 339.4 61 338.7 61.5 339 62 338.1 62.5 337.8 63 337.8 63.5 337.2 64 329.2 64.5 336.3 65 335.3 65.5 329.5 66 333.8 66.5 328.8 67 333.4 67.5 331.3 68 332.2 68.5 333.1 69 332.7 69.5 332.8 70 328 70.5 334 71 334.9 71.5 334.9 72 335.1 72.5 335.2 73 336.3 73.5 336.9 74 337.1 74.5 337.9 75 337.9 75.5 339.2 76 335.8 76.5 340.3 77 341.3 77.5 342.1 78 343.1 78.5 341 79 344.1 79.5 344.9 80 345.4 80.5 345 80.6 345.7 81 346.6 81.5 345.5 82 346.7 82.5 347.2 83 344.9 83.5 347.5 84 347 84.5 347.4 85 347.6 85.5 348.2 86 348 86.5 349 87 348.3 87.5 348.9 88 349.6 88.5 349.6 89 349 89.5 349.5 90 349.8 90.5 350.4 91 350.6 91.5 351.2 92 351 92.5 350.3 93 350.2 93.5 351.9 94 351.7 94.5 352.6 95 352.4 95.5 352.2 96 353.2 96.5 352.6 97 352.3 97.5 351.7 98 352.8 98.5 354.1 99 354.5 99.5 354.3 100 353.7 100.5 354.3 101 354.3 101.5 354.5 102 355.2 102.5 355.9 103 355.9 103.5 355.3 104 356 104.5 356.4 105 356.1 105.5 356.7 106 357.3 106.5 355.3 107 357.7 107.5 357.4 108 357.6 108.4 358 108.5 358 109 358.5 109.5 357.8 110 359.4 110.5 358.7 111 358.8 111.5 358.6 112 359.3 112.5 359.7 113 359.3 113.5 359.1 114 360.2 114.5 360 115 360 115.5 360.9 116 360.6 116.5 360.9 117 361.4 117.5 361.6 118 361.1 118.5 360.9 119 361.8 119.5 361.7 120 361.1 120.5 362.8 121 362.4 121.5 362.9 122 362.3 122.5 362.7 123 362.9 123.5 363.3 124 363 124.5 363.7 125 363.9 125.5 364.2 126 362.9 126.5 364.7 127 365.3 127.5 364.9 128 364.9 128.5 365.6 129 366.1 129.5 365.7 130 366.7 130.5 365.8 131 367 131.1 367.6 131.5 367 132 367.1 132.5 367.8 133 367.7 133.5 368.5 134 368.5 134.5 369.4 135 369.3 135.5 368.2 136 370 136.5 370.5 137 370.2 137.5 370.7 138 370.3 138.5 372.3 139 372.2 139.5 367.7 140 372.7 140.5 373.9 141 374.9 141.5 375.1 142 375.9 142.5 375.8 143 376.4 143.5 378.2 144 379 144.5 379.8 145 381.4 145.5 381.5 146 382.9 146.2 383 146.5 380.6 147 370 147.5 343.8 148 300.9 148.5 258.3 148.8 240 149 230.6 149.5 207 150 185.1 150.5 167 151 154.6 151.5 150 152 154.9 152.5 167.8 153 186 153.5 207.1 154 228.3 154.3 240 154.5 248 155 270.4 155.5 290 156 304 156.5 315 157 323.3 157.5 330.5 157.6 332 158 338.7 158.5 346 159 351.1 159.5 355.2 160 358 160.5 359.9 161 361.4 161.5 362.6 162 363.5 162.5 364.2 163 364.9 163.5 365.4 164 365.9 164.5 366.4 165 366.8 165.5 367.2 166 367.7 166.5 368.1 167 368.5 167.5 368.8 168 369.2 168.5 369.5 169 369.9 169.5 370.2 170 370.5 170.5 370.8 171 371.1 171.5 371.4 172 371.6 172.5 371.9 173 372.1 173.5 372.4 174 372.6 174.5 372.9 175 373.1 175.5 373.3 176 373.6 176.5 373.8 177 374 177.5 374.2 178 374.5 178.5 374.7 179 374.9 179.5 375.1 180 375.4 180.5 375.6 181 375.9 181.3 376 181.5 376.1 182 376.3 182.5 376.6 183 376.9 183.5 377.1 184 377.4 184.5 377.6 185 377.9 185.5 378.1 186 378.4 186.5 378.6 187 378.9 187.5 379.1 188 379.3 188.5 379.5 189 379.7 189.5 380 190 380.2 190.5 380.4 191 380.7 191.5 380.9 192 381.1 192.5 381.3 193 381.5 193.5 381.6 194 381.8 194.5 381.9 195 382 195.5 382 195.8 382 196 381.9 196.5 381 196.8 380 197 376.5 197.5 354.7 197.6 350 198 325.7 198.5 300 199 291.3 199.3 289.5 199.5 292.1 200 310 200.5 336.4 200.8 350 201 355.8 201.5 365 202 367.1 202.2 367.5 202.5 367.8 203 368.2 203.5 368.4 204 368.5 204.5 368.4 205 368.1 205.5 367.8 206 367.5 206.5 367.2 207 367 207.5 366.9 208 366.8 208.5 366.8 209 366.7 209.5 366.7 210 366.6 210.5 366.6 211 366.5 211.5 366.5 212 366.5 212.3 366.5 212.5 366.5 213 366.7 213.5 367.1 214 367.5 214.5 368.1 215 368.8 215.5 369.4 216 370 216.5 370.6 217 371.3 217.5 372.1 218 372.9 218.5 373.7 219 374.5 219.5 375.3 220 376 220.5 376.7 221 377.4 221.5 378.1 222 378.8 222.5 379.5 223 380.1 223.5 380.8 224 381.4 224.5 382 225 382.5 225.5 383 226 383.6 226.5 384.1 227 384.6 227.5 385 228 385.5 228.5 385.9 229 386.3 229.5 386.7 230 387 230.5 387.3 231 387.6 231.5 387.9 232 388.1 232.5 388.4 233 388.6 233.5 388.7 234 388.8 234.5 388.8 235 388.9 235.5 388.9 236 389 236.5 389 237 389 237.5 389 238 389 238.5 388.9 239 388.8 239.5 388.7 240 388.6 240.5 388.4 241 388.3 241.5 388.1 242 388 242.5 387.8 243 387.5 243.5 387.3 244 387.1 244.5 386.8 245 386.5 245.5 386.2 246 385.9 246.5 385.6 247 385.2 247.5 384.8 247.9 384.5 248 384.4 248.5 383.9 249 383.3 249.5 382.7 250 381.9 250.5 381.2 251 380.5 251.5 379.7 252 379 252.5 378.3 253 377.6 253.5 376.8 254 376.1 254.5 375.3 255 374.6 255.5 373.8 256 373 256.5 372.2 257 371.5 257.5 370.8 258 370 258.5 369.2 259 368.4 259.5 367.4 259.9 366.6 260 366.4 260.5 365.2 261 363.8 261.5 362.2 262 360.6 262.5 358.9 263 357.2 263.5 355.6 264 354 264.5 352.5 265 351 265.5 349.5 266 348 266.5 346.5 267 345 267.5 343.5 267.8 342.6 268 342 268.5 340.6 268.8 339.7 269 339.1 269.5 337.7 270 336.2 270.5 334.7 271 333.2 271.5 331.8 271.8 331 272 330.5 272.5 329.2 273 328 273.5 326.9 274 325.9 274.5 324.9 275 323.9 275.5 323 276 322.1 276.5 321.2 277 320.3 277.5 319.4 277.8 318.8 278 318.4 278.5 317.4 279 316.4 279.5 315.3 280 314.3 280.5 313.3 281 312.3 281.5 311.4 282 310.5 282.5 309.7 283 308.9 283.5 308.2 283.7 307.9 284 307.5 284.5 306.8 285 306.1 285.5 305.4 286 304.8 286.5 304.2 286.7 303.9 287 303.5 287.5 302.9 288 302.3 288.5 301.7 289 301.1 289.5 300.5 290 300 290.5 299.5 291 299 291.5 298.6 292 298.1 292.5 297.7 293 297.3 293.5 297 294 296.6 294.5 296.3 295 296 295.5 295.7 296 295.4 296.5 295.1 297 294.8 297.5 294.6 298 294.4 298.5 294.3 298.7 294.3 299 294.3 299.5 294.3 300 294.4 300.5 294.4 301 294.5 301.5 294.6 302 294.7 302.5 294.8 303 294.9 303.5 295.1 304 295.2 304.5 295.4 305 295.6 305.5 295.8 306 296 306.5 296.3 307 296.6 307.5 297 308 297.3 308.5 297.7 309 298 309.5 298.4 310 298.9 310.5 299.4 311 299.9 311.5 300.4 312 301 312.5 301.6 313 302.3 313.5 303.1 314 303.9 314.5 304.8 315 305.7 315.5 306.6 316 307.5 316.5 308.4 317 309.4 317.5 310.5 318 311.5 318.5 312.6 319 313.7 319.5 314.9 320 316 320.5 317.2 321 318.4 321.5 319.6 322 320.9 322.5 322.2 323 323.4 323.5 324.7 324 326 324.5 327.5 325 329.1 325.5 330.8 326 332.3 326.5 333.3 327 333.7 327.5 333.5 328 332.9 328.5 332 329 326.1 329.5 313.7 330 300 330.5 281.9 331 261.6 331.5 252 332 257.9 332.5 270 333 290.4 333.5 310 334 318.9 334.5 324.8 335 328.7 335.5 331.6 336 335 336.5 340.2 337 345 337.5 347.5 338 350 338.5 355.8 339 360 339.5 357.5 340 355 340.5 360.7 341 368 341.5 370.8 342 372 342.5 362.7 342.6 362 343 372.7 343.2 378 343.5 381.6 344 384.5" stroke="#f4f" stroke-opacity="0.8"/>
</g></g>
<line x1="24.8" y1="245" x2="343.9" y2="245" stroke="#666" stroke-width="1.2"/>
<line x1="343.9" y1="245" x2="343.9" y2="405.7" stroke="#888" stroke-width="1"/>
<line x1="24.9" y1="244.5" x2="24.9" y2="406" stroke="#888" stroke-width="1.1"/>
<line x1="24.5" y1="405.6" x2="344.4" y2="405.6" stroke="#666" stroke-width="1.3"/>
<line x1="23.7" y1="403.8" x2="24.9" y2="403.8" stroke="#777" stroke-width="0.8"/>
<line x1="23.7" y1="398.7" x2="24.9" y2="398.7" stroke="#777" stroke-width="0.8"/>
<line x1="23.7" y1="393.5" x2="24.9" y2="393.5" stroke="#777" stroke-width="0.8"/>
<line x1="22.9" y1="388.4" x2="24.9" y2="388.4" stroke="#777" stroke-width="0.8"/>
<line x1="23.7" y1="383.3" x2="24.9" y2="383.3" stroke="#777" stroke-width="0.8"/>
<line x1="23.7" y1="378.1" x2="24.9" y2="378.1" stroke="#777" stroke-width="0.8"/>
<line x1="23.7" y1="373" x2="24.9" y2="373" stroke="#777" stroke-width="0.8"/>
<line x1="23.7" y1="367.8" x2="24.9" y2="367.8" stroke="#777" stroke-width="0.8"/>
<line x1="22.9" y1="362.7" x2="24.9" y2="362.7" stroke="#777" stroke-width="0.8"/>
<line x1="23.7" y1="357.5" x2="24.9" y2="357.5" stroke="#777" stroke-width="0.8"/>
<line x1="23.7" y1="352.4" x2="24.9" y2="352.4" stroke="#777" stroke-width="0.8"/>
<line x1="23.7" y1="347.2" x2="24.9" y2="347.2" stroke="#777" stroke-width="0.8"/>
<line x1="23.7" y1="342.1" x2="24.9" y2="342.1" stroke="#777" stroke-width="0.8"/>
<line x1="22.9" y1="336.9" x2="24.9" y2="336.9" stroke="#777" stroke-width="0.8"/>
<line x1="23.7" y1="331.8" x2="24.9" y2="331.8" stroke="#777" stroke-width="0.8"/>
<line x1="23.7" y1="326.6" x2="24.9" y2="326.6" stroke="#777" stroke-width="0.8"/>
<line x1="23.7" y1="321.5" x2="24.9" y2="321.5" stroke="#777" stroke-width="0.8"/>
<line x1="23.7" y1="316.3" x2="24.9" y2="316.3" stroke="#777" stroke-width="0.8"/>
<line x1="22.9" y1="311.2" x2="24.9" y2="311.2" stroke="#777" stroke-width="0.8"/>
<line x1="23.7" y1="306" x2="24.9" y2="306" stroke="#777" stroke-width="0.8"/>
<line x1="23.7" y1="300.9" x2="24.9" y2="300.9" stroke="#777" stroke-width="0.8"/>
<line x1="23.7" y1="295.7" x2="24.9" y2="295.7" stroke="#777" stroke-width="0.8"/>
<line x1="23.7" y1="290.6" x2="24.9" y2="290.6" stroke="#777" stroke-width="0.8"/>
<line x1="22.9" y1="285.4" x2="24.9" y2="285.4" stroke="#777" stroke-width="0.8"/>
<line x1="23.7" y1="280.3" x2="24.9" y2="280.3" stroke="#777" stroke-width="0.8"/>
<line x1="23.7" y1="275.1" x2="24.9" y2="275.1" stroke="#777" stroke-width="0.8"/>
<line x1="23.7" y1="270" x2="24.9" y2="270" stroke="#777" stroke-width="0.8"/>
<line x1="23.7" y1="264.8" x2="24.9" y2="264.8" stroke="#777" stroke-width="0.8"/>
<line x1="22.9" y1="259.7" x2="24.9" y2="259.7" stroke="#777" stroke-width="0.8"/>
<line x1="24.5" y1="405.6" x2="24.5" y2="408.8" stroke="#444" stroke-width="0.8"/>
<line x1="35.3" y1="405.6" x2="35.3" y2="407.6" stroke="#444" stroke-width="0.8"/>
<line x1="46.1" y1="405.6" x2="46.1" y2="407.6" stroke="#444" stroke-width="0.8"/>
<line x1="56.8" y1="405.6" x2="56.8" y2="407.6" stroke="#444" stroke-width="0.8"/>
<line x1="67.6" y1="405.6" x2="67.6" y2="407.6" stroke="#444" stroke-width="0.8"/>
<line x1="78.4" y1="405.6" x2="78.4" y2="408.8" stroke="#444" stroke-width="0.8"/>
<line x1="89.2" y1="405.6" x2="89.2" y2="407.6" stroke="#444" stroke-width="0.8"/>
<line x1="100" y1="405.6" x2="100" y2="407.6" stroke="#444" stroke-width="0.8"/>
<line x1="110.7" y1="405.6" x2="110.7" y2="407.6" stroke="#444" stroke-width="0.8"/>
<line x1="121.5" y1="405.6" x2="121.5" y2="407.6" stroke="#444" stroke-width="0.8"/>
<line x1="132.3" y1="405.6" x2="132.3" y2="408.8" stroke="#444" stroke-width="0.8"/>
<line x1="143.1" y1="405.6" x2="143.1" y2="407.6" stroke="#444" stroke-width="0.8"/>
<line x1="153.9" y1="405.6" x2="153.9" y2="407.6" stroke="#444" stroke-width="0.8"/>
<line x1="164.6" y1="405.6" x2="164.6" y2="407.6" stroke="#444" stroke-width="0.8"/>
<line x1="175.4" y1="405.6" x2="175.4" y2="407.6" stroke="#444" stroke-width="0.8"/>
<line x1="186.2" y1="405.6" x2="186.2" y2="408.8" stroke="#444" stroke-width="0.8"/>
<line x1="197" y1="405.6" x2="197" y2="407.6" stroke="#444" stroke-width="0.8"/>
<line x1="207.8" y1="405.6" x2="207.8" y2="407.6" stroke="#444" stroke-width="0.8"/>
<line x1="218.5" y1="405.6" x2="218.5" y2="407.6" stroke="#444" stroke-width="0.8"/>
<line x1="229.3" y1="405.6" x2="229.3" y2="407.6" stroke="#444" stroke-width="0.8"/>
<line x1="240.1" y1="405.6" x2="240.1" y2="408.8" stroke="#444" stroke-width="0.8"/>
<line x1="250.9" y1="405.6" x2="250.9" y2="407.6" stroke="#444" stroke-width="0.8"/>
<line x1="261.7" y1="405.6" x2="261.7" y2="407.6" stroke="#444" stroke-width="0.8"/>
<line x1="272.4" y1="405.6" x2="272.4" y2="407.6" stroke="#444" stroke-width="0.8"/>
<line x1="283.2" y1="405.6" x2="283.2" y2="407.6" stroke="#444" stroke-width="0.8"/>
<line x1="294" y1="405.6" x2="294" y2="408.8" stroke="#444" stroke-width="0.8"/>
<line x1="304.8" y1="405.6" x2="304.8" y2="407.6" stroke="#444" stroke-width="0.8"/>
<line x1="315.6" y1="405.6" x2="315.6" y2="407.6" stroke="#444" stroke-width="0.8"/>
<line x1="326.3" y1="405.6" x2="326.3" y2="407.6" stroke="#444" stroke-width="0.8"/>
<line x1="337.1" y1="405.6" x2="337.1" y2="407.6" stroke="#444" stroke-width="0.8"/>
<line x1="28.3" y1="245" x2="28.3" y2="246.4" stroke="#666" stroke-width="0.8"/>
<line x1="67.8" y1="245" x2="67.8" y2="246.4" stroke="#666" stroke-width="0.8"/>
<line x1="101.3" y1="245" x2="101.3" y2="246.4" stroke="#666" stroke-width="0.8"/>
<line x1="130" y1="245" x2="130" y2="246.4" stroke="#666" stroke-width="0.8"/>
<line x1="155" y1="245" x2="155" y2="246.4" stroke="#666" stroke-width="0.8"/>
<line x1="176.9" y1="245" x2="176.9" y2="246.4" stroke="#666" stroke-width="0.8"/>
<line x1="196.2" y1="245" x2="196.2" y2="246.4" stroke="#666" stroke-width="0.8"/>
<line x1="213.4" y1="245" x2="213.4" y2="246.4" stroke="#666" stroke-width="0.8"/>
<line x1="228.9" y1="245" x2="228.9" y2="246.4" stroke="#666" stroke-width="0.8"/>
<line x1="242.8" y1="245" x2="242.8" y2="246.4" stroke="#666" stroke-width="0.8"/>
<line x1="255.4" y1="245" x2="255.4" y2="246.4" stroke="#666" stroke-width="0.8"/>
<line x1="266.8" y1="245" x2="266.8" y2="246.4" stroke="#666" stroke-width="0.8"/>
<line x1="277.3" y1="245" x2="277.3" y2="246.4" stroke="#666" stroke-width="0.8"/>
<line x1="286.9" y1="245" x2="286.9" y2="246.4" stroke="#666" stroke-width="0.8"/>
<line x1="295.7" y1="245" x2="295.7" y2="246.4" stroke="#666" stroke-width="0.8"/>
<line x1="303.9" y1="245" x2="303.9" y2="246.4" stroke="#666" stroke-width="0.8"/>
<line x1="311.4" y1="245" x2="311.4" y2="246.4" stroke="#666" stroke-width="0.8"/>
<line x1="318.5" y1="245" x2="318.5" y2="246.4" stroke="#666" stroke-width="0.8"/>
<line x1="325" y1="245" x2="325" y2="246.4" stroke="#666" stroke-width="0.8"/>
<line x1="331.1" y1="245" x2="331.1" y2="246.4" stroke="#666" stroke-width="0.8"/>
<line x1="336.8" y1="245" x2="336.8" y2="246.4" stroke="#666" stroke-width="0.8"/>
<text x="22" y="262" font-family='"Liberation Sans", sans-serif' font-size="6.4" text-anchor="end" fill="#3a3a3a" stroke="#3a3a3a" stroke-width="0.22" textLength="10.5" lengthAdjust="spacingAndGlyphs">0.30</text>
<text x="22" y="287.7" font-family='"Liberation Sans", sans-serif' font-size="6.4" text-anchor="end" fill="#3a3a3a" stroke="#3a3a3a" stroke-width="0.22" textLength="10.5" lengthAdjust="spacingAndGlyphs">0.25</text>
<text x="22" y="313.5" font-family='"Liberation Sans", sans-serif' font-size="6.4" text-anchor="end" fill="#3a3a3a" stroke="#3a3a3a" stroke-width="0.22" textLength="10.5" lengthAdjust="spacingAndGlyphs">0.20</text>
<text x="22" y="339.2" font-family='"Liberation Sans", sans-serif' font-size="6.4" text-anchor="end" fill="#3a3a3a" stroke="#3a3a3a" stroke-width="0.22" textLength="10.5" lengthAdjust="spacingAndGlyphs">0.15</text>
<text x="22" y="365" font-family='"Liberation Sans", sans-serif' font-size="6.4" text-anchor="end" fill="#3a3a3a" stroke="#3a3a3a" stroke-width="0.22" textLength="10.5" lengthAdjust="spacingAndGlyphs">0.10</text>
<text x="22" y="390.7" font-family='"Liberation Sans", sans-serif' font-size="6.4" text-anchor="end" fill="#3a3a3a" stroke="#3a3a3a" stroke-width="0.22" textLength="10.5" lengthAdjust="spacingAndGlyphs">0.05</text>
<text x="24.5" y="418.8" font-family='"Liberation Sans", sans-serif' font-size="6.6" text-anchor="middle" fill="#333" stroke="#333" stroke-width="0.22" textLength="14" lengthAdjust="spacingAndGlyphs">1800</text>
<text x="78.4" y="418.8" font-family='"Liberation Sans", sans-serif' font-size="6.6" text-anchor="middle" fill="#333" stroke="#333" stroke-width="0.22" textLength="14" lengthAdjust="spacingAndGlyphs">1600</text>
<text x="132.3" y="418.8" font-family='"Liberation Sans", sans-serif' font-size="6.6" text-anchor="middle" fill="#333" stroke="#333" stroke-width="0.22" textLength="14" lengthAdjust="spacingAndGlyphs">1400</text>
<text x="186.2" y="418.8" font-family='"Liberation Sans", sans-serif' font-size="6.6" text-anchor="middle" fill="#333" stroke="#333" stroke-width="0.22" textLength="14" lengthAdjust="spacingAndGlyphs">1200</text>
<text x="240.1" y="418.8" font-family='"Liberation Sans", sans-serif' font-size="6.6" text-anchor="middle" fill="#333" stroke="#333" stroke-width="0.22" textLength="14" lengthAdjust="spacingAndGlyphs">1000</text>
<text x="294" y="418.8" font-family='"Liberation Sans", sans-serif' font-size="6.6" text-anchor="middle" fill="#333" stroke="#333" stroke-width="0.22" textLength="10.5" lengthAdjust="spacingAndGlyphs">800</text>
<text x="60.4" y="240.8" font-family='"Liberation Sans", sans-serif' font-size="6.6" text-anchor="middle" fill="#333" stroke="#333" stroke-width="0.22" textLength="3.6" lengthAdjust="spacingAndGlyphs">6</text>
<text x="124.6" y="240.8" font-family='"Liberation Sans", sans-serif' font-size="6.6" text-anchor="middle" fill="#333" stroke="#333" stroke-width="0.22" textLength="3.6" lengthAdjust="spacingAndGlyphs">7</text>
<text x="172.7" y="241.7" font-family='"Liberation Sans", sans-serif' font-size="6.6" text-anchor="middle" fill="#333" stroke="#333" stroke-width="0.22" textLength="3.6" lengthAdjust="spacingAndGlyphs">8</text>
<text x="210.2" y="240.8" font-family='"Liberation Sans", sans-serif' font-size="6.6" text-anchor="middle" fill="#333" stroke="#333" stroke-width="0.22" textLength="3.6" lengthAdjust="spacingAndGlyphs">9</text>
<text x="264.6" y="240.8" font-family='"Liberation Sans", sans-serif' font-size="6.6" text-anchor="middle" fill="#333" stroke="#333" stroke-width="0.22" textLength="7.2" lengthAdjust="spacingAndGlyphs">11</text>
<text x="302.3" y="240.8" font-family='"Liberation Sans", sans-serif' font-size="6.6" text-anchor="middle" fill="#333" stroke="#333" stroke-width="0.22" textLength="7.2" lengthAdjust="spacingAndGlyphs">13</text>
<text x="329.9" y="240.8" font-family='"Liberation Sans", sans-serif' font-size="6.6" text-anchor="middle" fill="#333" stroke="#333" stroke-width="0.22" textLength="7.2" lengthAdjust="spacingAndGlyphs">15</text>
<text x="159.4" y="231" font-family='"Liberation Sans", sans-serif' font-size="8.6" text-anchor="start" fill="#2a2a2a" stroke="#2a2a2a" stroke-width="0.22" textLength="59.4" lengthAdjust="spacingAndGlyphs">Wavelength (µm)</text>
<text x="155.8" y="433" font-family='"Liberation Sans", sans-serif' font-size="8.6" text-anchor="start" fill="#2a2a2a" stroke="#2a2a2a" stroke-width="0.22" textLength="67.1" lengthAdjust="spacingAndGlyphs">Wavenumber (cm<tspan dy="-3.6" font-size="4.6"> -1</tspan><tspan dy="3.6"> )</tspan></text>
<text transform="translate(5.5 329.8) rotate(-90)" x="0" y="0" font-family='"Liberation Sans", sans-serif' font-size="8.8" text-anchor="middle" dominant-baseline="central" fill="#2a2a2a" stroke="#2a2a2a" stroke-width="0.22" textLength="53.2" lengthAdjust="spacingAndGlyphs">Absorbance</text>
<text x="28.6" y="261.5" font-family='"Liberation Serif", serif' font-size="14" text-anchor="start" fill="#1a1a1a" stroke="#1a1a1a" stroke-width="0.28" textLength="25.4" lengthAdjust="spacingAndGlyphs">E50K</text>
<text x="29" y="277.2" font-family='"Liberation Serif", serif' font-size="15.5" text-anchor="start" fill="#1a1a1a" stroke="#1a1a1a" stroke-width="0.28" textLength="10.3" lengthAdjust="spacingAndGlyphs">b)</text>
<line x1="48.3" y1="308.1" x2="104.6" y2="308.1" stroke="#222" stroke-width="1.4"/>
<text x="47.8" y="318.2" font-family='"Liberation Serif", serif' font-size="9" text-anchor="start" fill="#222" stroke="#222" stroke-width="0.28" textLength="13.1" lengthAdjust="spacingAndGlyphs">H₂O</text>
<text x="76.8" y="335.8" font-family='"Liberation Serif", serif' font-size="9" text-anchor="start" fill="#222" stroke="#222" stroke-width="0.28" textLength="12.6" lengthAdjust="spacingAndGlyphs">50K</text>
<text x="77.6" y="388.4" font-family='"Liberation Serif", serif' font-size="9" text-anchor="start" fill="#222" stroke="#222" stroke-width="0.28" textLength="11.9" lengthAdjust="spacingAndGlyphs">13K</text>
<text x="156.9" y="259.9" font-family='"Liberation Serif", serif' font-size="9" text-anchor="start" fill="#222" stroke="#222" stroke-width="0.28" textLength="25.7" lengthAdjust="spacingAndGlyphs">SO₂ (<tspan font-style="italic">v</tspan>3)</text>
<text x="192.8" y="280.7" font-family='"Liberation Serif", serif' font-size="9" text-anchor="start" fill="#222" stroke="#222" stroke-width="0.28" textLength="25.7" lengthAdjust="spacingAndGlyphs">SO₂ (<tspan font-style="italic">v</tspan>1)</text>
<text x="209.2" y="361.8" font-family='"Liberation Serif", serif' font-size="9" text-anchor="start" fill="#222" stroke="#222" stroke-width="0.28" textLength="13" lengthAdjust="spacingAndGlyphs">NH₃</text>
<line x1="276.6" y1="259.3" x2="318.9" y2="259.3" stroke="#222" stroke-width="1.4"/>
<text x="275.6" y="269.1" font-family='"Liberation Serif", serif' font-size="9" text-anchor="start" fill="#222" stroke="#222" stroke-width="0.28" textLength="13.3" lengthAdjust="spacingAndGlyphs">H₂O</text>
<text x="313.6" y="285.3" font-family='"Liberation Serif", serif' font-size="9" text-anchor="start" fill="#222" stroke="#222" stroke-width="0.28" textLength="13.7" lengthAdjust="spacingAndGlyphs">CO₂</text>
<line x1="348.7" y1="329" x2="348.7" y2="405.8" stroke="#444" stroke-width="1.6"/>
<path d="M347.9 323.7 L351.3 329.8 L346.6 329.8 Z" fill="#111"/>
<text transform="translate(355.6 376.5) rotate(-90)" x="0" y="0" font-family='"Liberation Serif", serif' font-size="9.5" text-anchor="middle" dominant-baseline="central" fill="#111" stroke="#111" stroke-width="0.28" textLength="58.5" lengthAdjust="spacingAndGlyphs">Temperature</text>
<clipPath id="cD"><rect x="398.9" y="244.4" width="318" height="159.8"/></clipPath>
<g clip-path="url(#cD)"><g filter="url(#soft)" fill="none" stroke-linejoin="round" stroke-width="0.75">
<path d="M398.5 358.9L399 358.8 399.5 358 400 358.1 400.5 358.2 401 357.7 401.5 357.5 402 357.5 402.5 356.9 403 357.6 403.5 357.6 404 357 404.5 356.5 405 355.8 405.5 354.7 406 354.5 406.5 354.2 407 354.8 407.5 354.3 408 354.3 408.5 353.4 409 352.3 409.5 352.3 410 352.1 410.5 352 411 351.1 411.5 350.4 412 349.8 412.5 349.7 413 349.8 413.5 349.4 414 349.1 414.5 348.4 415 347.1 415.5 346.4 416 346 416.5 345.4 417 346.1 417.5 345.4 418 345.1 418.5 343.9 419 343.9 419.5 342.8 420 342.6 420.5 342.7 421 341 421.5 340 422 339 422.5 338.3 423 338 423.5 338 424 337.2 424.5 336.5 425 334.9 425.5 333.9 426 332.6 426.5 332.7 427 332.2 427.5 331.9 428 331.1 428.5 330 429 329.2 429.5 329 430 328.2 430.5 327.6 431 326.9 431.5 325.6 432 324.6 432.5 324.2 433 324.4 433.5 324.1 434 323.1 434.5 322.2 435 320.7 435.5 320.1 436 319.6 436.5 318.7 437 318.9 437.5 318.3 438 317.4 438.5 316.4 439 315.5 439.5 315.6 440 314.9 440.5 314.3 441 313.3 441.5 311.9 442 311.7 442.4 311.8 442.5 312 443 312.1 443.5 313.2 444 313.3 444.5 313.4 445 313.6 445.5 314.2 446 314.8 446.5 315.7 447 317 447.5 318.4 448 318.6 448.5 319.8 449 321.3 449.5 323 450 323.1 450.4 324.3 450.5 323.8 451 323.7 451.5 322.5 452 321.6 452.5 321 453 321 453.5 321.4 454 320.6 454.5 319.2 455 318 455.5 316.5 456 315.6 456.5 316 457 315.7 457.5 314.9 458 313.4 458.5 312.2 459 312 459.5 311.5 460 310.6 460.5 310 461 307.6 461.5 306 462 304.9 462.5 304.6 463 304.9 463.5 304.2 464 303.9 464.5 301.3 464.9 302.9 465 302.6 465.5 302.7 466 303.3 466.5 304.4 467 305.1 467.5 305.8 468 306.5 468.5 308.5 469 309.9 469.5 312.1 470 313.5 470.5 314 471 316.1 471.5 316.9 472 318.1 472.5 320.3 473 322.6 473.5 324 474 325.6 474.5 325.8 475 327.2 475.5 327.8 475.6 327.2 476 327.2 476.5 327.7 477 326.9 477.5 325.7 478 322.9 478.5 324.8 479 324.8 479.5 325.3 480 325 480.5 325 480.6 324.8 481 324.3 481.5 324.2 482 325.1 482.5 326.2 483 328.2 483.5 329.7 484 330.1 484.5 330.4 485 331.1 485.5 332.4 486 333.6 486.5 335 487 335 487.5 334.8 488 335.8 488.2 336.2 488.5 336.8 489 337.5 489.5 339.1 490 339.2 490.5 339.7 491 339.3 491.5 339.3 492 339.1 492.5 339.7 493 340.8 493.5 341.7 494 340.5 494.5 341.4 495 341.1 495.5 341.7 496 341.8 496.5 342.5 497 342.1 497.5 341.6 498 341.3 498.5 341.2 499 341.5 499.5 341.2 500 340.7 500.5 339.3 501 339.1 501.5 338.2 502 337.8 502.5 337.1 503 336.9 503.5 335.9 504 335.3 504.5 334.5 505 333.9 505.5 334.2 506 333.6 506.5 333 507 332.4 507.5 331.6 508 330.2 508.3 331.3 508.5 331.2 509 331.8 509.5 333 510 333.7 510.5 333.7 511 334.3 511.5 336.1 512 337.8 512.5 339.4 513 341.8 513.5 343.6 514 344.1 514.5 345.9 515 347.6 515.5 348.8 516 350.6 516.5 351.5 517 352.5 517.5 353.5 518 353.8 518.5 355.2 519 357.3 519.5 358.2 520 358.8 520.3 358.8 520.5 358.1 521 356.6 521.3 355 521.5 349.9 522 320 522.5 276.3 522.9 248 523 244.5 523.5 228.4 524 214.3 524.5 202.4 525 192.9 525.5 185.8 526 181.5 526.5 180 527 181.9 527.5 187.2 528 195.2 528.5 205.2 529 216.3 529.5 228.1 530 239.6 530.2 244 530.5 251.2 531 264.7 531.2 270 531.5 277.8 532 290.5 532.2 295 532.5 301 533 310.1 533.5 318 534 325.1 534.5 331.4 535 337 535.5 342 536 346.4 536.5 350 537 353.1 537.5 355.6 537.9 356.7 538 356.8 538.5 357.5 539 358.1 539.5 358.6 540 359 540.5 359.4 541 359.7 541.5 360 542 360.2 542.5 360.5 543 360.7 543.5 360.9 544 361.1 544.5 361.3 545 361.5 545.5 361.7 546 362 546.5 362.2 547 362.4 547.5 362.7 548 362.9 548.5 363.1 549 363.3 549.5 363.5 550 363.7 550.5 363.9 551 364.1 551.5 364.2 552 364.4 552.5 364.5 553 364.6 553.5 364.7 554 364.7 554.5 364.8 555 364.8 555.5 364.8 556 364.8 556.5 364.8 557 364.7 557.5 364.7 558 364.7 558.5 364.6 559 364.6 559.5 364.6 560 364.5 560.5 364.4 561 364.3 561.5 364.1 562 363.9 562.5 363.6 563 363.3 563.5 362.9 564 362.6 564.5 362.2 565 361.8 565.5 361.4 566 361 566.5 360.6 567 360.1 567.5 359.5 568 358.9 568.5 358.2 569 357.5 569.5 356.8 570 355.9 570.5 354.4 570.6 354 571 347.8 571.3 340 571.5 332.4 571.8 320 572 314.4 572.5 302.8 573 293 573.4 285 573.5 282.7 574 270.2 574.2 268.4 574.5 274.4 574.9 290 575 293.5 575.5 312.5 575.7 320 576 331.9 576.2 338 576.5 343.7 576.8 347 577 348 577.5 349.6 578 350.5 578.5 351.2 579 351.7 579.5 352.1 580 352.4 580.5 352.7 581 353 581.5 353.3 582 353.6 582.5 353.7 583 353.8 583.5 353.8 584 353.8 584.5 353.8 585 353.7 585.5 353.7 586 353.7 586.5 353.6 587 353.6 587.5 353.5 588 353.5 588.5 353.4 589 353.3 589.5 353.3 590 353.2 590.5 353.1 591 353 591.5 352.8 592 352.7 592.5 352.5 593 352.5 593.5 352.6 594 352.7 594.5 353 595 353.2 595.5 353.5 596 353.8 596.5 353.9 597 354 597.5 353.8 598 353.3 598.5 352.6 599 351.8 599.5 350.8 600 349.8 600.5 348.8 601 348 601.5 347.2 602 346.2 602.5 345.2 603 344.2 603.5 343.3 604 342.5 604.5 341.9 605 341.6 605.3 341.5 605.5 341.6 606 342.2 606.5 343.2 607 344.5 607.5 345.7 608 346.6 608.5 347 609 346.9 609.5 346.6 610 346.2 610.5 345.9 611 345.6 611.5 345.5 612 345.7 612.5 346.3 613 347.1 613.5 348.1 614 349 614.5 350 615 351.1 615.5 352.4 616 353.7 616.5 354.9 617 356 617.5 357.1 618 358.3 618.5 359.5 619 360.6 619.5 361.6 620 362.3 620.5 362.7 620.7 362.7 621 362.6 621.5 362.4 622 361.9 622.5 361.3 623 360.7 623.5 360 624 359.5 624.5 359 625 358.6 625.5 358.1 626 357.7 626.5 357.2 627 356.7 627.5 356.1 628 355.5 628.5 354.9 629 354.2 629.5 353.6 630 352.9 630.5 352.1 631 351.4 631.5 350.7 632 350 632.5 349.3 633 348.6 633.5 347.8 634 347.1 634.5 346.4 635 345.6 635.5 344.8 636 344 636.5 343.2 637 342.4 637.5 341.6 638 340.8 638.5 339.9 639 339 639.5 338 640 336.9 640.5 335.6 641 334.2 641.5 332.6 642 330.9 642.5 329.1 643 327.2 643.5 325.4 644 323.5 644.5 321.7 645 320 645.5 318.3 646 316.6 646.5 314.8 647 313 647.5 311.2 648 309.5 648.5 307.9 649 306.4 649.5 305 650 303.7 650.5 302.6 651 301.5 651.5 300.5 652 299.6 652.5 298.7 653 297.8 653.5 297 654 296.1 654.5 295.3 655 294.5 655.5 293.7 656 292.8 656.5 292 657 291.3 657.5 290.6 658 290 658.5 289.5 659 288.9 659.5 288.4 660 288 660.5 287.7 661 287.6 661.5 287.8 662 288.3 662.5 288.8 663 289.3 663.5 289.5 664 289.4 664.5 289.2 665 289 665.5 288.7 666 288.5 666.5 288.3 667 288.2 667.5 288 668 287.9 668.5 287.8 669 287.7 669.5 287.6 670 287.6 670.5 287.6 671 287.7 671.5 287.7 672 287.8 672.5 287.9 673 288 673.5 288.1 674 288.2 674.5 288.3 675 288.5 675.5 288.6 676 288.8 676.5 289 677 289.2 677.5 289.4 678 289.7 678.5 290.1 679 290.4 679.5 290.8 680 291.3 680.5 291.7 681 292.1 681.5 292.6 682 293 682.5 293.4 683 293.9 683.5 294.4 684 294.9 684.5 295.4 685 295.9 685.5 296.5 686 297 686.5 297.6 687 298.2 687.5 298.8 688 299.4 688.5 300 689 300.7 689.5 301.3 690 302 690.5 302.7 691 303.4 691.5 304.1 692 304.8 692.5 305.6 693 306.4 693.5 307.1 694 307.9 694.5 308.7 695 309.5 695.5 310.3 696 310.9 696.5 311.6 697 312.3 697.5 313 698 313.7 698.5 314.6 699 315.6 699.5 316.7 700 318.1 700.5 320.9 701 325.3 701.5 329.3 702 331 702.5 326.2 703 315.8 703.5 306 704 298.2 704.5 290.9 705 286 705.5 283.2 706 281 706.5 280.2 707 283.9 707.4 289 707.5 290.2 708 297.8 708.3 302 708.5 304.3 709 309.5 709.5 314 710 318 710.5 321.5 711 325 711.5 328.4 712 331.7 712.5 335 712.8 337 713 338.4 713.5 341.9 714 345.4 714.5 349 715 352.8 715.5 356.7 716 360.6 716.5 364.1 716.8 366 717 367.1 717.5 369.7 718 372" stroke="#9e45b8" stroke-opacity="0.85"/>
<path d="M398.5 366L399 365.9 399.5 365 400 365.3 400.5 365.4 401 365.8 401.5 365 402 365.2 402.5 364.5 403 364.5 403.5 365.1 404 364.8 404.5 364.2 405 363.5 405.5 362.6 406 362.2 406.5 362.1 407 362.7 407.5 363.1 408 362.1 408.5 361.7 409 360.5 409.5 360.1 410 359.6 410.5 360 411 359.5 411.5 358.6 412 357.8 412.5 357.3 413 357.3 413.5 357.2 414 357.2 414.5 356 415 354.9 415.5 353.9 416 353.7 416.5 352.9 417 353.2 417.5 353.1 418 351.7 418.5 351 419 350.1 419.5 349.2 420 349.1 420.5 348.7 421 347.7 421.5 346.9 422 346 422.5 344.7 423 344.9 423.5 345.3 424 344.9 424.5 343.7 425 342.7 425.5 341.6 426 340.8 426.5 341.1 427 340.9 427.5 340.1 428 340.2 428.5 339.3 429 338.5 429.5 337.6 430 337.1 430.5 336.9 431 335.8 431.5 334.4 432 333.4 432.5 332.2 433 332.2 433.5 331.4 434 331.2 434.5 330.5 435 328.2 435.5 326.9 436 326.2 436.5 326 437 325.4 437.5 325.1 438 324.4 438.5 323.4 439 322.4 439.5 322.6 440 322.4 440.5 322.2 441 321.2 441.5 320.1 442 319.6 442.5 320 443 320.6 443.5 322 444 323 444.5 323.5 445 324.4 445.5 325.6 446 327.7 446.5 328.9 447 330.6 447.5 332.4 448 332 448.5 332.9 449 333.5 449.5 334 450 333.5 450.5 335.2 451 335 451.5 335.1 452 334.6 452.5 334.6 453 336.4 453.5 336.9 454 336.9 454.5 336.7 455 336.5 455.5 335.9 456 335.2 456.5 337 457 337.2 457.5 337.4 458 337.2 458.5 337 459 336.9 459.5 337.9 460 337.8 460.5 338.1 461 337.2 461.5 337.1 462 336.9 462.5 337 463 337.8 463.5 339.1 464 339.1 464.5 334.8 465 338.2 465.5 337.7 466 338.1 466.5 338.2 467 338.7 467.5 338.7 468 338.3 468.5 338.1 469 339 469.5 339 470 339.8 470.5 338.1 471 338.8 471.5 338.4 472 337.7 472.5 338.3 473 339.3 473.5 339.4 474 339.7 474.5 339.5 475 339.1 475.5 339.2 476 339.4 476.5 339.5 477 339.1 477.5 339.4 478 335.6 478.5 339 479 339.5 479.4 339.7 479.5 340.3 480 340.5 480.5 340.1 481 339.9 481.5 339.5 482 339.2 482.5 339.7 483 340.8 483.5 341.1 484 341.2 484.5 341.1 485 340.8 485.5 340.8 486 341.2 486.5 341.9 487 342 487.5 340.2 488 341.2 488.5 341.7 489 342.6 489.5 343.4 490 343.5 490.5 343.9 491 343.5 491.5 343 492 343.3 492.5 342.7 493 344.1 493.5 344.6 494 344.1 494.5 344.8 495 345.1 495.5 345.1 496 345.7 496.5 346 497 346.5 497.5 346 498 346.1 498.5 346.6 499 347.2 499.5 347.9 500 348.5 500.5 347.2 501 349 501.5 348.2 502 348.7 502.5 349.5 503 349.9 503.5 350.6 504 350.4 504.5 350.5 505 350.5 505.5 350.2 506 350.8 506.5 350.7 507 350.6 507.5 350.1 508 348 508.5 349.1 509 349.7 509.1 350.4 509.5 350.9 510 351.5 510.5 351.6 511 351.7 511.5 352.3 512 353.2 512.5 354.6 513 355.4 513.5 355.9 514 355.8 514.5 356 515 357 515.5 358.3 516 359 516.5 359.6 517 360 517.5 360.4 518 360.3 518.5 361.8 519 362.4 519.5 363.5 520 364 520.3 364.1 520.5 363.4 521 361.8 521.3 360 521.5 354.1 522 320 522.5 275.8 522.9 248 523 244.5 523.5 228.4 524 214.3 524.5 202.4 525 192.9 525.5 185.8 526 181.5 526.5 180 527 181.9 527.5 187.1 528 194.9 528.5 204.8 529 215.9 529.5 227.7 530 239.5 530.2 244 530.5 251.6 531 266.2 531.2 272 531.5 280.7 532 295 532.2 300 532.5 306.7 533 316.7 533.5 325 534 331.9 534.5 337.8 535 343 535.5 347.9 536 352.4 536.5 356.2 536.8 358 537 359 537.5 361.5 538 363.6 538.5 365 538.8 365.5 539 365.7 539.5 366.2 540 366.6 540.5 366.9 541 367.2 541.5 367.5 542 367.7 542.5 367.9 543 368.1 543.5 368.2 544 368.4 544.5 368.5 545 368.6 545.5 368.7 546 368.8 546.5 368.9 547 369 547.5 369.1 548 369.2 548.5 369.2 549 369.3 549.5 369.4 550 369.5 550.5 369.5 551 369.6 551.5 369.6 552 369.7 552.5 369.7 553 369.7 553.5 369.8 554 369.8 554.5 369.8 555 369.8 555.5 369.8 556 369.8 556.5 369.8 557 369.8 557.5 369.7 558 369.7 558.5 369.7 559 369.7 559.5 369.6 560 369.6 560.5 369.6 561 369.5 561.5 369.4 562 369.3 562.5 369.2 563 369.1 563.5 368.9 564 368.8 564.5 368.6 565 368.4 565.5 368.2 566 368 566.5 367.7 567 367.4 567.5 366.9 568 366.3 568.5 365.7 569 365 569.5 364.3 570 363.2 570.5 361.5 570.6 361 571 353.8 571.3 345 571.5 337.4 571.8 325 572 318.8 572.5 305.3 573 293.6 573.4 285 573.5 282.7 574 271.6 574.2 270 574.5 276 574.9 292 575 295.7 575.5 316.6 575.7 325 576 338.3 576.2 345 576.5 350.8 576.8 354 577 355 577.5 356.6 578 357.5 578.5 358.1 579 358.5 579.5 358.8 580 358.9 580.5 358.8 581 358.6 581.5 358.3 582 357.8 582.5 357.4 583 356.8 583.5 356.3 584 355.7 584.5 355.2 585 354.7 585.5 354.3 586 354 586.5 353.8 587 353.5 587.5 353.3 588 353 588.5 352.8 589 352.6 589.5 352.3 590 352.2 590.5 352 591 351.8 591.5 351.7 592 351.6 592.5 351.5 593 351.5 593.2 351.5 593.5 351.5 594 351.5 594.5 351.6 595 351.6 595.5 351.7 596 351.7 596.5 351.8 597 351.9 597.5 351.9 598 352 598.5 352.1 599 352.1 599.5 352.2 600 352.3 600.5 352.4 601 352.4 601.5 352.5 602 352.6 602.5 352.7 603 352.9 603.5 353 604 353.2 604.5 353.3 605 353.5 605.5 353.8 606 354.4 606.5 355.1 607 355.9 607.5 356.7 608 357.4 608.5 357.8 609 358 609.5 357.9 610 357.8 610.5 357.6 611 357.4 611.5 357.2 612 357.1 612.5 357 613 357.4 613.5 358.3 614 359.5 614.5 360.8 615 362 615.5 363.1 616 364.2 616.5 365.4 617 366.4 617.5 367.3 618 368 618.5 368.5 619 369 619.5 369.4 620 369.8 620.5 370.1 621 370.3 621.5 370.4 621.6 370.4 622 370.4 622.5 370.2 623 369.9 623.5 369.6 624 369.2 624.5 368.7 625 368.2 625.5 367.7 626 367.1 626.5 366.5 627 366 627.5 365.4 628 364.8 628.5 364.1 629 363.4 629.5 362.6 630 361.8 630.5 361 631 360.2 631.5 359.3 632 358.5 632.5 357.7 633 357 633.5 356.3 634 355.6 634.5 355 635 354.4 635.5 353.7 636 353.1 636.5 352.5 637 351.9 637.5 351.2 638 350.5 638.5 349.8 639 349 639.5 348.1 640 347.2 640.5 346.2 641 345 641.5 343.6 642 342.2 642.5 340.7 643 339.2 643.5 337.6 644 336 644.5 334.5 645 333 645.5 331.5 646 330 646.5 328.5 647 327 647.5 325.4 648 323.9 648.5 322.4 649 320.9 649.5 319.4 650 318 650.5 316.6 651 315.2 651.5 313.8 652 312.5 652.5 311.1 653 309.8 653.5 308.5 654 307.3 654.5 306.1 655 305 655.5 303.9 656 302.8 656.5 301.6 657 300.5 657.5 299.4 658 298.4 658.5 297.4 659 296.5 659.5 295.7 660 295 660.5 294.4 661 294 661.5 293.7 662 293.4 662.5 293.1 663 292.8 663.5 292.6 664 292.4 664.5 292.2 665 292.1 665.5 292 666 292 666.5 292 667 292.1 667.5 292.1 668 292.2 668.5 292.3 669 292.4 669.5 292.4 670 292.5 670.5 292.6 671 292.6 671.5 292.6 672 292.7 672.5 292.7 673 292.8 673.5 292.8 674 292.9 674.5 292.9 675 293 675.5 293.1 676 293.2 676.5 293.4 677 293.6 677.5 293.8 678 294 678.5 294.2 679 294.5 679.5 294.7 680 295 680.5 295.3 681 295.6 681.5 296 682 296.4 682.5 296.9 683 297.4 683.5 297.9 684 298.4 684.5 298.9 685 299.5 685.5 300.1 686 300.7 686.5 301.4 687 302.2 687.5 302.9 688 303.7 688.5 304.5 689 305.3 689.5 306.1 690 306.9 690.5 307.7 691 308.4 691.5 309.2 692 309.9 692.5 310.7 693 311.5 693.5 312.3 694 313.2 694.5 314.1 695 315 695.5 316 696 317 696.5 318.1 697 319.2 697.5 320.4 698 321.6 698.5 322.8 699 324.2 699.5 325.6 700 327 700.5 329 701 331.3 701.5 333.4 702 334.2 702.5 329.6 703 319.7 703.5 310 704 301.7 704.5 293.7 705 288 705.5 284.4 706 281.6 706.5 280.5 707 284.5 707.4 290 707.5 291.3 708 298.9 708.3 303 708.5 305.3 709 310.5 709.5 315 710 319 710.5 322.5 711 326 711.5 329.4 712 332.8 712.5 336 712.8 338 713 339.3 713.5 342.6 714 345.8 714.5 349 715 352.3 715.5 355.6 716 358.8 716.5 361.6 716.8 363 717 363.8 717.5 365.6 718 367" stroke="#f7a845" stroke-opacity="0.85"/>
<path d="M398.5 372L399 371.8 399.5 370.9 400 370.9 400.5 371 401 371 401.5 371 402 370.2 402.5 369.9 403 370.2 403.5 369.9 404 370.1 404.5 369.8 405 368.8 405.5 367.9 406 367.6 406.5 367.1 407 368 407.5 368.5 408 368.2 408.5 367.5 409 366.9 409.5 365.5 410 365.5 410.5 365.6 411 365.5 411.5 364.9 412 364.3 412.5 364.2 413 363.7 413.5 364.1 414 364 414.5 363.9 415 362.6 415.5 361.1 416 360.8 416.5 361.4 417 361.2 417.5 361.2 418 361.2 418.5 360.4 419 359.5 419.5 358.7 420 358.6 420.5 358.5 421 357.5 421.5 356.8 422 355.9 422.5 355 423 354.8 423.5 354.3 424 353.9 424.5 353 425 351 425.5 349.9 426 348.7 426.5 348.9 427 349.2 427.5 348.8 428 347.8 428.5 346 429 345.1 429.5 344.7 430 343.9 430.5 343.6 431 342.6 431.5 341.2 432 340.1 432.5 338.8 433 338.7 433.5 338.1 434 337.8 434.5 335.8 435 334.5 435.5 333.6 436 332.4 436.5 331.4 437 331.7 437.5 331 438 329.8 438.5 328.6 439 327.3 439.5 327.1 440 326.4 440.5 325.8 441 324.6 441.5 323.3 442 323 442.5 323.1 443 324.2 443.5 325.5 444 327.2 444.5 328.1 445 329.8 445.5 331.4 446 332.9 446.4 335 446.5 335.5 447 337 447.5 338.1 448 340 448.5 341.7 449 342.5 449.5 343.8 449.6 342 450 344.7 450.5 345.7 451 345.7 451.5 345.8 452 345.7 452.5 346.3 453 347.1 453.5 348.4 454 349 454.5 348.7 455 348.5 455.5 348.3 456 346.9 456.5 349.2 457 350.3 457.5 349.6 458 349.6 458.5 349.4 459 349.5 459.5 350.3 460 350.9 460.5 350.6 461 350.2 461.5 349.3 462 348.8 462.5 349.8 463 350.7 463.5 351.2 464 351.2 464.1 351.6 464.5 345.2 465 350.4 465.5 350.2 466 350.2 466.5 350.6 467 350.6 467.5 350.5 468 350.1 468.5 350.2 469 350.5 469.5 350.4 470 351.2 470.5 348.4 471 350.1 471.5 349.6 472 348.9 472.1 349.1 472.5 349.8 473 350.1 473.5 350.8 474 350.5 474.5 349.7 475 348.9 475.5 348.7 476 348.4 476.5 348.3 477 348.3 477.5 348.1 478 341.9 478.5 347.5 479 347.4 479.4 348.1 479.5 348.4 480 348.6 480.5 348.2 481 348 481.5 347.2 482 347 482.5 347.4 483 348.1 483.5 348.2 484 349 484.5 348.6 485 348.6 485.5 349.4 486 349.3 486.5 349.7 487 349.8 487.5 347.1 488 350.2 488.2 350.1 488.5 350.6 489 350.8 489.5 351.8 490 353.4 490.5 352.8 491 352.4 491.5 352 492 352.8 492.5 353 493 353.9 493.5 355.2 494 353.6 494.5 355.1 495 355.4 495.5 355.8 496 356.9 496.5 357 497 357.6 497.5 357.3 498 356.9 498.5 357.4 499 358.3 499.5 359.9 500 360.3 500.5 358 501 360 501.5 360.5 502 360.3 502.5 361 503 361.6 503.5 362.4 504 363 504.3 361.9 504.5 362 505 362.2 505.5 362.5 506 363.5 506.5 363.6 507 363.1 507.5 363.1 508 360.4 508.5 362.3 509 363.7 509.5 364.3 510 364.7 510.5 364.8 511 364 511.5 364.2 512 364.4 512.5 364.4 513 365.3 513.5 365.4 514 364 514.5 365.7 515 365.2 515.5 366.2 516 367 516.5 367.5 517 367.5 517.5 367 518 367.3 518.5 367.3 519 368.1 519.5 369.6 520 369.6 520.3 369.7 520.5 368.5 521 366.8 521.3 365 521.5 359.1 522 325 522.5 277.8 522.9 248 523 244.5 523.5 228.2 524 214 524.5 202.1 525 192.6 525.5 185.7 526 181.4 526.5 180 527 181.9 527.5 187 528 194.8 528.5 204.6 529 215.7 529.5 227.5 530 239.4 530.2 244 530.5 251.8 531 266.9 531.2 273 531.5 282.2 532 297.5 532.2 303 532.5 310.6 533 322.3 533.5 332 534 339.9 534.5 346.6 535 352 535.5 356.5 536 360.5 536.5 363.7 537 366 537.5 367.6 538 369 538.5 370.1 539 370.8 539.2 371 539.5 371.2 539.8 371.4 540 371.5 540.5 371.8 541 372 541.5 372.3 542 372.4 542.5 372.6 543 372.8 543.5 372.9 544 373 544.5 373.1 545 373.2 545.5 373.3 546 373.4 546.5 373.5 547 373.6 547.5 373.7 548 373.8 548.5 373.9 549 373.9 549.5 374 550 374.1 550.5 374.2 551 374.2 551.5 374.3 552 374.3 552.5 374.4 553 374.4 553.5 374.5 554 374.5 554.5 374.5 555 374.5 555.5 374.5 556 374.5 556.5 374.5 557 374.5 557.5 374.5 558 374.5 558.5 374.5 559 374.5 559.5 374.5 560 374.5 560.5 374.5 561 374.4 561.5 374.4 562 374.3 562.5 374.2 563 374.1 563.5 373.9 564 373.8 564.5 373.6 565 373.4 565.5 373.2 566 373 566.5 372.8 567 372.5 567.5 372.1 568 371.6 568.5 371.1 569 370.5 569.5 369.8 570 368.8 570.5 367 570.6 366.5 571 359.2 571.3 350 571.5 341.6 571.8 328 572 321.6 572.5 308.1 573 296.7 573.4 288 573.5 285.6 574 273.7 574.2 272 574.5 278.4 574.9 295 575 298.7 575.5 319.4 575.7 328 576 342.5 576.2 350 576.5 356.4 576.8 360 577 361 577.5 362.7 578 363.5 578.5 363.9 579 364.2 579.5 364.4 580 364.5 580.5 364.4 581 364.2 581.5 363.8 582 363.3 582.5 362.7 583 362.1 583.5 361.4 584 360.7 584.5 360.1 585 359.5 585.5 358.9 586 358.5 586.5 358.1 587 357.7 587.5 357.3 588 356.8 588.5 356.4 589 356 589.5 355.6 590 355.2 590.5 354.9 591 354.6 591.5 354.3 592 354.1 592.5 353.9 593 353.8 593.5 353.8 594 353.9 594.5 354 595 354.3 595.5 354.6 596 355 596.5 355.4 597 355.8 597.5 356.1 598 356.5 598.5 356.8 599 357.2 599.5 357.5 600 357.9 600.5 358.2 601 358.6 601.5 358.9 602 359.3 602.5 359.7 603 360.1 603.5 360.6 604 361 604.5 361.5 605 362 605.5 362.6 606 363.4 606.5 364.3 607 365.3 607.5 366.1 608 366.8 608.5 367.3 609 367.5 609.5 367.4 610 367.3 610.5 367.1 611 366.9 611.5 366.7 612 366.6 612.5 366.5 613 366.8 613.5 367.7 614 368.8 614.5 370 615 371 615.5 371.9 616 372.7 616.5 373.6 617 374.4 617.5 375 618 375.5 618.2 375.6 618.5 375.8 619 376.2 619.5 376.5 620 376.8 620.5 377 621 377.2 621.5 377.3 622 377.3 622.5 377.2 623 377.1 623.5 376.8 624 376.4 624.5 376 625 375.5 625.5 374.9 626 374.4 626.5 373.8 627 373.2 627.5 372.6 628 372 628.5 371.4 629 370.8 629.5 370.1 630 369.3 630.5 368.6 631 367.8 631.5 367 632 366.2 632.5 365.4 633 364.5 633.5 363.8 634 363 634.5 362.3 635 361.6 635.5 360.9 636 360.2 636.5 359.5 637 358.9 637.5 358.2 638 357.4 638.5 356.7 639 355.9 639.5 355 640 354.1 640.5 353.1 641 352 641.5 350.8 642 349.5 642.5 348.1 643 346.7 643.5 345.2 644 343.7 644.5 342.2 645 340.7 645.5 339.2 646 337.6 646.5 336.2 647 334.7 647.5 333.3 648 332 648.5 330.7 649 329.4 649.5 328.2 650 326.9 650.5 325.7 651 324.5 651.5 323.2 652 322 652.5 320.8 653 319.7 653.5 318.5 654 317.3 654.5 316.1 655 315 655.5 313.8 656 312.6 656.5 311.4 657 310.2 657.5 309 658 307.8 658.5 306.6 659 305.6 659.5 304.5 660 303.6 660.5 302.7 661 302 661.5 301.3 662 300.6 662.5 300 663 299.3 663.5 298.6 664 298 664.5 297.5 665 297 665.5 296.5 666 296.2 666.5 295.9 667 295.8 667.5 295.7 668 295.7 668.5 295.7 669 295.7 669.5 295.7 670 295.7 670.5 295.8 671 295.8 671.5 295.8 672 295.8 672.5 295.8 673 295.9 673.5 295.9 674 295.9 674.5 296 675 296 675.4 296 675.5 296.1 676 296.1 676.5 296.3 677 296.4 677.5 296.6 678 296.8 678.5 297 679 297.3 679.5 297.5 680 297.8 680.5 298.1 681 298.4 681.5 298.7 682 299 682.5 299.3 683 299.7 683.5 300.2 684 300.7 684.5 301.3 685 301.8 685.5 302.5 686 303.1 686.5 303.8 687 304.5 687.5 305.2 688 306 688.5 306.7 689 307.5 689.5 308.2 690 309 690.5 309.8 691 310.5 691.5 311.4 692 312.2 692.5 313.1 693 313.9 693.5 314.9 694 315.8 694.5 316.8 695 317.7 695.5 318.8 696 319.8 696.5 320.9 697 322 697.5 323.2 698 324.4 698.5 325.7 699 327.1 699.5 328.5 700 330 700.5 332 701 334.3 701.5 336.2 702 337 702.5 332.3 703 321.9 703.5 312 704 303.8 704.5 295.9 705 290 705.5 285.8 706 282.4 706.5 281 707 285.3 707.4 291 707.5 292.3 708 299.9 708.3 304 708.5 306.3 709 311.5 709.5 316 710 320 710.5 323.5 711 327 711.5 330.4 712 333.8 712.5 337 712.8 339 713 340.3 713.5 343.5 714 346.8 714.5 350 715 353.4 715.5 357.1 716 360.5 716.5 363.6 716.8 365 717 365.8 717.5 367.6 718 369" stroke="#40a040" stroke-opacity="0.85"/>
<path d="M398.5 377.4L399 377.2 399.5 376.4 400 376.8 400.5 376.8 401 376.6 401.5 376.5 402 375.8 402.5 375.7 403 375.6 403.5 376 404 375.9 404.5 375.6 405 374.5 405.5 373.8 406 373.2 406.5 373.6 407 373.9 407.5 374 408 373.5 408.5 372.7 409 372.1 409.5 370.9 410 371.7 410.5 370.8 411 371.1 411.5 370.5 412 370.1 412.5 369.6 413 369.5 413.5 369.6 414 369.7 414.5 369.4 415 367.8 415.5 366.2 416 366.2 416.5 366.4 417 367.4 417.5 366.4 418 365.9 418.5 365.3 419 364.3 419.5 363.4 420 363.7 420.5 362.8 421 362.4 421.5 361.7 422 360.1 422.5 359.6 423 359.8 423.5 359.1 424 358.4 424.5 357.3 425 356.2 425.5 354.3 426 353.7 426.5 353.2 427 353.1 427.5 353.2 428 351.9 428.5 350.6 429 349.7 429.5 348.7 430 348 430.5 347.8 431 346.6 431.5 344.8 432 343.9 432.5 343.3 433 342.6 433.5 342.3 434 341 434.5 339.9 435 337.7 435.5 337 436 335.8 436.5 335.7 437 334.7 437.5 334.4 438 332.6 438.5 331.6 439 330.9 439.5 330.3 440 329.6 440.5 328.5 441 328.1 441.5 326.9 442 326.3 442.5 326.4 443 327 443.5 328.7 444 330.8 444.5 331.1 445 332.9 445.5 334.5 446 337.3 446.4 338.7 446.5 338.8 447 341.1 447.5 342.6 448 343.6 448.5 344.8 449 346.7 449.5 348.1 449.6 346.8 450 349.4 450.5 350.4 451 351 451.5 350.3 452 350.5 452.5 351.9 453 353.4 453.5 353.6 454 353.8 454.5 354.1 455 353.7 455.5 353.9 456 352.3 456.5 354.6 457 355.1 457.5 354.9 458 354.8 458.5 355.2 459 355.6 459.5 355.8 460 356.8 460.5 356.6 461 356 461.5 355.5 462 355.3 462.5 355.8 463 356.7 463.5 357.1 464 356.6 464.1 357 464.5 351.4 465 355.9 465.5 356.1 466 355.7 466.5 356.7 467 356.5 467.5 356.1 468 355.9 468.5 356.6 469 356.7 469.5 356.7 470 357.3 470.5 355.2 471 355.9 471.5 355.4 472 355.5 472.1 355.4 472.5 355.5 473 356.5 473.5 356.6 474 356.5 474.5 356.3 475 355.1 475.5 355.4 476 354.8 476.5 354.8 477 354.7 477.5 354.4 478 349.6 478.5 353.7 479 353.6 479.4 354.1 479.5 354.4 480 355 480.5 355 481 353.4 481.5 353.5 482 353.4 482.5 354.1 483 354.9 483.5 355.2 484 355.1 484.5 355.5 485 355.3 485.5 355.2 486 355.8 486.5 356.1 487 356.1 487.5 354.4 488 356.1 488.2 356.1 488.5 356.5 489 358 489.5 358.6 490 359.1 490.5 359.1 491 358.9 491.5 358.6 492 358.3 492.5 359.4 493 360.1 493.5 360.9 494 358.8 494.5 360.5 495 361.5 495.5 361.8 496 361.9 496.5 363.1 497 362.9 497.5 362.8 498 362.6 498.5 363.2 499 364 499.5 364.7 500 365.6 500.5 363.1 501 365.4 501.5 365.4 502 365.5 502.5 365.6 503 367.1 503.5 367.1 504 367 504.3 367.2 504.5 366.9 505 367.5 505.5 367.7 506 368.9 506.5 368.6 507 368.2 507.5 367.8 508 364.9 508.5 367.9 509 368.7 509.5 369.6 510 369.5 510.5 369.9 511 369.8 511.5 369.1 512 369.4 512.5 370.1 513 370.4 513.5 370.7 514 369.3 514.5 370.8 515 370.7 515.5 371.2 516 372.9 516.5 372.7 517 372 517.5 372.1 518 372.2 518.5 372.5 519 372.9 519.5 374.6 520 374.5 520.3 374.1 520.5 373.4 521 371.6 521.3 369.6 521.5 363.1 522 326.1 522.5 277.9 522.9 248 523 244.5 523.5 228.1 524 213.9 524.5 202.1 525 192.6 525.5 185.7 526 181.4 526.5 180 527 181.9 527.5 187 528 194.7 528.5 204.5 529 215.6 529.5 227.4 530 239.4 530.2 244 530.5 251.8 531 267.3 531.2 273.5 531.5 282.9 532 298.9 532.2 304.6 532.5 312.6 533 324.8 533.5 335 534 343.2 534.5 350.2 535 355.7 535.5 360.2 536 364.1 536.5 367.4 537 369.7 537.5 371.4 538 372.9 538.5 374 539 374.9 539.2 375.1 539.5 375.4 539.8 375.6 540 375.7 540.5 376 541 376.3 541.5 376.5 542 376.7 542.5 376.9 543 377 543.5 377.2 544 377.3 544.5 377.4 545 377.5 545.5 377.6 546 377.7 546.5 377.8 547 378 547.5 378.1 548 378.2 548.5 378.2 549 378.3 549.5 378.4 550 378.5 550.5 378.6 551 378.7 551.5 378.7 552 378.8 552.5 378.8 553 378.9 553.5 378.9 554 378.9 554.5 379 555 379 555.5 379 556 379 556.5 379 557 379 557.5 379 558 379 558.5 379 559 379.1 559.5 379.1 560 379.1 560.5 379 561 379 561.5 378.9 562 378.8 562.5 378.7 563 378.6 563.5 378.5 564 378.3 564.5 378.2 565 378 565.5 377.8 566 377.6 566.5 377.4 567 377.1 567.5 376.8 568 376.4 568.5 375.9 569 375.3 569.5 374.7 570 373.7 570.5 371.9 570.6 371.4 571 362.9 571.3 352.3 571.5 343 571.8 328.5 572 321.9 572.5 308.3 573 297 573.4 288.5 573.5 286.1 574 274.3 574.2 272.7 574.5 279.2 574.9 296.1 575 299.9 575.5 319.9 575.7 328.5 576 343.9 576.2 352.3 576.5 360.1 576.8 364.6 577 365.7 577.5 367.7 578 368.6 578.5 369 579 369.2 579.5 369.4 580 369.5 580.5 369.4 581 369.1 581.5 368.7 582 368.2 582.5 367.6 583 367 583.5 366.3 584 365.6 584.5 364.9 585 364.3 585.5 363.7 586 363.2 586.5 362.8 587 362.3 587.5 361.9 588 361.4 588.5 360.9 589 360.5 589.5 360.1 590 359.7 590.5 359.3 591 359 591.5 358.8 592 358.6 592.5 358.5 593 358.4 593.5 358.4 594 358.5 594.5 358.7 595 359 595.5 359.4 596 359.7 596.5 360.1 597 360.5 597.5 361 598 361.3 598.5 361.7 599 362.1 599.5 362.5 600 362.9 600.5 363.3 601 363.8 601.5 364.2 602 364.7 602.5 365.2 603 365.6 603.5 366.2 604 366.7 604.5 367.2 605 367.8 605.5 368.4 606 369.2 606.5 370.1 607 371.1 607.5 371.9 608 372.6 608.5 373.1 609 373.2 609.5 373.2 610 373.1 610.5 372.9 611 372.8 611.5 372.6 612 372.5 612.5 372.5 613 372.8 613.5 373.7 614 374.8 614.5 375.9 615 376.9 615.5 377.7 616 378.5 616.5 379.3 617 380.1 617.5 380.7 618 381.1 618.2 381.2 618.5 381.3 619 381.6 619.5 381.8 620 382 620.5 382.1 621 382.2 621.5 382.2 622 382.2 622.5 382.1 623 381.8 623.5 381.6 624 381.2 624.5 380.8 625 380.3 625.5 379.8 626 379.3 626.5 378.7 627 378.1 627.5 377.5 628 376.9 628.5 376.2 629 375.6 629.5 374.9 630 374.1 630.5 373.3 631 372.6 631.5 371.8 632 371 632.5 370.2 633 369.4 633.5 368.6 634 367.8 634.5 367.1 635 366.4 635.5 365.7 636 365 636.5 364.2 637 363.5 637.5 362.8 638 362 638.5 361.3 639 360.4 639.5 359.6 640 358.7 640.5 357.7 641 356.6 641.5 355.4 642 354.2 642.5 352.9 643 351.6 643.5 350.2 644 348.8 644.5 347.4 645 346 645.5 344.5 646 343.1 646.5 341.7 647 340.4 647.5 339 648 337.8 648.5 336.5 649 335.3 649.5 334 650 332.8 650.5 331.5 651 330.3 651.5 329.1 652 327.9 652.5 326.7 653 325.5 653.5 324.3 654 323.1 654.5 322 655 320.9 655.5 319.8 656 318.6 656.5 317.4 657 316.3 657.5 315.1 658 314 658.5 312.9 659 311.8 659.5 310.9 660 310 660.5 309.2 661 308.4 661.5 307.8 662 307.1 662.5 306.4 663 305.8 663.5 305.2 664 304.6 664.5 304 665 303.5 665.5 303.1 666 302.8 666.5 302.5 667 302.4 667.5 302.3 668 302.3 668.5 302.3 669 302.3 669.5 302.3 670 302.3 670.5 302.3 671 302.3 671.5 302.3 672 302.3 672.5 302.3 673 302.3 673.5 302.3 674 302.4 674.5 302.4 675 302.4 675.4 302.5 675.5 302.5 676 302.5 676.5 302.6 677 302.8 677.5 302.9 678 303.1 678.5 303.3 679 303.5 679.5 303.7 680 303.9 680.5 304.2 681 304.4 681.5 304.7 682 304.9 682.5 305.2 683 305.6 683.5 305.9 684 306.4 684.5 306.8 685 307.3 685.5 307.8 686 308.4 686.5 308.9 687 309.5 687.5 310.1 688 310.8 688.5 311.4 689 312 689.5 312.7 690 313.3 690.5 313.9 691 314.6 691.5 315.3 692 316 692.5 316.8 693 317.5 693.5 318.3 694 319.1 694.5 320 695 320.8 695.5 321.7 696 322.6 696.5 323.6 697 324.5 697.5 325.6 698 326.7 698.5 327.8 699 329.1 699.5 330.4 700 331.7 700.5 333.5 701 335.5 701.5 337.2 702 338 702.5 333.3 703 323.3 703.5 313.4 704 304.9 704.5 296.6 705 290.5 705.5 286.1 706 282.6 706.5 281.2 707 285.5 707.4 291.2 707.5 292.6 708 300.1 708.3 304.2 708.5 306.5 709 311.7 709.5 316.2 710 320.2 710.5 323.8 711 327.2 711.5 330.7 712 334 712.5 337.3 712.8 339.2 713 340.5 713.5 343.8 714 347 714.5 350.2 715 353.7 715.5 357.4 716 360.9 716.5 364 716.8 365.5 717 366.3 717.5 368.1 718 369.5" stroke="#3ad8f8" stroke-opacity="0.85"/>
<path d="M398.5 381.6L399 381.5 399.5 381.1 400 381 400.5 380.9 401 381.2 401.5 380.4 402 380.3 402.5 379.9 403 379.7 403.5 380.3 404 380.5 404.5 380.1 405 378.8 405.5 377.9 406 377.5 406.5 377.7 407 378.2 407.5 378.6 408 377.8 408.5 377.1 409 376.5 409.5 376.1 410 375.9 410.5 375.8 411 375.4 411.5 375 412 374.2 412.5 373.3 413 373.8 413.5 373.7 414 374.2 414.5 372.5 415 372 415.5 370.9 416 370.2 416.5 370.8 417 371 417.5 370.4 418 370 418.5 368.7 419 368.4 419.5 367.7 420 367.3 420.5 366.9 421 366.5 421.5 365.5 422 363.9 422.5 364.2 423 363.8 423.5 363 424 362.5 424.5 360.8 425 359.6 425.5 358.1 426 357.9 426.5 357.5 427 357.4 427.5 356.7 428 355.2 428.5 353.8 429 353 429.5 352.1 430 352 430.5 351.3 431 349.4 431.5 348.3 432 346.9 432.5 345.7 433 345.8 433.5 345.1 434 344.3 434.5 342.6 435 341.3 435.5 339.8 436 338.6 436.5 338 437 337.3 437.5 336.5 438 335 438.5 333.7 439 333 439.5 332.8 440 331.7 440.5 331.5 441 330.4 441.5 329.5 442 328.7 442.5 329 443 329.8 443.5 331.4 444 332.7 444.5 333.7 445 335.7 445.5 337.6 446 339.4 446.4 342.4 446.5 341.9 447 344.2 447.5 346 448 347.3 448.5 348.8 449 350.5 449.5 351.9 449.6 349.5 450 353 450.5 354.4 451 354.4 451.5 354.3 452 355.1 452.5 355.4 453 356.8 453.5 358.5 454 358.5 454.5 358.2 455 357.9 455.5 358.2 456 356.9 456.5 358.8 457 360 457.5 359.6 458 359.8 458.5 359.4 459 359.9 459.5 360.6 460 361.2 460.5 360.8 461 360.2 461.5 360 462 359.7 462.5 360.2 463 360.9 463.5 361.6 464 361.7 464.1 361.9 464.5 355.2 465 360.8 465.5 360.7 466 360.8 466.5 361.1 467 361.6 467.5 361 468 360.6 468.5 360 469 361 469.5 361.1 470 362.2 470.5 359.6 471 360.5 471.5 360 472 360.1 472.1 359.7 472.5 360.7 473 361.1 473.5 361.5 474 360.6 474.5 360.3 475 359.6 475.5 359.8 476 359.6 476.5 360.2 477 359.2 477.5 358.4 478 352.9 478.5 358.3 479 359.2 479.4 359.6 479.5 359.7 480 359.9 480.5 358.9 481 359 481.5 358.6 482 358.6 482.5 359.2 483 360.1 483.5 360.6 484 360.3 484.5 360.1 485 360.2 485.5 360.5 486 361.2 486.5 361.1 487 361.7 487.5 358.9 488 361.4 488.2 361.7 488.5 361.8 489 363 489.5 363.1 490 363.5 490.5 363.9 491 363.4 491.5 363 492 363.3 492.5 364.8 493 364.7 493.5 365.8 494 364 494.5 365.9 495 365.9 495.5 366.7 496 366.9 496.5 367.4 497 367.1 497.5 366.8 498 366.7 498.5 367.4 499 368.6 499.5 369.2 500 369.7 500.5 367.9 501 369.6 501.5 369.9 502 369.9 502.5 370.1 503 371 503.5 371.2 504 371.5 504.3 371.3 504.5 371.2 505 371.6 505.5 372.2 506 372.8 506.5 372.2 507 372.3 507.5 372.1 508 369.3 508.5 371.6 509 373.2 509.5 373.6 510 374.5 510.5 373.8 511 373.5 511.5 373.1 512 373.4 512.5 374.4 513 374.4 513.5 374.5 514 373.2 514.5 374.8 515 375.4 515.5 376 516 376.9 516.5 376.6 517 376.1 517.5 376 518 376.3 518.5 376.8 519 377.2 519.5 377.8 520 378.1 520.3 377.8 520.5 377.3 521 375.4 521.3 373.2 521.5 366.2 522 327.1 522.5 278 522.9 248 523 244.5 523.5 228.1 524 213.9 524.5 202 525 192.6 525.5 185.7 526 181.4 526.5 180 527 181.8 527.5 186.9 528 194.7 528.5 204.4 529 215.5 529.5 227.4 530 239.3 530.2 244 530.5 251.9 531 267.5 531.2 273.8 531.5 283.5 532 300 532.2 305.9 532.5 314.1 533 326.8 533.5 337.3 534 345.8 534.5 352.9 535 358.6 535.5 363.1 536 367 536.5 370.2 537 372.6 537.5 374.3 538 375.9 538.5 377.1 539 378.1 539.2 378.3 539.5 378.7 539.8 378.9 540 379 540.5 379.4 541 379.6 541.5 379.9 542 380.1 542.5 380.2 543 380.4 543.5 380.5 544 380.7 544.5 380.8 545 380.9 545.5 381 546 381.1 546.5 381.3 547 381.4 547.5 381.5 548 381.6 548.5 381.7 549 381.8 549.5 381.9 550 382 550.5 382 551 382.1 551.5 382.2 552 382.2 552.5 382.3 553 382.4 553.5 382.4 554 382.4 554.5 382.5 555 382.5 555.5 382.5 556 382.5 556.5 382.5 557 382.6 557.5 382.6 558 382.6 558.5 382.6 559 382.6 559.5 382.6 560 382.6 560.5 382.6 561 382.6 561.5 382.5 562 382.4 562.5 382.3 563 382.2 563.5 382 564 381.9 564.5 381.7 565 381.6 565.5 381.4 566 381.2 566.5 381 567 380.7 567.5 380.4 568 380.1 568.5 379.6 569 379.1 569.5 378.5 570 377.5 570.5 375.8 570.6 375.3 571 365.8 571.3 354.1 571.5 344.1 571.8 328.8 572 322.2 572.5 308.4 573 297.3 573.4 288.8 573.5 286.5 574 274.9 574.2 273.2 574.5 279.9 574.9 297.1 575 300.7 575.5 320.2 575.7 328.8 576 345 576.2 354.1 576.5 363.1 576.8 368.2 577 369.5 577.5 371.6 578 372.6 578.5 372.9 579 373.2 579.5 373.3 580 373.4 580.5 373.3 581 373 581.5 372.6 582 372.1 582.5 371.5 583 370.8 583.5 370.1 584 369.4 584.5 368.7 585 368 585.5 367.4 586 366.9 586.5 366.4 587 366 587.5 365.5 588 365 588.5 364.5 589 364 589.5 363.6 590 363.2 590.5 362.8 591 362.5 591.5 362.3 592 362.1 592.5 362 593 362 593.5 362.1 594 362.2 594.5 362.4 595 362.7 595.5 363.1 596 363.5 596.5 363.9 597 364.3 597.5 364.7 598 365.1 598.5 365.5 599 365.9 599.5 366.4 600 366.8 600.5 367.3 601 367.8 601.5 368.3 602 368.9 602.5 369.4 603 370 603.5 370.5 604 371.1 604.5 371.7 605 372.2 605.5 372.9 606 373.8 606.5 374.7 607 375.6 607.5 376.4 608 377.1 608.5 377.6 609 377.8 609.5 377.7 610 377.6 610.5 377.5 611 377.4 611.5 377.3 612 377.2 612.5 377.2 613 377.5 613.5 378.3 614 379.4 614.5 380.5 615 381.5 615.5 382.2 616 383 616.5 383.8 617 384.5 617.5 385 618 385.4 618.2 385.5 618.5 385.6 619 385.8 619.5 385.9 620 386 620.5 386.1 621 386.1 621.5 386.1 622 386 622.5 385.8 623 385.6 623.5 385.3 624 384.9 624.5 384.5 625 384.1 625.5 383.6 626 383.1 626.5 382.5 627 381.9 627.5 381.3 628 380.7 628.5 380 629 379.3 629.5 378.6 630 377.9 630.5 377.1 631 376.3 631.5 375.5 632 374.7 632.5 373.9 633 373.1 633.5 372.4 634 371.6 634.5 370.9 635 370.1 635.5 369.4 636 368.7 636.5 367.9 637 367.2 637.5 366.4 638 365.6 638.5 364.8 639 364 639.5 363.1 640 362.2 640.5 361.2 641 360.2 641.5 359.1 642 357.9 642.5 356.7 643 355.4 643.5 354.1 644 352.8 644.5 351.4 645 350.1 645.5 348.7 646 347.4 646.5 346.1 647 344.8 647.5 343.5 648 342.2 648.5 341 649 339.8 649.5 338.6 650 337.3 650.5 336.1 651 334.9 651.5 333.6 652 332.4 652.5 331.2 653 330 653.5 328.9 654 327.7 654.5 326.6 655 325.5 655.5 324.4 656 323.3 656.5 322.1 657 321 657.5 319.9 658 318.8 658.5 317.8 659 316.8 659.5 315.8 660 315 660.5 314.2 661 313.5 661.5 312.8 662 312.2 662.5 311.5 663 310.9 663.5 310.3 664 309.7 664.5 309.2 665 308.7 665.5 308.3 666 307.9 666.5 307.7 667 307.5 667.5 307.5 668 307.5 668.5 307.4 669 307.4 669.5 307.4 670 307.4 670.5 307.4 671 307.4 671.5 307.4 672 307.4 672.5 307.4 673 307.4 673.5 307.4 674 307.4 674.5 307.4 675 307.4 675.4 307.5 675.5 307.5 676 307.5 676.5 307.6 677 307.7 677.5 307.8 678 308 678.5 308.1 679 308.3 679.5 308.5 680 308.7 680.5 308.9 681 309.1 681.5 309.3 682 309.6 682.5 309.8 683 310.1 683.5 310.4 684 310.8 684.5 311.2 685 311.6 685.5 312 686 312.5 686.5 312.9 687 313.4 687.5 314 688 314.5 688.5 315 689 315.6 689.5 316.1 690 316.7 690.5 317.2 691 317.8 691.5 318.4 692 319 692.5 319.7 693 320.3 693.5 321 694 321.7 694.5 322.5 695 323.2 695.5 324 696 324.8 696.5 325.6 697 326.5 697.5 327.4 698 328.4 698.5 329.5 699 330.6 699.5 331.8 700 333 700.5 334.6 701 336.5 701.5 338.1 702 338.7 702.5 334.2 703 324.3 703.5 314.5 704 305.8 704.5 297.2 705 290.8 705.5 286.4 706 282.9 706.5 281.4 707 285.7 707.4 291.4 707.5 292.7 708 300.3 708.3 304.4 708.5 306.7 709 311.9 709.5 316.4 710 320.4 710.5 323.9 711 327.4 711.5 330.8 712 334.2 712.5 337.4 712.8 339.4 713 340.7 713.5 343.9 714 347.2 714.5 350.4 715 353.9 715.5 357.7 716 361.3 716.5 364.4 716.8 365.8 717 366.7 717.5 368.5 718 369.8" stroke="#f84cf4" stroke-opacity="0.85"/>
<path d="M398.5 384.9L399 384.8 399.5 384.6 400 385.2 400.5 384.4 401 383.7 401.5 383.6 402 383.1 402.5 383.4 403 384 403.5 384.2 404 383.2 404.5 382.6 405 381.3 405.5 381.6 406 381.3 406.5 382 407 382.4 407.5 382 408 381 408.5 379.8 409 380.4 409.5 379.8 410 380 410.5 379.2 411 378.4 411.5 378.2 412 377 412.5 377.2 413 377.7 413.5 377.9 414 376.3 414.5 376.1 415 374.6 415.5 374.4 416 374.8 416.5 374.4 417 374.3 417.5 373.8 418 372.5 418.5 371.9 419 371.4 419.5 371.3 420 370.7 420.5 369.8 421 368.5 421.5 367.8 422 366.7 422.5 366.8 423 367 423.5 365.8 424 364.5 424.5 363.7 425 361.9 425.5 361.1 426 361 426.5 360.5 427 359.6 427.5 358.6 428 357.1 428.5 356.4 429 355.8 429.5 355.4 430 354.5 430.5 353.5 431 351.4 431.5 350.3 432 349.3 432.5 348.6 433 348.5 433.5 347.7 434 346.3 434.5 344.6 435 343 435.5 341.7 436 341.2 436.5 340.7 437 339.7 437.5 338.4 438 337 438.5 336.1 439 335.7 439.5 334.9 440 333.9 440.5 332.5 441 331.5 441.5 330.9 442 330.6 442.5 331.6 443 331.8 443.5 332.9 444 334.1 444.5 335.1 445 337.4 445.5 339.4 446 342 446.4 343.6 446.5 344.7 447 346.6 447.5 347.6 448 349.2 448.5 351.3 449 353.5 449.5 355.1 449.6 352.7 450 356 450.5 357.1 451 356.8 451.5 357.4 452 358 452.5 359.7 453 361 453.5 361 454 361.3 454.5 361.5 455 361.5 455.5 361.7 456 360.9 456.5 363 457 362.9 457.5 362.5 458 362.8 458.5 362.7 459 364 459.5 364.7 460 364.7 460.5 363.9 461 363.5 461.5 363.3 462 363.6 462.5 364.1 463 364.5 463.5 364.8 464 364.3 464.1 364 464.5 359.2 465 363.9 465.5 364.4 466 364.7 466.5 364.4 467 364.5 467.5 363.6 468 364.5 468.5 364.1 469 364.9 469.5 365.5 470 365.3 470.5 362.5 471 364.3 471.5 364.1 472 364.7 472.1 363.9 472.5 364.9 473 365.1 473.5 364.7 474 364 474.5 364.5 475 364.1 475.5 363.5 476 364.3 476.5 363.7 477 363 477.5 362.5 478 355.3 478.5 362.6 479 363.5 479.4 363.3 479.5 363.3 480 363 480.5 363.1 481 362.1 481.5 362.3 482 362.7 482.5 363.7 483 364 483.5 363.8 484 364.2 484.5 364 485 364.4 485.5 364.8 486 365.1 486.5 365.1 487 364.9 487.5 362.2 488 365.1 488.2 365.2 488.5 365.8 489 367 489.5 367.7 490 367.8 490.5 367.1 491 366.6 491.5 367.1 492 367.7 492.5 368.4 493 368.9 493.5 368.7 494 366.8 494.5 368.5 495 370.2 495.5 370.4 496 370.7 496.5 370.8 497 370.2 497.5 369.9 498 370.7 498.5 371.4 499 372.2 499.5 373.1 500 373 500.5 370.6 501 372.5 501.5 373.1 502 373.2 502.5 374.1 503 374.5 503.5 373.8 504 374.1 504.3 373.7 504.5 374.4 505 374.6 505.5 375.3 506 375.9 506.5 375.8 507 375.2 507.5 374.7 508 373.3 508.5 375.9 509 377.3 509.5 377.4 510 376.6 510.5 376.5 511 376.2 511.5 377 512 377.3 512.5 377.3 513 377.6 513.5 377.4 514 375.9 514.5 377.9 515 379 515.5 379.3 516 379.7 516.5 379.1 517 378.9 517.5 379.2 518 379.4 518.5 379.9 519 380.6 519.5 381.4 520 380.8 520.3 380.4 520.5 380.4 521 378.3 521.3 376 521.5 368.7 522 327.8 522.5 278.1 522.9 248 523 244.5 523.5 228.1 524 213.9 524.5 202 525 192.5 525.5 185.6 526 181.4 526.5 180 527 181.8 527.5 186.9 528 194.7 528.5 204.4 529 215.5 529.5 227.3 530 239.3 530.2 244 530.5 251.9 531 267.7 531.2 274.1 531.5 284 532 300.8 532.2 306.9 532.5 315.3 533 328.4 533.5 339.1 534 347.8 534.5 355.1 535 360.8 535.5 365.3 536 369.2 536.5 372.4 537 374.8 537.5 376.6 538 378.2 538.5 379.5 539 380.5 539.2 380.8 539.5 381.2 539.8 381.5 540 381.6 540.5 381.9 541 382.2 541.5 382.5 542 382.7 542.5 382.9 543 383 543.5 383.2 544 383.3 544.5 383.4 545 383.5 545.5 383.7 546 383.8 546.5 383.9 547 384 547.5 384.1 548 384.2 548.5 384.3 549 384.4 549.5 384.5 550 384.6 550.5 384.7 551 384.8 551.5 384.9 552 384.9 552.5 385 553 385.1 553.5 385.1 554 385.2 554.5 385.2 555 385.2 555.5 385.2 556 385.3 556.5 385.3 557 385.3 557.5 385.3 558 385.4 558.5 385.4 559 385.4 559.5 385.4 560 385.4 560.5 385.4 561 385.3 561.5 385.3 562 385.2 562.5 385.1 563 385 563.5 384.8 564 384.7 564.5 384.5 565 384.4 565.5 384.2 566 384 566.5 383.8 567 383.6 567.5 383.3 568 383 568.5 382.5 569 382.1 569.5 381.5 570 380.5 570.5 378.8 570.6 378.3 571 368.1 571.3 355.5 571.5 345 571.8 329.1 572 322.3 572.5 308.6 573 297.5 573.4 289.1 573.5 286.8 574 275.3 574.2 273.6 574.5 280.5 574.9 297.8 575 301.4 575.5 320.5 575.7 329.1 576 345.9 576.2 355.5 576.5 365.3 576.8 371 577 372.3 577.5 374.7 578 375.7 578.5 376 579 376.2 579.5 376.4 580 376.4 580.5 376.3 581 376.1 581.5 375.7 582 375.1 582.5 374.5 583 373.8 583.5 373.1 584 372.3 584.5 371.6 585 370.9 585.5 370.3 586 369.8 586.5 369.3 587 368.8 587.5 368.3 588 367.8 588.5 367.2 589 366.7 589.5 366.3 590 365.9 590.5 365.5 591 365.2 591.5 365 592 364.8 592.5 364.8 593 364.8 593.5 364.9 594 365.1 594.5 365.3 595 365.6 595.5 366 596 366.4 596.5 366.8 597 367.2 597.5 367.6 598 368.1 598.5 368.5 599 368.9 599.5 369.4 600 369.9 600.5 370.4 601 371 601.5 371.5 602 372.1 602.5 372.7 603 373.3 603.5 373.9 604 374.5 604.5 375.1 605 375.8 605.5 376.5 606 377.3 606.5 378.2 607 379.1 607.5 379.9 608 380.6 608.5 381.1 609 381.2 609.5 381.2 610 381.2 610.5 381.1 611 381 611.5 380.9 612 380.8 612.5 380.8 613 381.1 613.5 381.9 614 383 614.5 384.1 615 385 615.5 385.8 616 386.5 616.5 387.3 617 387.9 617.5 388.5 618 388.8 618.2 388.9 618.5 389 619 389.1 619.5 389.2 620 389.2 620.5 389.2 621 389.2 621.5 389.1 622 388.9 622.5 388.8 623 388.5 623.5 388.2 624 387.8 624.5 387.5 625 387 625.5 386.6 626 386.1 626.5 385.5 627 384.9 627.5 384.3 628 383.6 628.5 383 629 382.3 629.5 381.5 630 380.8 630.5 380 631 379.2 631.5 378.4 632 377.6 632.5 376.8 633 376.1 633.5 375.3 634 374.5 634.5 373.8 635 373 635.5 372.3 636 371.5 636.5 370.8 637 370 637.5 369.2 638 368.5 638.5 367.6 639 366.8 639.5 365.9 640 365 640.5 364 641 363 641.5 361.9 642 360.8 642.5 359.6 643 358.4 643.5 357.1 644 355.9 644.5 354.6 645 353.3 645.5 352 646 350.7 646.5 349.5 647 348.2 647.5 347 648 345.8 648.5 344.5 649 343.3 649.5 342.1 650 340.9 650.5 339.7 651 338.4 651.5 337.2 652 336 652.5 334.8 653 333.6 653.5 332.4 654 331.3 654.5 330.2 655 329.1 655.5 328 656 326.9 656.5 325.8 657 324.7 657.5 323.6 658 322.6 658.5 321.6 659 320.6 659.5 319.7 660 318.9 660.5 318.1 661 317.4 661.5 316.8 662 316.1 662.5 315.5 663 314.8 663.5 314.2 664 313.7 664.5 313.1 665 312.7 665.5 312.3 666 311.9 666.5 311.7 667 311.6 667.5 311.5 668 311.5 668.5 311.4 669 311.4 669.5 311.4 670 311.4 670.5 311.3 671 311.3 671.5 311.3 672 311.3 672.5 311.3 673 311.3 673.5 311.3 674 311.3 674.5 311.3 675 311.3 675.4 311.4 675.5 311.4 676 311.4 676.5 311.5 677 311.6 677.5 311.7 678 311.8 678.5 311.9 679 312.1 679.5 312.2 680 312.4 680.5 312.6 681 312.8 681.5 313 682 313.2 682.5 313.4 683 313.6 683.5 313.9 684 314.2 684.5 314.5 685 314.9 685.5 315.3 686 315.7 686.5 316.1 687 316.5 687.5 316.9 688 317.4 688.5 317.9 689 318.3 689.5 318.8 690 319.3 690.5 319.8 691 320.3 691.5 320.8 692 321.4 692.5 321.9 693 322.5 693.5 323.1 694 323.8 694.5 324.4 695 325.1 695.5 325.8 696 326.5 696.5 327.3 697 328.1 697.5 328.9 698 329.8 698.5 330.8 699 331.8 699.5 332.9 700 334.1 700.5 335.5 701 337.3 701.5 338.7 702 339.3 702.5 334.9 703 325.1 703.5 315.3 704 306.5 704.5 297.6 705 291.1 705.5 286.6 706 283 706.5 281.6 707 285.8 707.4 291.6 707.5 292.9 708 300.4 708.3 304.6 708.5 306.9 709 312 709.5 316.6 710 320.5 710.5 324.1 711 327.6 711.5 331 712 334.3 712.5 337.6 712.8 339.6 713 340.9 713.5 344.1 714 347.3 714.5 350.6 715 354.1 715.5 357.9 716 361.5 716.5 364.6 716.8 366.1 717 366.9 717.5 368.8 718 370.1" stroke="#4cf0ea" stroke-opacity="0.85"/>
<path d="M398.5 387L399 386.9 399.5 386.5 400 386 400.5 386.5 401 386.5 401.5 386.4 402 385.6 402.5 385.4 403 385.4 403.5 385.3 404 386 404.5 385.2 405 384.7 405.5 383.7 406 383.3 406.5 383.4 407 383.9 407.5 384.2 408 383.9 408.5 383.1 409 382 409.5 381.3 410 381.4 410.5 381.2 411 381 411.5 380.8 412 379.7 412.5 379.3 413 379.6 413.5 379.4 414 379.1 414.5 378.1 415 377.1 415.5 375.9 416 376.3 416.5 375.7 417 375.8 417.5 376 418 375.5 418.5 373.9 419 373.4 419.5 372.4 420 372.6 420.5 372 421 370.9 421.5 370.2 422 369.3 422.5 368.1 423 367.6 423.5 367.7 424 366.9 424.5 365.8 425 364.5 425.5 363.4 426 362 426.5 361.5 427 361.5 427.5 360.7 428 359.5 428.5 358.5 429 357.2 429.5 356.6 430 355.8 430.5 354.1 431 353.6 431.5 352 432 351.1 432.5 350.1 433 349.2 433.5 348.9 434 348.3 434.5 346.5 435 344.4 435.5 343.3 436 341.8 436.5 341.5 437 340.9 437.5 340.2 438 339.4 438.5 337 439 336.3 439.5 335.3 440 335.1 440.5 334 441 333.8 441.5 332.3 442 331.7 442.5 331.8 443 332.4 443.5 333.7 444 335.9 444.5 337.2 445 338.7 445.5 340.6 446 342.7 446.4 345.1 446.5 345.2 447 347.6 447.5 350.1 448 351.4 448.5 353.5 449 354.6 449.5 356.4 449.6 353.9 450 357.8 450.5 359 451 359.3 451.5 359.5 452 359.7 452.5 360.7 453 362.5 453.5 363.3 454 364.2 454.5 364.4 455 363.8 455.5 364 456 362.8 456.5 365.1 457 365.4 457.5 366 458 365.5 458.5 366 459 365.7 459.5 366 460 366.5 460.5 366.7 461 366 461.5 365.8 462 365.6 462.5 365.8 463 366.3 463.5 367.3 464 367.4 464.1 367.3 464.5 360.8 465 366.9 465.5 366.6 466 366.6 466.5 367.1 467 367.4 467.5 366.7 468 366.5 468.5 366.2 469 366.7 469.5 367.6 470 367.7 470.5 365.9 471 366.7 471.5 366.8 472 366.2 472.1 366.2 472.5 366.3 473 366.6 473.5 367.2 474 367.6 474.5 367.4 475 366.1 475.5 365.8 476 365.8 476.5 365.8 477 365.9 477.5 365.7 478 359.9 478.5 365.2 479 365.1 479.4 365.7 479.5 365.9 480 366.8 480.5 366.1 481 365.5 481.5 364.9 482 364.8 482.5 365 483 366.2 483.5 366.5 484 366.9 484.5 366.7 485 367 485.5 366.9 486 367.1 486.5 367.6 487 367.8 487.5 365.2 488 367.9 488.2 367.6 488.5 367.8 489 369.1 489.5 369.5 490 370.2 490.5 370.3 491 370.1 491.5 369.4 492 369.3 492.5 370.2 493 371.2 493.5 371.3 494 370.2 494.5 371.9 495 371.3 495.5 372.3 496 372.2 496.5 373 497 373 497.5 372.7 498 372.6 498.5 372.7 499 374.1 499.5 374.9 500 375.6 500.5 372.2 501 374.8 501.5 374.7 502 374.8 502.5 375.3 503 376 503.5 376.6 504 376.4 504.3 376.7 504.5 376.7 505 377 505.5 376.9 506 377.4 506.5 377.8 507 377.8 507.5 377.4 508 375.2 508.5 377.2 509 378 509.5 378.9 510 379.4 510.5 379.4 511 378.9 511.5 378.4 512 378.7 512.5 379.2 513 380.1 513.5 380.2 514 378.6 514.5 379.9 515 380.4 515.5 380.9 516 381.4 516.5 382.3 517 381.7 517.5 380.8 518 380.7 518.5 381.3 519 382.5 519.5 383.5 520 383.4 520.3 382.9 520.5 382.3 521 380.2 521.3 377.8 521.5 370.2 522 328.2 522.5 278.1 522.9 248 523 244.5 523.5 228 524 213.8 524.5 202 525 192.5 525.5 185.6 526 181.4 526.5 180 527 181.8 527.5 186.9 528 194.6 528.5 204.3 529 215.4 529.5 227.3 530 239.3 530.2 244 530.5 252 531 267.8 531.2 274.3 531.5 284.3 532 301.3 532.2 307.5 532.5 316.1 533 329.4 533.5 340.3 534 349.1 534.5 356.5 535 362.2 535.5 366.8 536 370.7 536.5 373.9 537 376.2 537.5 378.1 538 379.7 538.5 381.1 539 382.1 539.2 382.4 539.5 382.8 539.8 383.1 540 383.3 540.5 383.6 541 383.9 541.5 384.1 542 384.3 542.5 384.5 543 384.7 543.5 384.8 544 385 544.5 385.1 545 385.2 545.5 385.4 546 385.5 546.5 385.6 547 385.7 547.5 385.8 548 386 548.5 386.1 549 386.2 549.5 386.3 550 386.4 550.5 386.4 551 386.5 551.5 386.6 552 386.7 552.5 386.7 553 386.8 553.5 386.9 554 386.9 554.5 386.9 555 387 555.5 387 556 387 556.5 387.1 557 387.1 557.5 387.1 558 387.1 558.5 387.1 559 387.2 559.5 387.2 560 387.2 560.5 387.2 561 387.1 561.5 387.1 562 387 562.5 386.9 563 386.7 563.5 386.6 564 386.5 564.5 386.3 565 386.1 565.5 386 566 385.8 566.5 385.6 567 385.4 567.5 385.1 568 384.8 568.5 384.4 569 383.9 569.5 383.4 570 382.4 570.5 380.7 570.6 380.3 571 369.6 571.3 356.4 571.5 345.6 571.8 329.3 572 322.5 572.5 308.6 573 297.6 573.4 289.3 573.5 287 574 275.5 574.2 273.9 574.5 280.8 574.9 298.2 575 301.8 575.5 320.7 575.7 329.3 576 346.4 576.2 356.4 576.5 366.8 576.8 372.8 577 374.2 577.5 376.6 578 377.6 578.5 378 579 378.2 579.5 378.3 580 378.4 580.5 378.3 581 378 581.5 377.6 582 377.1 582.5 376.4 583 375.7 583.5 375 584 374.2 584.5 373.5 585 372.8 585.5 372.1 586 371.6 586.5 371.1 587 370.6 587.5 370.1 588 369.5 588.5 369 589 368.5 589.5 368 590 367.6 590.5 367.2 591 366.9 591.5 366.7 592 366.6 592.5 366.5 593 366.6 593.5 366.7 594 366.9 594.5 367.2 595 367.5 595.5 367.8 596 368.2 596.5 368.7 597 369.1 597.5 369.5 598 369.9 598.5 370.4 599 370.8 599.5 371.3 600 371.8 600.5 372.4 601 373 601.5 373.6 602 374.2 602.5 374.8 603 375.5 603.5 376.1 604 376.7 604.5 377.4 605 378 605.5 378.7 606 379.6 606.5 380.5 607 381.4 607.5 382.2 608 382.9 608.5 383.3 609 383.5 609.5 383.5 610 383.4 610.5 383.4 611 383.3 611.5 383.2 612 383.2 612.5 383.1 613 383.5 613.5 384.3 614 385.3 614.5 386.4 615 387.3 615.5 388 616 388.8 616.5 389.5 617 390.2 617.5 390.7 618 391 618.2 391 618.5 391.1 619 391.2 619.5 391.2 620 391.2 620.5 391.2 621 391.1 621.5 391 622 390.9 622.5 390.6 623 390.4 623.5 390.1 624 389.7 624.5 389.3 625 388.9 625.5 388.5 626 388 626.5 387.4 627 386.8 627.5 386.2 628 385.5 628.5 384.9 629 384.2 629.5 383.4 630 382.6 630.5 381.9 631 381.1 631.5 380.3 632 379.5 632.5 378.7 633 378 633.5 377.2 634 376.4 634.5 375.7 635 374.9 635.5 374.2 636 373.4 636.5 372.6 637 371.9 637.5 371.1 638 370.3 638.5 369.4 639 368.6 639.5 367.7 640 366.8 640.5 365.8 641 364.8 641.5 363.7 642 362.6 642.5 361.5 643 360.3 643.5 359.1 644 357.9 644.5 356.6 645 355.4 645.5 354.1 646 352.9 646.5 351.6 647 350.4 647.5 349.2 648 348 648.5 346.8 649 345.6 649.5 344.4 650 343.2 650.5 341.9 651 340.7 651.5 339.5 652 338.3 652.5 337.1 653 335.9 653.5 334.7 654 333.6 654.5 332.5 655 331.4 655.5 330.3 656 329.2 656.5 328.2 657 327.1 657.5 326 658 325 658.5 324 659 323.1 659.5 322.2 660 321.3 660.5 320.6 661 319.9 661.5 319.3 662 318.6 662.5 318 663 317.4 663.5 316.8 664 316.2 664.5 315.7 665 315.2 665.5 314.8 666 314.5 666.5 314.3 667 314.2 667.5 314.1 668 314 668.5 314 669 314 669.5 313.9 670 313.9 670.5 313.9 671 313.9 671.5 313.9 672 313.9 672.5 313.8 673 313.8 673.5 313.8 674 313.8 674.5 313.8 675 313.9 675.4 313.9 675.5 313.9 676 313.9 676.5 314 677 314 677.5 314.1 678 314.3 678.5 314.4 679 314.5 679.5 314.7 680 314.8 680.5 315 681 315.1 681.5 315.3 682 315.5 682.5 315.7 683 315.9 683.5 316.1 684 316.4 684.5 316.7 685 317 685.5 317.3 686 317.7 686.5 318.1 687 318.5 687.5 318.9 688 319.3 688.5 319.7 689 320.1 689.5 320.5 690 321 690.5 321.4 691 321.9 691.5 322.4 692 322.9 692.5 323.4 693 323.9 693.5 324.5 694 325.1 694.5 325.7 695 326.3 695.5 326.9 696 327.6 696.5 328.3 697 329 697.5 329.8 698 330.7 698.5 331.6 699 332.6 699.5 333.7 700 334.7 700.5 336.1 701 337.8 701.5 339.1 702 339.7 702.5 335.3 703 325.6 703.5 315.8 704 306.9 704.5 297.9 705 291.3 705.5 286.7 706 283.1 706.5 281.6 707 285.9 707.4 291.6 707.5 293 708 300.5 708.3 304.6 708.5 306.9 709 312.1 709.5 316.6 710 320.6 710.5 324.2 711 327.6 711.5 331.1 712 334.4 712.5 337.7 712.8 339.6 713 340.9 713.5 344.2 714 347.4 714.5 350.6 715 354.2 715.5 358 716 361.7 716.5 364.8 716.8 366.3 717 367.1 717.5 368.9 718 370.3" stroke="#48e448" stroke-opacity="0.85"/>
<path d="M398.5 392.4L399 392.4 399.5 392.7 400 391.9 400.5 391.7 401 390.9 401.5 391.1 402 392.1 402.5 392 403 392 403.5 391.1 404 390.1 404.5 390.3 405 390 405.5 390.3 406 390.3 406.5 389.7 407 389.2 407.5 388.5 408 388.5 408.5 388.8 409 388.2 409.5 388.1 410 386.9 410.5 386.2 411 385.4 411.5 386 412 386.1 412.5 385.9 413 385.7 413.5 384.1 414 383.3 414.5 383.1 415 383.1 415.5 382.5 416 382.3 416.5 381.4 417 380.9 417.5 379.8 418 379.3 418.5 379.4 419 379.3 419.5 378.5 420 376.9 420.5 376.1 421 374.6 421.5 374.7 422 374.3 422.5 374.1 423 373.1 423.5 372.3 424 371.2 424.5 369.4 425 369.2 425.5 368.7 426 367.5 426.5 366.4 427 365.1 427.5 364.4 428 363.5 428.5 363.5 429 362.5 429.5 361.2 430 359.3 430.5 357.8 431 356.8 431.5 356.7 432 355.8 432.5 354.9 433 353.6 433.5 351.8 434 350.9 434.5 349.3 435 348.6 435.5 348 436 346.3 436.5 344.6 437 344.1 437.5 342.1 438 341.6 438.5 340.7 439 340.2 439.5 339.1 440 338.1 440.5 336.5 441 335.8 441.5 335.7 442 336.4 442.5 336.1 443 336.1 443.5 336.1 444 338.2 444.5 339.8 445 342.5 445.5 344.6 446 346.9 446.4 348.9 446.5 348.9 447 350.4 447.5 353.4 448 355.3 448.5 358.4 449 360 449.5 361.5 449.6 359.8 450 361.8 450.5 362.4 451 363.3 451.5 365.1 452 366.2 452.5 367.4 453 367.5 453.5 367.8 454 368.1 454.5 368.9 455 370.1 455.5 370.3 456 368.9 456.5 370.1 457 369.8 457.5 370.4 458 371.6 458.5 372.4 459 372.6 459.5 371.9 460 371.7 460.5 371.2 461 372.2 461.5 372 462 372.4 462.5 372.4 463 372 463.5 372.3 464 372.2 464.1 372.5 464.5 367.9 465 373.3 465.5 373.2 466 373 466.5 372.2 467 371.7 467.5 371.8 468 372.8 468.5 373.7 469 374.1 469.5 373.2 470 372.9 470.5 370.3 471 373.1 471.5 373.6 472 373.1 472.1 373.3 472.5 373.6 473 372.6 473.5 372.3 474 372.7 474.5 373.2 475 373.2 475.5 373 476 372.5 476.5 371.1 477 371.3 477.5 371 478 366.5 478.5 372.4 479 372.1 479.4 371.7 479.5 371.4 480 370.9 480.5 371.5 481 371.2 481.5 372.1 482 372.2 482.5 372.4 483 371.8 483.5 372.5 484 372.7 484.5 374.1 485 374 485.5 374 486 373.4 486.5 373.5 487 373.1 487.5 371.5 488 374.6 488.2 374.6 488.5 375.6 489 375.8 489.5 375.2 490 375.5 490.5 375 491 376.2 491.5 376.4 492 376.6 492.5 376.3 493 376.2 493.5 376.4 494 375.5 494.5 378.1 495 378.7 495.5 378.8 496 378.2 496.5 377.6 497 377.8 497.5 378.4 498 379.7 498.5 379.4 499 379.9 499.5 379.4 500 379.9 500.5 377.1 501 380.7 501.5 380.9 502 381.2 502.5 380.9 503 380.6 503.5 380.9 504 381.6 504.3 381.3 504.5 382.1 505 382.9 505.5 382.6 506 381.9 506.5 381.4 507 381.9 507.5 383 508 380.5 508.5 383.9 509 383.4 509.5 383.6 510 383.7 510.5 383.8 511 384.4 511.5 384.7 512 384.8 512.5 383.9 513 384.1 513.5 384.3 514 383.8 514.5 385.9 515 386.7 515.5 386.6 516 386.5 516.5 386.2 517 385.8 517.5 387.2 518 387.1 518.5 387.5 519 386.6 519.5 387.5 520 387.3 520.3 387.5 520.5 387.3 521 385 521.3 382.4 521.5 374.2 522 329.4 522.5 278.3 522.9 248 523 244.4 523.5 228 524 213.8 524.5 201.9 525 192.5 525.5 185.6 526 181.4 526.5 180 527 181.8 527.5 186.9 528 194.6 528.5 204.3 529 215.4 529.5 227.2 530 239.3 530.2 244 530.5 252 531 268.1 531.2 274.7 531.5 285 532 302.7 532.2 309.1 532.5 318 533 331.9 533.5 343.3 534 352.4 534.5 360 535 365.9 535.5 370.5 536 374.4 536.5 377.5 537 379.9 537.5 381.8 538 383.6 538.5 385 539 386.2 539.2 386.5 539.5 387 539.8 387.3 540 387.5 540.5 387.8 541 388.1 541.5 388.4 542 388.6 542.5 388.8 543 389 543.5 389.1 544 389.3 544.5 389.4 545 389.6 545.5 389.7 546 389.8 546.5 390 547 390.1 547.5 390.2 548 390.3 548.5 390.4 549 390.6 549.5 390.7 550 390.8 550.5 390.9 551 390.9 551.5 391 552 391.1 552.5 391.2 553 391.3 553.5 391.3 554 391.4 554.5 391.4 555 391.5 555.5 391.5 556 391.5 556.5 391.6 557 391.6 557.5 391.6 558 391.7 558.5 391.7 559 391.7 559.5 391.7 560 391.7 560.5 391.7 561 391.7 561.5 391.6 562 391.5 562.5 391.4 563 391.3 563.5 391.2 564 391 564.5 390.9 565 390.7 565.5 390.6 566 390.4 566.5 390.2 567 390 567.5 389.8 568 389.5 568.5 389.2 569 388.8 569.5 388.2 570 387.3 570.5 385.7 570.6 385.2 571 373.3 571.3 358.7 571.5 347 571.8 329.7 572 322.8 572.5 308.8 573 298 573.4 289.7 573.5 287.5 574 276.2 574.2 274.6 574.5 281.7 574.9 299.4 575 302.9 575.5 321.1 575.7 329.7 576 347.8 576.2 358.7 576.5 370.5 576.8 377.4 577 379 577.5 381.6 578 382.7 578.5 383 579 383.2 579.5 383.3 580 383.4 580.5 383.3 581 383 581.5 382.6 582 382 582.5 381.3 583 380.6 583.5 379.8 584 379 584.5 378.3 585 377.5 585.5 376.9 586 376.3 586.5 375.8 587 375.3 587.5 374.7 588 374.1 588.5 373.5 589 373 589.5 372.5 590 372 590.5 371.7 591 371.4 591.5 371.2 592 371.1 592.5 371.1 593 371.2 593.5 371.3 594 371.6 594.5 371.9 595 372.2 595.5 372.6 596 373 596.5 373.5 597 373.9 597.5 374.3 598 374.8 598.5 375.2 599 375.7 599.5 376.3 600 376.9 600.5 377.5 601 378.2 601.5 378.8 602 379.5 602.5 380.3 603 381 603.5 381.7 604 382.4 604.5 383.1 605 383.8 605.5 384.5 606 385.4 606.5 386.3 607 387.2 607.5 388 608 388.6 608.5 389.1 609 389.2 609.5 389.2 610 389.2 610.5 389.2 611 389.2 611.5 389.1 612 389.1 612.5 389.1 613 389.4 613.5 390.2 614 391.3 614.5 392.3 615 393.2 615.5 393.9 616 394.6 616.5 395.2 617 395.8 617.5 396.3 618 396.5 618.2 396.6 618.5 396.6 619 396.6 619.5 396.5 620 396.4 620.5 396.3 621 396.2 621.5 396 622 395.7 622.5 395.5 623 395.2 623.5 394.8 624 394.5 624.5 394.1 625 393.8 625.5 393.4 626 392.9 626.5 392.3 627 391.7 627.5 391.1 628 390.4 628.5 389.7 629 389 629.5 388.2 630 387.4 630.5 386.6 631 385.8 631.5 385.1 632 384.3 632.5 383.5 633 382.8 633.5 382 634 381.3 634.5 380.5 635 379.7 635.5 378.9 636 378.1 636.5 377.3 637 376.5 637.5 375.7 638 374.9 638.5 374 639 373.1 639.5 372.2 640 371.3 640.5 370.4 641 369.4 641.5 368.4 642 367.3 642.5 366.3 643 365.2 643.5 364.1 644 363 644.5 361.8 645 360.7 645.5 359.5 646 358.4 646.5 357.2 647 356 647.5 354.9 648 353.8 648.5 352.6 649 351.4 649.5 350.2 650 349 650.5 347.8 651 346.5 651.5 345.3 652 344.1 652.5 342.9 653 341.7 653.5 340.5 654 339.4 654.5 338.3 655 337.3 655.5 336.2 656 335.2 656.5 334.2 657 333.2 657.5 332.2 658 331.2 658.5 330.3 659 329.4 659.5 328.5 660 327.7 660.5 327 661 326.4 661.5 325.7 662 325.1 662.5 324.5 663 323.9 663.5 323.3 664 322.8 664.5 322.3 665 321.8 665.5 321.4 666 321.1 666.5 320.9 667 320.8 667.5 320.7 668 320.6 668.5 320.6 669 320.5 669.5 320.5 670 320.5 670.5 320.4 671 320.4 671.5 320.4 672 320.3 672.5 320.3 673 320.3 673.5 320.3 674 320.3 674.5 320.3 675 320.3 675.4 320.3 675.5 320.3 676 320.3 676.5 320.3 677 320.4 677.5 320.5 678 320.5 678.5 320.6 679 320.7 679.5 320.8 680 320.9 680.5 321.1 681 321.2 681.5 321.3 682 321.4 682.5 321.6 683 321.7 683.5 321.9 684 322.1 684.5 322.2 685 322.5 685.5 322.7 686 322.9 686.5 323.2 687 323.5 687.5 323.7 688 324 688.5 324.3 689 324.6 689.5 325 690 325.3 690.5 325.6 691 325.9 691.5 326.3 692 326.7 692.5 327.1 693 327.5 693.5 327.9 694 328.4 694.5 328.9 695 329.4 695.5 329.9 696 330.4 696.5 331 697 331.6 697.5 332.2 698 333 698.5 333.8 699 334.6 699.5 335.5 700 336.4 700.5 337.6 701 339 701.5 340.2 702 340.7 702.5 336.4 703 326.9 703.5 317.2 704 308.1 704.5 298.6 705 291.7 705.5 287.1 706 283.4 706.5 281.9 707 286.1 707.4 291.9 707.5 293.2 708 300.7 708.3 304.9 708.5 307.2 709 312.4 709.5 316.9 710 320.8 710.5 324.4 711 327.9 711.5 331.3 712 334.6 712.5 337.9 712.8 339.9 713 341.2 713.5 344.4 714 347.6 714.5 350.9 715 354.5 715.5 358.3 716 362.1 716.5 365.2 716.8 366.7 717 367.6 717.5 369.4 718 370.7" stroke="#9040a0" stroke-opacity="0.85"/>
<path d="M398.5 395.5L399 395.4 399.5 394.6 400 394.8 400.5 395.2 401 395.2 401.5 395.3 402 395.1 402.5 394.2 403 394.1 403.5 394.4 404 394 404.5 394.4 405 393.5 405.5 392.8 406 392.2 406.5 392.3 407 392.4 407.5 393.1 408 392.9 408.5 391.9 409 391.4 409.5 390.1 410 390 410.5 389.6 411 390.2 411.5 389.4 412 389.1 412.5 387.8 413 387.6 413.5 387.4 414 387.5 414.5 386.9 415 386.1 415.5 384.8 416 383.8 416.5 383.5 417 383.6 417.5 383.5 418 383.2 418.5 382.2 419 381.5 419.5 380.2 420 379.9 420.5 379.4 421 378.5 421.5 378.2 422 376.8 422.5 375.8 423 374.9 423.5 375.3 424 374.4 424.5 373.6 425 372.4 425.5 371.4 426 369.7 426.5 368.3 427 367.9 427.5 367.4 428 367 428.5 365.6 429 364.2 429.5 362.4 430 361.7 430.5 361.2 431 360.1 431.5 358.6 432 357.1 432.5 356.3 433 355.1 433.5 354.5 434 353.8 434.5 352.9 435 350.9 435.5 349.1 436 348 436.5 346.7 437 346.1 437.5 345.4 438 344 438.5 342.9 439 340.3 439.5 339.9 440 340 440.5 339.2 441 338 441.5 337.7 442 337.4 442.5 336.8 443 337.5 443.5 338.5 444 341.2 444.5 342.8 445 344.2 445.5 346 446 348.1 446.4 350.3 446.5 351.1 447 353.5 447.5 356.4 448 358.5 448.5 360.5 449 361.9 449.5 363.6 449.6 361.4 450 365 450.5 366.3 451 367.1 451.5 367.7 452 368 452.5 368.9 453 370.6 453.5 371.5 454 372.1 454.5 372.8 455 372.4 455.5 372.6 456 370.9 456.5 372.8 457 374.5 457.5 374.3 458 374.6 458.5 374.5 459 374.4 459.5 375.3 460 375.3 460.5 375.8 461 375.5 461.5 375.1 462 374.8 462.5 375.2 463 375.8 463.5 376.3 464 376.8 464.1 376.6 464.5 370.5 465 375.6 465.5 375.7 466 375.4 466.5 376.4 467 376.2 467.5 376.1 468 376.6 468.5 376.3 469 376 469.5 376.7 470 377.3 470.5 375.8 471 377.3 471.5 376.2 472 375.8 472.1 375.5 472.5 376.1 473 376.5 473.5 377.1 474 377.4 474.5 376.4 475 376.2 475.5 375.2 476 374.7 476.5 375.2 477 375.5 477.5 375.3 478 369.5 478.5 374.4 479 374.2 479.4 375 479.5 375.3 480 375.4 480.5 375.6 481 375.6 481.5 375.1 482 374.8 482.5 375.4 483 375.9 483.5 376.9 484 377.2 484.5 377.4 485 376.9 485.5 376.6 486 377 486.5 377.5 487 378.3 487.5 374.4 488 377.6 488.2 377.6 488.5 378.1 489 378.1 489.5 379.4 490 379.8 490.5 380 491 379.1 491.5 379 492 378.7 492.5 379 493 380 493.5 381.1 494 379.1 494.5 381.6 495 381.1 495.5 380.9 496 381.5 496.5 382.2 497 381.8 497.5 381.8 498 382.3 498.5 381.8 499 382.1 499.5 383.2 500 384 500.5 381.2 501 383.6 501.5 383.1 502 383.2 502.5 382.9 503 384 503.5 385.1 504 385.2 504.3 385.1 504.5 385.3 505 384.6 505.5 385.1 506 385.3 506.5 385.4 507 385.7 507.5 386 508 383.1 508.5 385.2 509 386 509.5 386.9 510 387.3 510.5 388.2 511 387.6 511.5 387.2 512 386.8 512.5 387.5 513 387.8 513.5 388.8 514 386.9 514.5 388.5 515 388.4 515.5 388.9 516 389.4 516.5 390.2 517 389.5 517.5 389.8 518 389.1 518.5 389.8 519 390.1 519.5 390.2 520 391.1 520.3 391.2 520.5 390.1 521 387.7 521.3 385 521.5 376.5 522 330 522.5 278.3 522.9 248 523 244.4 523.5 228 524 213.7 524.5 201.9 525 192.4 525.5 185.6 526 181.4 526.5 180 527 181.8 527.5 186.9 528 194.5 528.5 204.2 529 215.3 529.5 227.2 530 239.3 530.2 244 530.5 252.1 531 268.3 531.2 275 531.5 285.5 532 303.5 532.2 310 532.5 319.1 533 333.3 533.5 345 534 354.2 534.5 362 535 368 535.5 372.6 536 376.4 536.5 379.6 537 382 537.5 384 538 385.7 538.5 387.3 539 388.5 539.2 388.8 539.5 389.4 539.8 389.7 540 389.9 540.5 390.2 541 390.5 541.5 390.8 542 391 542.5 391.2 543 391.4 543.5 391.6 544 391.7 544.5 391.9 545 392 545.5 392.1 546 392.3 546.5 392.4 547 392.5 547.5 392.7 548 392.8 548.5 392.9 549 393 549.5 393.1 550 393.2 550.5 393.4 551 393.4 551.5 393.5 552 393.6 552.5 393.7 553 393.8 553.5 393.8 554 393.9 554.5 394 555 394 555.5 394 556 394.1 556.5 394.1 557 394.2 557.5 394.2 558 394.2 558.5 394.3 559 394.3 559.5 394.3 560 394.3 560.5 394.3 561 394.2 561.5 394.2 562 394.1 562.5 394 563 393.9 563.5 393.8 564 393.6 564.5 393.5 565 393.3 565.5 393.2 566 393 566.5 392.8 567 392.7 567.5 392.5 568 392.2 568.5 391.9 569 391.5 569.5 391 570 390.1 570.5 388.4 570.6 388 571 375.4 571.3 360 571.5 347.8 571.8 330 572 322.9 572.5 308.9 573 298.1 573.4 290 573.5 287.7 574 276.6 574.2 275 574.5 282.2 574.9 300 575 303.6 575.5 321.4 575.7 330 576 348.6 576.2 360 576.5 372.6 576.8 380 577 381.6 577.5 384.5 578 385.6 578.5 385.9 579 386.1 579.5 386.2 580 386.2 580.5 386.1 581 385.8 581.5 385.4 582 384.8 582.5 384.1 583 383.4 583.5 382.6 584 381.8 584.5 381 585 380.2 585.5 379.6 586 379 586.5 378.5 587 377.9 587.5 377.3 588 376.7 588.5 376.1 589 375.5 589.5 375 590 374.5 590.5 374.2 591 373.9 591.5 373.7 592 373.6 592.5 373.6 593 373.8 593.5 374 594 374.2 594.5 374.5 595 374.9 595.5 375.3 596 375.7 596.5 376.2 597 376.6 597.5 377.1 598 377.5 598.5 378 599 378.5 599.5 379.1 600 379.7 600.5 380.4 601 381.1 601.5 381.8 602 382.6 602.5 383.3 603 384.1 603.5 384.8 604 385.6 604.5 386.3 605 387 605.5 387.8 606 388.6 606.5 389.5 607 390.4 607.5 391.2 608 391.9 608.5 392.3 609 392.5 609.5 392.5 610 392.5 610.5 392.5 611 392.5 611.5 392.5 612 392.5 612.5 392.5 613 392.8 613.5 393.6 614 394.6 614.5 395.7 615 396.5 615.5 397.2 616 397.8 616.5 398.5 617 399 617.5 399.5 618 399.7 618.2 399.7 618.5 399.7 619 399.6 619.5 399.5 620 399.4 620.5 399.2 621 399 621.5 398.7 622 398.5 622.5 398.2 623 397.9 623.5 397.5 624 397.2 624.5 396.8 625 396.5 625.5 396.1 626 395.6 626.5 395.1 627 394.5 627.5 393.9 628 393.2 628.5 392.4 629 391.7 629.5 390.9 630 390.1 630.5 389.3 631 388.5 631.5 387.8 632 387 632.5 386.3 633 385.5 633.5 384.7 634 384 634.5 383.2 635 382.4 635.5 381.6 636 380.8 636.5 380 637 379.2 637.5 378.3 638 377.5 638.5 376.6 639 375.7 639.5 374.8 640 373.9 640.5 373 641 372 641.5 371 642 370 642.5 369 643 368 643.5 366.9 644 365.8 644.5 364.7 645 363.7 645.5 362.6 646 361.5 646.5 360.3 647 359.2 647.5 358.1 648 357 648.5 355.9 649 354.7 649.5 353.5 650 352.3 650.5 351.1 651 349.8 651.5 348.6 652 347.4 652.5 346.2 653 345 653.5 343.8 654 342.7 654.5 341.6 655 340.6 655.5 339.6 656 338.6 656.5 337.6 657 336.6 657.5 335.6 658 334.7 658.5 333.8 659 332.9 659.5 332.1 660 331.3 660.5 330.6 661 330 661.5 329.4 662 328.8 662.5 328.2 663 327.6 663.5 327 664 326.4 664.5 326 665 325.5 665.5 325.1 666 324.8 666.5 324.6 667 324.5 667.5 324.4 668 324.4 668.5 324.3 669 324.3 669.5 324.2 670 324.2 670.5 324.1 671 324.1 671.5 324 672 324 672.5 324 673 324 673.5 323.9 674 323.9 674.5 323.9 675 323.9 675.4 323.9 675.5 323.9 676 323.9 676.5 323.9 677 324 677.5 324 678 324.1 678.5 324.1 679 324.2 679.5 324.3 680 324.4 680.5 324.5 681 324.6 681.5 324.7 682 324.8 682.5 324.9 683 325 683.5 325.1 684 325.2 684.5 325.4 685 325.5 685.5 325.7 686 325.9 686.5 326.1 687 326.3 687.5 326.5 688 326.7 688.5 327 689 327.2 689.5 327.4 690 327.7 690.5 328 691 328.2 691.5 328.5 692 328.8 692.5 329.2 693 329.5 693.5 329.9 694 330.3 694.5 330.7 695 331.1 695.5 331.5 696 332 696.5 332.5 697 333 697.5 333.6 698 334.2 698.5 335 699 335.7 699.5 336.6 700 337.4 700.5 338.5 701 339.7 701.5 340.8 702 341.2 702.5 337 703 327.6 703.5 318 704 308.7 704.5 299.1 705 292 705.5 287.3 706 283.5 706.5 282 707 286.3 707.4 292 707.5 293.3 708 300.9 708.3 305 708.5 307.3 709 312.5 709.5 317 710 321 710.5 324.5 711 328 711.5 331.4 712 334.8 712.5 338 712.8 340 713 341.3 713.5 344.5 714 347.7 714.5 351 715 354.6 715.5 358.5 716 362.3 716.5 365.5 716.8 367 717 367.8 717.5 369.7 718 371" stroke="#ff3a48" stroke-opacity="0.85"/>
</g></g>
<line x1="398.3" y1="243.8" x2="717.3" y2="243.8" stroke="#666" stroke-width="1.2"/>
<line x1="717.3" y1="243.8" x2="717.3" y2="404.7" stroke="#888" stroke-width="1"/>
<line x1="398.4" y1="243.3" x2="398.4" y2="405" stroke="#888" stroke-width="1.1"/>
<line x1="398" y1="404.7" x2="717.8" y2="404.7" stroke="#555" stroke-width="1.5"/>
<line x1="396.4" y1="396.9" x2="398.4" y2="396.9" stroke="#777" stroke-width="0.8"/>
<line x1="397.2" y1="391.5" x2="398.4" y2="391.5" stroke="#777" stroke-width="0.8"/>
<line x1="397.2" y1="386.1" x2="398.4" y2="386.1" stroke="#777" stroke-width="0.8"/>
<line x1="397.2" y1="380.7" x2="398.4" y2="380.7" stroke="#777" stroke-width="0.8"/>
<line x1="397.2" y1="375.3" x2="398.4" y2="375.3" stroke="#777" stroke-width="0.8"/>
<line x1="396.4" y1="369.9" x2="398.4" y2="369.9" stroke="#777" stroke-width="0.8"/>
<line x1="397.2" y1="364.5" x2="398.4" y2="364.5" stroke="#777" stroke-width="0.8"/>
<line x1="397.2" y1="359.1" x2="398.4" y2="359.1" stroke="#777" stroke-width="0.8"/>
<line x1="397.2" y1="353.7" x2="398.4" y2="353.7" stroke="#777" stroke-width="0.8"/>
<line x1="397.2" y1="348.3" x2="398.4" y2="348.3" stroke="#777" stroke-width="0.8"/>
<line x1="396.4" y1="342.9" x2="398.4" y2="342.9" stroke="#777" stroke-width="0.8"/>
<line x1="397.2" y1="337.5" x2="398.4" y2="337.5" stroke="#777" stroke-width="0.8"/>
<line x1="397.2" y1="332.1" x2="398.4" y2="332.1" stroke="#777" stroke-width="0.8"/>
<line x1="397.2" y1="326.7" x2="398.4" y2="326.7" stroke="#777" stroke-width="0.8"/>
<line x1="397.2" y1="321.3" x2="398.4" y2="321.3" stroke="#777" stroke-width="0.8"/>
<line x1="396.4" y1="315.9" x2="398.4" y2="315.9" stroke="#777" stroke-width="0.8"/>
<line x1="397.2" y1="310.5" x2="398.4" y2="310.5" stroke="#777" stroke-width="0.8"/>
<line x1="397.2" y1="305.1" x2="398.4" y2="305.1" stroke="#777" stroke-width="0.8"/>
<line x1="397.2" y1="299.7" x2="398.4" y2="299.7" stroke="#777" stroke-width="0.8"/>
<line x1="397.2" y1="294.3" x2="398.4" y2="294.3" stroke="#777" stroke-width="0.8"/>
<line x1="396.4" y1="288.9" x2="398.4" y2="288.9" stroke="#777" stroke-width="0.8"/>
<line x1="397.2" y1="283.5" x2="398.4" y2="283.5" stroke="#777" stroke-width="0.8"/>
<line x1="397.2" y1="278.1" x2="398.4" y2="278.1" stroke="#777" stroke-width="0.8"/>
<line x1="397.2" y1="272.7" x2="398.4" y2="272.7" stroke="#777" stroke-width="0.8"/>
<line x1="397.2" y1="267.3" x2="398.4" y2="267.3" stroke="#777" stroke-width="0.8"/>
<line x1="396.4" y1="261.9" x2="398.4" y2="261.9" stroke="#777" stroke-width="0.8"/>
<line x1="397.2" y1="256.5" x2="398.4" y2="256.5" stroke="#777" stroke-width="0.8"/>
<line x1="398" y1="404.7" x2="398" y2="407.9" stroke="#444" stroke-width="0.8"/>
<line x1="408.8" y1="404.7" x2="408.8" y2="406.7" stroke="#444" stroke-width="0.8"/>
<line x1="419.5" y1="404.7" x2="419.5" y2="406.7" stroke="#444" stroke-width="0.8"/>
<line x1="430.3" y1="404.7" x2="430.3" y2="406.7" stroke="#444" stroke-width="0.8"/>
<line x1="441" y1="404.7" x2="441" y2="406.7" stroke="#444" stroke-width="0.8"/>
<line x1="451.8" y1="404.7" x2="451.8" y2="407.9" stroke="#444" stroke-width="0.8"/>
<line x1="462.6" y1="404.7" x2="462.6" y2="406.7" stroke="#444" stroke-width="0.8"/>
<line x1="473.3" y1="404.7" x2="473.3" y2="406.7" stroke="#444" stroke-width="0.8"/>
<line x1="484.1" y1="404.7" x2="484.1" y2="406.7" stroke="#444" stroke-width="0.8"/>
<line x1="494.8" y1="404.7" x2="494.8" y2="406.7" stroke="#444" stroke-width="0.8"/>
<line x1="505.6" y1="404.7" x2="505.6" y2="407.9" stroke="#444" stroke-width="0.8"/>
<line x1="516.4" y1="404.7" x2="516.4" y2="406.7" stroke="#444" stroke-width="0.8"/>
<line x1="527.1" y1="404.7" x2="527.1" y2="406.7" stroke="#444" stroke-width="0.8"/>
<line x1="537.9" y1="404.7" x2="537.9" y2="406.7" stroke="#444" stroke-width="0.8"/>
<line x1="548.6" y1="404.7" x2="548.6" y2="406.7" stroke="#444" stroke-width="0.8"/>
<line x1="559.4" y1="404.7" x2="559.4" y2="407.9" stroke="#444" stroke-width="0.8"/>
<line x1="570.2" y1="404.7" x2="570.2" y2="406.7" stroke="#444" stroke-width="0.8"/>
<line x1="580.9" y1="404.7" x2="580.9" y2="406.7" stroke="#444" stroke-width="0.8"/>
<line x1="591.7" y1="404.7" x2="591.7" y2="406.7" stroke="#444" stroke-width="0.8"/>
<line x1="602.4" y1="404.7" x2="602.4" y2="406.7" stroke="#444" stroke-width="0.8"/>
<line x1="613.2" y1="404.7" x2="613.2" y2="407.9" stroke="#444" stroke-width="0.8"/>
<line x1="624" y1="404.7" x2="624" y2="406.7" stroke="#444" stroke-width="0.8"/>
<line x1="634.7" y1="404.7" x2="634.7" y2="406.7" stroke="#444" stroke-width="0.8"/>
<line x1="645.5" y1="404.7" x2="645.5" y2="406.7" stroke="#444" stroke-width="0.8"/>
<line x1="656.2" y1="404.7" x2="656.2" y2="406.7" stroke="#444" stroke-width="0.8"/>
<line x1="667" y1="404.7" x2="667" y2="407.9" stroke="#444" stroke-width="0.8"/>
<line x1="677.8" y1="404.7" x2="677.8" y2="406.7" stroke="#444" stroke-width="0.8"/>
<line x1="688.5" y1="404.7" x2="688.5" y2="406.7" stroke="#444" stroke-width="0.8"/>
<line x1="699.3" y1="404.7" x2="699.3" y2="406.7" stroke="#444" stroke-width="0.8"/>
<line x1="710" y1="404.7" x2="710" y2="406.7" stroke="#444" stroke-width="0.8"/>
<line x1="401.8" y1="243.8" x2="401.8" y2="245.2" stroke="#666" stroke-width="0.8"/>
<line x1="441.2" y1="243.8" x2="441.2" y2="245.2" stroke="#666" stroke-width="0.8"/>
<line x1="474.6" y1="243.8" x2="474.6" y2="245.2" stroke="#666" stroke-width="0.8"/>
<line x1="503.3" y1="243.8" x2="503.3" y2="245.2" stroke="#666" stroke-width="0.8"/>
<line x1="528.3" y1="243.8" x2="528.3" y2="245.2" stroke="#666" stroke-width="0.8"/>
<line x1="550.1" y1="243.8" x2="550.1" y2="245.2" stroke="#666" stroke-width="0.8"/>
<line x1="569.4" y1="243.8" x2="569.4" y2="245.2" stroke="#666" stroke-width="0.8"/>
<line x1="586.6" y1="243.8" x2="586.6" y2="245.2" stroke="#666" stroke-width="0.8"/>
<line x1="602" y1="243.8" x2="602" y2="245.2" stroke="#666" stroke-width="0.8"/>
<line x1="615.9" y1="243.8" x2="615.9" y2="245.2" stroke="#666" stroke-width="0.8"/>
<line x1="628.4" y1="243.8" x2="628.4" y2="245.2" stroke="#666" stroke-width="0.8"/>
<line x1="639.9" y1="243.8" x2="639.9" y2="245.2" stroke="#666" stroke-width="0.8"/>
<line x1="650.3" y1="243.8" x2="650.3" y2="245.2" stroke="#666" stroke-width="0.8"/>
<line x1="659.9" y1="243.8" x2="659.9" y2="245.2" stroke="#666" stroke-width="0.8"/>
<line x1="668.7" y1="243.8" x2="668.7" y2="245.2" stroke="#666" stroke-width="0.8"/>
<line x1="676.9" y1="243.8" x2="676.9" y2="245.2" stroke="#666" stroke-width="0.8"/>
<line x1="684.4" y1="243.8" x2="684.4" y2="245.2" stroke="#666" stroke-width="0.8"/>
<line x1="691.4" y1="243.8" x2="691.4" y2="245.2" stroke="#666" stroke-width="0.8"/>
<line x1="698" y1="243.8" x2="698" y2="245.2" stroke="#666" stroke-width="0.8"/>
<line x1="704.1" y1="243.8" x2="704.1" y2="245.2" stroke="#666" stroke-width="0.8"/>
<line x1="709.8" y1="243.8" x2="709.8" y2="245.2" stroke="#666" stroke-width="0.8"/>
<text x="396.8" y="264.2" font-family='"Liberation Sans", sans-serif' font-size="6.4" text-anchor="end" fill="#3a3a3a" stroke="#3a3a3a" stroke-width="0.22" textLength="10.8" lengthAdjust="spacingAndGlyphs">0.25</text>
<text x="396.8" y="291.2" font-family='"Liberation Sans", sans-serif' font-size="6.4" text-anchor="end" fill="#3a3a3a" stroke="#3a3a3a" stroke-width="0.22" textLength="10.8" lengthAdjust="spacingAndGlyphs">0.20</text>
<text x="396.8" y="318.2" font-family='"Liberation Sans", sans-serif' font-size="6.4" text-anchor="end" fill="#3a3a3a" stroke="#3a3a3a" stroke-width="0.22" textLength="10.8" lengthAdjust="spacingAndGlyphs">0.15</text>
<text x="396.8" y="345.2" font-family='"Liberation Sans", sans-serif' font-size="6.4" text-anchor="end" fill="#3a3a3a" stroke="#3a3a3a" stroke-width="0.22" textLength="10.8" lengthAdjust="spacingAndGlyphs">0.10</text>
<text x="396.8" y="372.2" font-family='"Liberation Sans", sans-serif' font-size="6.4" text-anchor="end" fill="#3a3a3a" stroke="#3a3a3a" stroke-width="0.22" textLength="10.8" lengthAdjust="spacingAndGlyphs">0.05</text>
<text x="396.8" y="399.2" font-family='"Liberation Sans", sans-serif' font-size="6.4" text-anchor="end" fill="#3a3a3a" stroke="#3a3a3a" stroke-width="0.22" textLength="10.8" lengthAdjust="spacingAndGlyphs">0.00</text>
<text x="398" y="418" font-family='"Liberation Sans", sans-serif' font-size="6.6" text-anchor="middle" fill="#333" stroke="#333" stroke-width="0.22" textLength="14" lengthAdjust="spacingAndGlyphs">1800</text>
<text x="451.8" y="418" font-family='"Liberation Sans", sans-serif' font-size="6.6" text-anchor="middle" fill="#333" stroke="#333" stroke-width="0.22" textLength="14" lengthAdjust="spacingAndGlyphs">1600</text>
<text x="505.6" y="418" font-family='"Liberation Sans", sans-serif' font-size="6.6" text-anchor="middle" fill="#333" stroke="#333" stroke-width="0.22" textLength="14" lengthAdjust="spacingAndGlyphs">1400</text>
<text x="559.4" y="418" font-family='"Liberation Sans", sans-serif' font-size="6.6" text-anchor="middle" fill="#333" stroke="#333" stroke-width="0.22" textLength="14" lengthAdjust="spacingAndGlyphs">1200</text>
<text x="613.2" y="418" font-family='"Liberation Sans", sans-serif' font-size="6.6" text-anchor="middle" fill="#333" stroke="#333" stroke-width="0.22" textLength="14" lengthAdjust="spacingAndGlyphs">1000</text>
<text x="667" y="418" font-family='"Liberation Sans", sans-serif' font-size="6.6" text-anchor="middle" fill="#333" stroke="#333" stroke-width="0.22" textLength="10.5" lengthAdjust="spacingAndGlyphs">800</text>
<text x="433.9" y="239.2" font-family='"Liberation Sans", sans-serif' font-size="6.6" text-anchor="middle" fill="#333" stroke="#333" stroke-width="0.22" textLength="3.6" lengthAdjust="spacingAndGlyphs">6</text>
<text x="497.9" y="239.2" font-family='"Liberation Sans", sans-serif' font-size="6.6" text-anchor="middle" fill="#333" stroke="#333" stroke-width="0.22" textLength="3.6" lengthAdjust="spacingAndGlyphs">7</text>
<text x="546" y="240.2" font-family='"Liberation Sans", sans-serif' font-size="6.6" text-anchor="middle" fill="#333" stroke="#333" stroke-width="0.22" textLength="3.6" lengthAdjust="spacingAndGlyphs">8</text>
<text x="583.3" y="239.2" font-family='"Liberation Sans", sans-serif' font-size="6.6" text-anchor="middle" fill="#333" stroke="#333" stroke-width="0.22" textLength="3.6" lengthAdjust="spacingAndGlyphs">9</text>
<text x="637.7" y="239.2" font-family='"Liberation Sans", sans-serif' font-size="6.6" text-anchor="middle" fill="#333" stroke="#333" stroke-width="0.22" textLength="7.2" lengthAdjust="spacingAndGlyphs">11</text>
<text x="675.3" y="239.2" font-family='"Liberation Sans", sans-serif' font-size="6.6" text-anchor="middle" fill="#333" stroke="#333" stroke-width="0.22" textLength="7.2" lengthAdjust="spacingAndGlyphs">13</text>
<text x="702.9" y="239.2" font-family='"Liberation Sans", sans-serif' font-size="6.6" text-anchor="middle" fill="#333" stroke="#333" stroke-width="0.22" textLength="7.2" lengthAdjust="spacingAndGlyphs">15</text>
<text x="532.2" y="228.8" font-family='"Liberation Sans", sans-serif' font-size="8.6" text-anchor="start" fill="#2a2a2a" stroke="#2a2a2a" stroke-width="0.22" textLength="61.1" lengthAdjust="spacingAndGlyphs">Wavelength (µm)</text>
<text x="529.4" y="431" font-family='"Liberation Sans", sans-serif' font-size="8.6" text-anchor="start" fill="#2a2a2a" stroke="#2a2a2a" stroke-width="0.22" textLength="66.5" lengthAdjust="spacingAndGlyphs">Wavenumber (cm<tspan dy="-3.6" font-size="4.6"> -1</tspan><tspan dy="3.6"> )</tspan></text>
<text transform="translate(379.3 329) rotate(-90)" x="0" y="0" font-family='"Liberation Sans", sans-serif' font-size="8.8" text-anchor="middle" dominant-baseline="central" fill="#2a2a2a" stroke="#2a2a2a" stroke-width="0.22" textLength="55" lengthAdjust="spacingAndGlyphs">Absorbance</text>
<text x="403.1" y="260.5" font-family='"Liberation Serif", serif' font-size="15.5" text-anchor="start" fill="#1a1a1a" stroke="#1a1a1a" stroke-width="0.28" textLength="29.5" lengthAdjust="spacingAndGlyphs">E90K</text>
<text x="403.3" y="275.6" font-family='"Liberation Serif", serif' font-size="14.5" text-anchor="start" fill="#1a1a1a" stroke="#1a1a1a" stroke-width="0.28" textLength="10.6" lengthAdjust="spacingAndGlyphs">b)</text>
<line x1="422.3" y1="296" x2="454.8" y2="296" stroke="#222" stroke-width="1.4"/>
<text x="423.6" y="304.8" font-family='"Liberation Serif", serif' font-size="9" text-anchor="start" fill="#222" stroke="#222" stroke-width="0.28" textLength="12.8" lengthAdjust="spacingAndGlyphs">H₂O</text>
<text x="461.2" y="278.1" font-family='"Liberation Serif", serif' font-size="6" text-anchor="start" fill="#222" stroke="#222" stroke-width="0.28" textLength="10.5" lengthAdjust="spacingAndGlyphs">1552</text>
<line x1="465.8" y1="283" x2="465.8" y2="294" stroke="#222" stroke-width="1"/>
<text x="478.9" y="298.3" font-family='"Liberation Serif", serif' font-size="6" text-anchor="start" fill="#222" stroke="#222" stroke-width="0.28" textLength="10.5" lengthAdjust="spacingAndGlyphs">1493</text>
<line x1="482.4" y1="304" x2="482.4" y2="314.7" stroke="#222" stroke-width="1"/>
<text x="504.6" y="309.3" font-family='"Liberation Serif", serif' font-size="6" text-anchor="start" fill="#222" stroke="#222" stroke-width="0.28" textLength="11.4" lengthAdjust="spacingAndGlyphs">1395</text>
<line x1="509" y1="313.6" x2="509" y2="324.2" stroke="#222" stroke-width="1"/>
<text x="450.9" y="317.2" font-family='"Liberation Serif", serif' font-size="9" text-anchor="start" fill="#222" stroke="#222" stroke-width="0.28" textLength="11.5" lengthAdjust="spacingAndGlyphs">90K</text>
<text x="452" y="337.6" font-family='"Liberation Serif", serif' font-size="9" text-anchor="start" fill="#222" stroke="#222" stroke-width="0.28" textLength="12" lengthAdjust="spacingAndGlyphs">80K</text>
<text x="452" y="362" font-family='"Liberation Serif", serif' font-size="9" text-anchor="start" fill="#222" stroke="#222" stroke-width="0.28" textLength="12" lengthAdjust="spacingAndGlyphs">50K</text>
<text x="450.9" y="387.2" font-family='"Liberation Serif", serif' font-size="9" text-anchor="start" fill="#222" stroke="#222" stroke-width="0.28" textLength="11.6" lengthAdjust="spacingAndGlyphs">13K</text>
<text x="533.6" y="263.6" font-family='"Liberation Serif", serif' font-size="9" text-anchor="start" fill="#222" stroke="#222" stroke-width="0.28" textLength="25.5" lengthAdjust="spacingAndGlyphs">SO₂ (<tspan font-style="italic">v</tspan>3)</text>
<text x="571.9" y="264.1" font-family='"Liberation Serif", serif' font-size="9" text-anchor="start" fill="#222" stroke="#222" stroke-width="0.28" textLength="24.9" lengthAdjust="spacingAndGlyphs">SO₂ (<tspan font-style="italic">v</tspan>1)</text>
<text x="584" y="317.3" font-family='"Liberation Serif", serif' font-size="9" text-anchor="start" fill="#222" stroke="#222" stroke-width="0.28" textLength="12.3" lengthAdjust="spacingAndGlyphs">NH₃</text>
<line x1="593" y1="325.5" x2="593" y2="340" stroke="#111" stroke-width="1"/>
<path d="M590.6 339.5 L593 345.1 L595.4 339.5 Z" fill="#111"/>
<text x="600" y="296.7" font-family='"Liberation Serif", serif' font-size="6" text-anchor="start" fill="#222" stroke="#222" stroke-width="0.28" textLength="10" lengthAdjust="spacingAndGlyphs">1035</text>
<line x1="604.5" y1="301.5" x2="604.5" y2="333.5" stroke="#222" stroke-width="1"/>
<text x="608.7" y="325" font-family='"Liberation Serif", serif' font-size="6" text-anchor="start" fill="#222" stroke="#222" stroke-width="0.28" textLength="11" lengthAdjust="spacingAndGlyphs">1011</text>
<line x1="612.9" y1="331.3" x2="612.9" y2="342.3" stroke="#222" stroke-width="1"/>
<text x="626" y="334.7" font-family='"Liberation Serif", serif' font-size="6" text-anchor="start" fill="#222" stroke="#222" stroke-width="0.28" textLength="8.9" lengthAdjust="spacingAndGlyphs">957</text>
<line x1="627.2" y1="336.8" x2="627.2" y2="346.5" stroke="#222" stroke-width="1"/>
<line x1="645.6" y1="250.9" x2="687.8" y2="250.9" stroke="#222" stroke-width="1.4"/>
<text x="675" y="261.1" font-family='"Liberation Serif", serif' font-size="9" text-anchor="start" fill="#222" stroke="#222" stroke-width="0.28" textLength="13.1" lengthAdjust="spacingAndGlyphs">H₂O</text>
<text x="656" y="264.9" font-family='"Liberation Serif", serif' font-size="6" text-anchor="start" fill="#222" stroke="#222" stroke-width="0.28" textLength="8.9" lengthAdjust="spacingAndGlyphs">826</text>
<line x1="660.5" y1="270.9" x2="660.5" y2="281.3" stroke="#222" stroke-width="1"/>
<text x="698.1" y="276.6" font-family='"Liberation Serif", serif' font-size="9" text-anchor="start" fill="#222" stroke="#222" stroke-width="0.28" textLength="12.5" lengthAdjust="spacingAndGlyphs">CO₂</text>
<line x1="722.4" y1="328.5" x2="722.4" y2="404.3" stroke="#444" stroke-width="1.6"/>
<path d="M721.6 323.3 L725 329.5 L720.3 329.5 Z" fill="#111"/>
<text transform="translate(730.6 375.5) rotate(-90)" x="0" y="0" font-family='"Liberation Serif", serif' font-size="9.5" text-anchor="middle" dominant-baseline="central" fill="#111" stroke="#111" stroke-width="0.28" textLength="57.6" lengthAdjust="spacingAndGlyphs">Temperature</text>
</svg>
</body></html>
